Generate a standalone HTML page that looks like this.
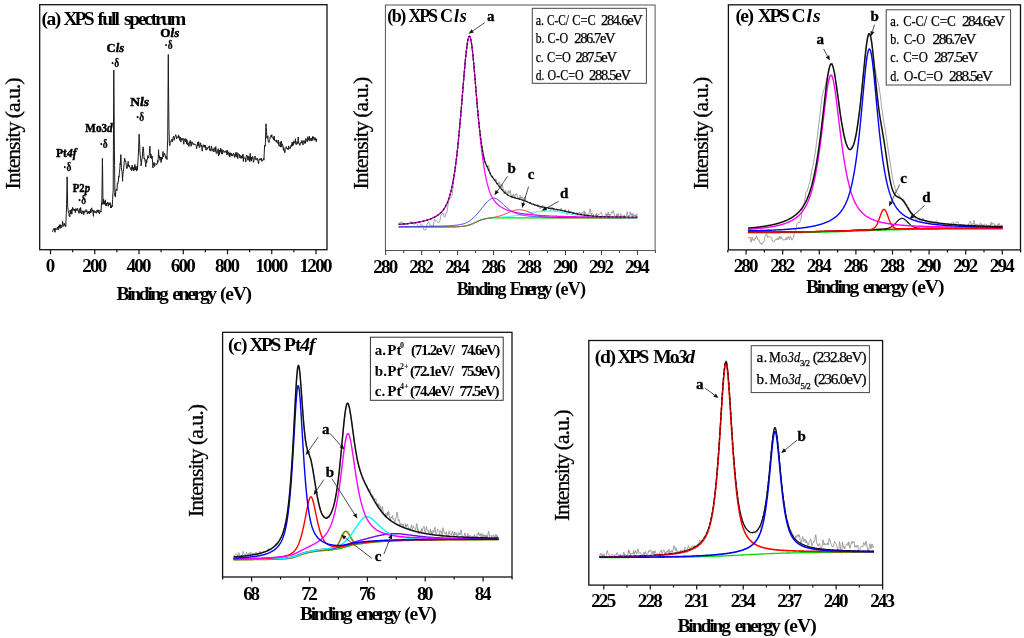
<!DOCTYPE html><html><head><meta charset="utf-8"><style>html,body{margin:0;padding:0;background:#fff;width:1024px;height:638px;overflow:hidden}</style></head><body><svg width="1024" height="638" viewBox="0 0 1024 638" style="display:block;filter:blur(0.3px)">
<rect width="1024" height="638" fill="#fff"/>
<g font-family="'Liberation Serif', serif">
<rect x="39.70" y="4.70" width="287.30" height="245.00" fill="none" stroke="#111" stroke-width="1.3"/>
<path d="M50.50,249.70V254.20M94.75,249.70V254.20M139.00,249.70V254.20M183.25,249.70V254.20M227.50,249.70V254.20M271.75,249.70V254.20M316.00,249.70V254.20M72.62,249.70V252.20M116.88,249.70V252.20M161.12,249.70V252.20M205.38,249.70V252.20M249.62,249.70V252.20M293.88,249.70V252.20" stroke="#111" stroke-width="1.2" fill="none"/>
<text x="50.50" y="271.80" font-size="19" font-weight="bold" text-anchor="middle" textLength="8.30" lengthAdjust="spacing" >0</text>
<text x="94.75" y="271.80" font-size="19" font-weight="bold" text-anchor="middle" textLength="24.90" lengthAdjust="spacing" >200</text>
<text x="139.00" y="271.80" font-size="19" font-weight="bold" text-anchor="middle" textLength="24.90" lengthAdjust="spacing" >400</text>
<text x="183.25" y="271.80" font-size="19" font-weight="bold" text-anchor="middle" textLength="24.90" lengthAdjust="spacing" >600</text>
<text x="227.50" y="271.80" font-size="19" font-weight="bold" text-anchor="middle" textLength="24.90" lengthAdjust="spacing" >800</text>
<text x="271.75" y="271.80" font-size="19" font-weight="bold" text-anchor="middle" textLength="33.20" lengthAdjust="spacing" >1000</text>
<text x="316.00" y="271.80" font-size="19" font-weight="bold" text-anchor="middle" textLength="33.20" lengthAdjust="spacing" >1200</text>
<text x="116.60" y="299.50" font-size="19.5" font-weight="bold" textLength="52.12" lengthAdjust="spacing">Binding</text>
<text x="172.23" y="299.50" font-size="19.5" font-weight="bold" textLength="44.85" lengthAdjust="spacing">energy</text>
<text x="219.91" y="299.50" font-size="19.5" font-weight="bold" textLength="32.19" lengthAdjust="spacing">(eV)</text>
<text x="19.80" y="133.45" font-size="21.8" text-anchor="middle" textLength="111.90" lengthAdjust="spacing" transform="rotate(-90 19.80 133.45)" stroke="#000" stroke-width="0.3">Intensity (a.u.)</text>
<text x="41.60" y="24.50" font-size="19.5" font-weight="bold" textLength="19.70" lengthAdjust="spacing">(a)</text>
<text x="63.40" y="24.50" font-size="19.5" font-weight="bold" textLength="31.10" lengthAdjust="spacing">XPS</text>
<text x="97.60" y="24.50" font-size="19.5" font-weight="bold" textLength="22.30" lengthAdjust="spacing">full</text>
<text x="124.00" y="24.50" font-size="19.5" font-weight="bold" textLength="62.30" lengthAdjust="spacing">spectrum</text>
<path d="M52.2,231.5L52.2,231.5L52.6,231.8L53.0,230.4L53.4,228.9L53.8,229.5L54.2,228.2L54.6,230.0L55.0,232.3L55.4,228.4L55.8,227.9L56.0,229.0L56.2,230.0L56.6,229.6L57.0,229.1L57.4,227.0L57.8,228.7L58.2,230.1L58.6,226.0L59.0,227.7L59.4,224.8L59.8,225.9L60.0,228.5L60.2,224.6L60.6,227.5L61.0,225.1L61.4,227.9L61.8,227.3L62.2,226.3L62.6,221.3L63.0,224.9L63.0,226.0L63.4,226.0L63.8,226.4L64.2,223.2L64.6,225.4L65.0,224.5L65.4,224.9L65.7,226.6L65.8,226.6L66.2,214.6L66.5,210.0L66.6,204.4L67.0,184.2L67.1,176.9L67.4,190.8L67.7,207.0L67.8,207.4L68.2,210.4L68.6,212.9L69.0,212.9L69.1,216.0L69.4,215.4L69.8,216.9L70.2,210.0L70.6,213.8L71.0,211.2L71.0,211.0L71.4,209.4L71.8,214.3L72.2,211.5L72.6,207.3L73.0,209.5L73.4,210.2L73.4,209.0L73.8,208.8L74.2,210.7L74.6,209.3L75.0,210.9L75.4,212.6L75.8,208.6L76.2,210.5L76.6,209.3L77.0,210.6L77.4,208.1L77.8,209.5L78.2,210.4L78.6,212.8L79.0,213.4L79.4,208.6L79.8,209.8L80.0,211.5L80.2,212.8L80.6,207.5L81.0,210.6L81.4,211.3L81.8,214.1L82.2,212.9L82.6,210.9L83.0,210.9L83.4,211.1L83.8,214.7L84.2,210.8L84.6,211.0L85.0,212.4L85.4,211.4L85.8,211.3L86.2,209.5L86.6,211.7L87.0,210.8L87.4,214.1L87.8,213.0L88.2,211.7L88.6,213.1L89.0,211.1L89.4,213.9L89.8,211.8L90.0,211.8L90.2,213.0L90.6,209.2L91.0,212.5L91.4,208.4L91.8,207.8L92.2,211.2L92.6,210.0L93.0,212.2L93.4,216.4L93.8,210.2L94.2,210.6L94.6,212.3L95.0,212.9L95.4,211.5L95.8,211.5L96.2,213.3L96.6,213.0L97.0,209.9L97.4,211.8L97.8,212.0L98.2,209.8L98.6,212.5L99.0,210.2L99.4,213.9L99.8,212.4L100.2,212.2L100.6,210.8L101.0,211.8L101.0,212.0L101.4,204.5L101.8,202.7L101.8,205.0L102.2,174.7L102.4,158.4L102.6,168.8L103.0,204.1L103.0,202.4L103.4,199.0L103.8,204.1L104.2,200.9L104.6,204.3L105.0,203.1L105.4,199.8L105.8,205.5L106.0,203.0L106.2,206.0L106.6,203.2L107.0,203.0L107.4,203.4L107.8,201.9L108.2,206.3L108.6,203.2L109.0,204.4L109.4,203.1L109.8,203.6L110.0,205.0L110.2,202.6L110.6,208.0L111.0,205.5L111.4,208.0L111.8,206.4L112.2,205.3L112.2,206.7L112.6,199.4L113.0,192.2L113.2,190.0L113.4,150.3L113.8,70.1L113.8,70.9L114.2,123.0L114.4,150.0L114.6,165.4L114.9,195.5L115.0,193.5L115.4,197.1L115.8,191.1L116.2,188.9L116.5,190.0L116.6,190.2L117.0,190.6L117.4,183.0L117.8,183.7L118.2,181.0L118.4,181.4L118.6,176.1L119.0,177.4L119.4,172.2L119.8,168.8L120.2,163.5L120.2,165.0L120.6,159.0L120.8,154.6L121.0,157.9L121.4,167.5L121.5,170.0L121.8,170.1L122.2,173.0L122.6,181.3L122.6,178.6L123.0,173.7L123.4,171.4L123.8,166.9L124.0,165.0L124.2,162.1L124.6,158.1L124.7,158.1L125.0,160.6L125.4,160.4L125.8,162.4L126.2,164.4L126.6,168.4L126.9,167.3L127.0,168.4L127.4,166.8L127.8,163.9L128.2,161.3L128.3,163.8L128.6,166.2L129.0,166.8L129.4,165.2L129.8,167.2L130.2,168.3L130.6,169.0L131.0,169.8L131.0,168.0L131.4,167.0L131.8,170.8L132.2,165.1L132.6,169.2L133.0,168.3L133.4,168.9L133.8,170.8L134.0,167.0L134.2,170.2L134.6,165.3L135.0,164.5L135.4,169.9L135.8,166.6L136.2,169.0L136.6,171.1L137.0,166.4L137.4,165.9L137.4,170.1L137.8,163.9L138.2,156.8L138.6,149.5L138.6,150.0L139.0,137.4L139.1,134.2L139.4,139.3L139.8,147.0L139.8,150.0L140.2,155.0L140.6,158.7L141.0,162.6L141.0,165.9L141.4,164.0L141.8,160.0L142.2,158.0L142.5,155.0L142.6,151.7L143.0,146.9L143.1,146.9L143.4,148.6L143.8,153.8L144.0,158.0L144.2,158.9L144.6,158.0L145.0,161.3L145.4,162.4L145.8,166.8L145.9,163.0L146.2,159.5L146.6,163.1L147.0,160.2L147.4,159.4L147.8,155.6L148.2,156.7L148.6,158.1L149.0,155.5L149.3,155.0L149.4,153.7L149.8,147.1L149.9,146.2L150.2,152.4L150.6,155.3L150.8,158.0L151.0,154.3L151.4,158.6L151.8,157.3L152.2,156.1L152.6,162.8L153.0,167.9L153.0,165.2L153.4,165.1L153.8,162.4L154.2,162.6L154.6,166.5L155.0,164.4L155.4,163.9L155.8,163.5L156.2,163.4L156.6,164.8L157.0,164.0L157.4,163.1L157.8,160.4L157.9,162.4L158.2,158.6L158.6,149.7L158.6,151.1L159.0,157.2L159.3,158.0L159.4,155.8L159.8,159.4L160.0,160.3L160.2,160.0L160.6,156.9L161.0,162.6L161.4,161.6L161.8,157.2L162.2,159.2L162.6,158.0L163.0,151.5L163.4,156.8L163.8,155.7L164.2,155.5L164.2,155.3L164.6,153.3L165.0,155.1L165.4,155.5L165.8,158.4L166.2,156.8L166.6,156.3L167.0,159.6L167.0,156.5L167.4,146.0L167.7,140.0L167.8,125.0L168.2,65.1L168.3,54.5L168.6,92.9L168.9,125.0L169.0,130.3L169.4,143.5L169.5,145.0L169.8,145.6L170.2,143.5L170.6,142.8L171.0,140.9L171.4,140.0L171.8,139.6L172.0,139.0L172.2,141.9L172.6,139.6L173.0,138.0L173.4,136.7L173.8,136.2L174.2,140.4L174.6,137.8L175.0,136.6L175.0,136.5L175.4,136.0L175.8,134.6L176.2,136.9L176.6,138.9L177.0,136.6L177.4,137.1L177.8,137.3L178.2,138.1L178.6,134.9L179.0,137.8L179.4,136.7L179.8,140.3L180.2,137.2L180.6,140.1L181.0,142.1L181.4,138.6L181.8,138.2L182.2,140.0L182.6,139.8L183.0,138.0L183.4,141.1L183.8,144.3L184.2,140.0L184.6,140.3L185.0,138.7L185.4,141.6L185.8,138.7L186.2,139.1L186.6,144.1L187.0,139.9L187.4,144.0L187.8,145.1L188.2,142.7L188.6,143.5L189.0,146.5L189.4,142.3L189.8,141.7L190.0,143.0L190.2,140.4L190.6,143.3L191.0,146.3L191.4,145.3L191.8,141.7L192.2,141.9L192.6,142.8L193.0,144.5L193.4,143.6L193.8,144.6L194.2,144.9L194.6,143.8L195.0,144.4L195.4,145.0L195.8,144.6L196.2,145.9L196.6,148.7L197.0,146.3L197.4,145.3L197.8,142.0L198.2,146.2L198.6,141.7L199.0,142.9L199.4,147.5L199.8,147.4L200.2,145.8L200.6,142.8L201.0,145.6L201.4,145.1L201.8,147.8L202.2,151.2L202.6,147.2L203.0,145.3L203.4,144.7L203.8,147.0L204.2,146.9L204.6,145.1L205.0,147.7L205.4,145.3L205.8,150.0L206.2,150.0L206.6,150.1L207.0,147.2L207.4,149.2L207.8,148.1L208.2,147.7L208.6,147.9L209.0,146.1L209.4,145.9L209.8,150.5L210.0,149.0L210.2,148.7L210.6,149.6L211.0,151.2L211.4,145.9L211.8,147.9L212.2,149.9L212.6,150.4L213.0,149.0L213.4,151.9L213.8,150.3L214.2,147.6L214.6,148.2L215.0,151.8L215.4,151.2L215.8,146.6L216.2,153.2L216.6,151.8L217.0,153.4L217.4,150.0L217.8,150.3L218.2,148.7L218.6,156.1L219.0,150.8L219.4,154.4L219.8,150.1L220.0,151.4L220.2,151.8L220.6,148.2L221.0,150.9L221.4,153.8L221.8,149.4L222.2,154.2L222.6,152.8L223.0,150.1L223.4,151.3L223.8,151.5L224.2,152.5L224.6,151.6L225.0,151.1L225.4,152.3L225.8,151.0L226.2,150.5L226.6,153.1L227.0,155.1L227.4,150.4L227.8,153.6L228.2,152.4L228.6,151.8L229.0,155.6L229.4,153.0L229.8,157.1L230.2,152.7L230.6,155.1L231.0,154.0L231.4,153.1L231.8,155.9L232.2,154.5L232.6,156.1L233.0,154.9L233.4,153.0L233.8,155.0L234.2,155.5L234.6,157.4L235.0,153.8L235.4,155.6L235.8,152.4L236.2,157.2L236.6,153.9L237.0,152.5L237.4,156.1L237.8,158.6L238.2,153.4L238.6,154.4L239.0,155.2L239.4,154.5L239.8,157.7L240.2,155.4L240.6,155.7L241.0,158.4L241.4,155.9L241.8,158.3L242.2,155.6L242.6,155.3L242.6,157.7L243.0,154.1L243.4,161.6L243.8,157.3L244.2,158.5L244.6,158.0L245.0,158.4L245.4,158.3L245.8,162.0L246.2,156.2L246.6,155.3L247.0,156.4L247.4,155.8L247.8,160.1L248.2,160.3L248.6,156.8L249.0,156.0L249.4,158.1L249.8,161.7L250.2,153.3L250.6,160.1L251.0,156.9L251.4,161.2L251.8,157.1L252.2,158.7L252.6,156.4L253.0,157.5L253.4,162.3L253.8,161.2L254.2,158.8L254.6,158.0L255.0,156.0L255.4,159.0L255.8,159.8L256.2,159.8L256.6,159.8L257.0,157.9L257.4,160.0L257.6,160.2L257.8,160.1L258.2,162.8L258.6,163.9L259.0,159.9L259.4,158.7L259.8,160.1L260.2,159.0L260.6,158.7L261.0,160.1L261.4,158.1L261.8,161.4L262.2,160.0L262.6,160.7L263.0,159.8L263.4,158.7L263.8,158.3L263.9,160.2L264.2,153.8L264.6,145.3L264.6,146.4L265.0,146.6L265.3,146.0L265.4,142.8L265.8,127.4L266.0,123.8L266.2,127.4L266.6,131.5L266.8,137.6L267.0,136.8L267.4,138.4L267.8,135.8L268.2,141.0L268.6,142.1L269.0,142.4L269.0,142.7L269.4,140.6L269.8,139.4L270.2,137.0L270.6,137.1L271.0,135.3L271.0,136.4L271.4,136.9L271.8,134.7L272.2,138.0L272.6,138.1L273.0,137.9L273.4,137.7L273.8,140.1L274.2,136.0L274.6,140.6L275.0,140.5L275.4,141.0L275.8,141.5L276.2,139.8L276.5,141.4L276.6,141.0L277.0,143.1L277.4,143.1L277.8,143.0L278.2,140.0L278.6,144.5L279.0,146.1L279.4,146.2L279.8,145.0L280.2,141.8L280.6,147.1L281.0,145.3L281.4,141.0L281.8,147.1L282.2,143.8L282.6,144.6L283.0,146.3L283.4,150.4L283.8,147.5L284.2,149.2L284.6,152.5L285.0,152.6L285.2,149.6L285.4,149.3L285.8,148.7L286.2,146.5L286.6,147.3L287.0,149.3L287.4,149.0L287.8,148.2L288.2,149.7L288.6,145.9L289.0,147.1L289.4,148.4L289.8,147.9L290.2,148.6L290.6,147.0L291.0,145.4L291.4,146.5L291.8,143.5L292.2,142.0L292.6,146.1L293.0,144.6L293.4,145.1L293.8,140.8L294.2,143.3L294.6,142.5L295.0,141.8L295.3,143.3L295.4,138.8L295.8,142.5L296.2,144.8L296.6,143.7L297.0,141.6L297.4,142.7L297.8,144.1L298.2,137.0L298.6,142.1L299.0,143.3L299.4,143.5L299.8,145.4L300.2,144.2L300.6,142.4L301.0,142.3L301.4,143.1L301.8,140.4L302.2,141.2L302.6,143.0L303.0,145.0L303.4,140.7L303.8,140.8L304.2,141.2L304.6,143.3L305.0,140.5L305.4,143.4L305.8,138.4L306.2,139.8L306.6,139.7L307.0,141.5L307.4,141.9L307.8,136.7L308.2,137.8L308.6,140.2L309.0,138.1L309.4,136.2L309.8,141.2L310.2,140.0L310.6,139.9L311.0,137.9L311.4,140.8L311.8,138.1L312.2,140.7L312.6,136.5L312.8,138.3L313.0,136.7L313.4,139.0L313.8,137.4L314.2,140.3L314.6,139.7L315.0,137.5L315.4,139.7L315.8,139.0L316.2,141.7L316.6,138.8L316.6,140.1" fill="none" stroke="#1a1a1a" stroke-width="1.0" stroke-linejoin="round" />
<text x="56.00" y="157.00" font-size="12" font-weight="bold" textLength="20.70" lengthAdjust="spacingAndGlyphs" stroke="#000" stroke-width="0.45">Pt<tspan font-style="italic">4f</tspan></text>
<text x="67.30" y="171.00" font-size="11.5" font-weight="bold" text-anchor="middle" textLength="8" lengthAdjust="spacingAndGlyphs" stroke="#000" stroke-width="0.3">·δ</text>
<text x="72.70" y="192.40" font-size="12" font-weight="bold" textLength="17.30" lengthAdjust="spacingAndGlyphs" stroke="#000" stroke-width="0.45">P2<tspan font-style="italic">p</tspan></text>
<text x="82.10" y="204.00" font-size="11.5" font-weight="bold" text-anchor="middle" textLength="8" lengthAdjust="spacingAndGlyphs" stroke="#000" stroke-width="0.3">·δ</text>
<text x="85.30" y="132.00" font-size="12" font-weight="bold" textLength="27.40" lengthAdjust="spacingAndGlyphs" stroke="#000" stroke-width="0.45">Mo3<tspan font-style="italic">d</tspan></text>
<text x="103.70" y="148.40" font-size="11.5" font-weight="bold" text-anchor="middle" textLength="8" lengthAdjust="spacingAndGlyphs" stroke="#000" stroke-width="0.3">·δ</text>
<text x="106.60" y="51.90" font-size="12" font-weight="bold" textLength="17.50" lengthAdjust="spacingAndGlyphs" stroke="#000" stroke-width="0.45">C<tspan font-style="italic">ls</tspan></text>
<text x="115.10" y="66.70" font-size="11.5" font-weight="bold" text-anchor="middle" textLength="8" lengthAdjust="spacingAndGlyphs" stroke="#000" stroke-width="0.3">·δ</text>
<text x="130.20" y="106.20" font-size="12" font-weight="bold" textLength="18.90" lengthAdjust="spacingAndGlyphs" stroke="#000" stroke-width="0.45">N<tspan font-style="italic">ls</tspan></text>
<text x="140.10" y="121.00" font-size="11.5" font-weight="bold" text-anchor="middle" textLength="8" lengthAdjust="spacingAndGlyphs" stroke="#000" stroke-width="0.3">·δ</text>
<text x="160.30" y="37.20" font-size="12" font-weight="bold" textLength="19.00" lengthAdjust="spacingAndGlyphs" stroke="#000" stroke-width="0.45">O<tspan font-style="italic">ls</tspan></text>
<text x="168.50" y="49.40" font-size="11.5" font-weight="bold" text-anchor="middle" textLength="8" lengthAdjust="spacingAndGlyphs" stroke="#000" stroke-width="0.3">·δ</text>
<rect x="385.40" y="5.00" width="269.70" height="245.50" fill="none" stroke="#555" stroke-width="1.0"/>
<path d="M385.70,250.50V255.00M421.66,250.50V255.00M457.62,250.50V255.00M493.58,250.50V255.00M529.54,250.50V255.00M565.50,250.50V255.00M601.46,250.50V255.00M637.42,250.50V255.00M403.68,250.50V253.00M439.64,250.50V253.00M475.60,250.50V253.00M511.56,250.50V253.00M547.52,250.50V253.00M583.48,250.50V253.00M619.44,250.50V253.00M655.40,250.50V253.00" stroke="#333" stroke-width="1.0" fill="none"/>
<text x="385.70" y="272.90" font-size="19" font-weight="bold" text-anchor="middle" textLength="24.90" lengthAdjust="spacing" >280</text>
<text x="421.66" y="272.90" font-size="19" font-weight="bold" text-anchor="middle" textLength="24.90" lengthAdjust="spacing" >282</text>
<text x="457.62" y="272.90" font-size="19" font-weight="bold" text-anchor="middle" textLength="24.90" lengthAdjust="spacing" >284</text>
<text x="493.58" y="272.90" font-size="19" font-weight="bold" text-anchor="middle" textLength="24.90" lengthAdjust="spacing" >286</text>
<text x="529.54" y="272.90" font-size="19" font-weight="bold" text-anchor="middle" textLength="24.90" lengthAdjust="spacing" >288</text>
<text x="565.50" y="272.90" font-size="19" font-weight="bold" text-anchor="middle" textLength="24.90" lengthAdjust="spacing" >290</text>
<text x="601.46" y="272.90" font-size="19" font-weight="bold" text-anchor="middle" textLength="24.90" lengthAdjust="spacing" >292</text>
<text x="637.42" y="272.90" font-size="19" font-weight="bold" text-anchor="middle" textLength="24.90" lengthAdjust="spacing" >294</text>
<text x="456.80" y="295.40" font-size="18" font-weight="bold" textLength="49.68" lengthAdjust="spacing">Binding</text>
<text x="509.79" y="295.40" font-size="18" font-weight="bold" textLength="42.75" lengthAdjust="spacing">Energy</text>
<text x="555.21" y="295.40" font-size="18" font-weight="bold" textLength="30.69" lengthAdjust="spacing">(eV)</text>
<text x="367.70" y="133.10" font-size="21.8" text-anchor="middle" textLength="112.80" lengthAdjust="spacing" transform="rotate(-90 367.70 133.10)" stroke="#000" stroke-width="0.3">Intensity (a.u.)</text>
<text x="387.30" y="22.40" font-size="18" font-weight="bold" textLength="19.00" lengthAdjust="spacing">(b)</text>
<text x="408.40" y="22.40" font-size="18" font-weight="bold" textLength="29.60" lengthAdjust="spacing">XPS</text>
<text x="440.10" y="22.40" font-size="18" font-weight="bold" textLength="26.60" lengthAdjust="spacing">C<tspan font-style="italic">ls</tspan></text>
<path d="M398.7,223.3L399.2,222.9L399.7,223.3L400.2,222.7L400.7,221.9L401.2,222.2L401.7,222.4L402.2,222.1L402.7,222.4L403.2,223.6L403.7,224.4L404.2,223.9L404.7,223.5L405.2,224.1L405.7,224.4L406.2,224.3L406.7,224.6L407.2,224.5L407.7,223.6L408.2,223.1L408.7,223.6L409.2,224.1L409.7,223.7L410.2,222.4L410.7,221.7L411.2,221.3L411.7,221.4L412.2,222.4L412.7,223.1L413.2,223.4L413.7,224.2L414.2,224.4L414.7,224.1L415.2,223.7L415.7,223.1L416.2,222.6L416.7,223.8L417.2,224.6L417.7,225.0L418.2,226.2L418.7,227.2L419.2,227.3L419.7,226.5L420.2,225.5L420.7,224.4L421.2,223.8L421.7,224.3L422.2,225.3L422.7,226.3L423.2,227.6L423.7,229.3L424.2,230.0L424.7,230.0L425.2,230.2L425.7,229.9L426.2,228.0L426.7,225.3L427.2,224.1L427.7,223.2L428.2,222.1L428.7,222.1L429.2,223.0L429.7,223.9L430.2,225.6L430.7,226.6L431.2,226.0L431.7,225.5L432.2,225.4L432.7,225.9L433.2,225.9L433.7,223.9L434.2,220.5L434.7,219.3L435.2,220.2L435.7,221.0L436.2,220.7L436.7,220.7L437.2,221.7L437.7,222.5L438.2,222.6L438.7,222.5L439.2,222.4L439.7,221.3L440.2,219.2L440.7,216.7L441.2,214.6L441.7,214.1L442.2,214.1L442.7,213.3L443.2,213.3L443.7,215.0L444.2,216.8L444.7,217.3L445.2,216.0L445.7,213.9L446.2,212.8L446.7,212.8L447.2,211.1L447.7,207.0L448.2,203.6L448.7,201.5L449.2,199.4L449.7,198.1L450.2,197.6L450.7,197.7L451.2,197.6L451.7,196.5L452.2,194.4L452.7,190.8L453.2,186.0L453.7,180.7L454.2,176.6L454.7,173.4L455.2,169.6L455.7,165.9L456.2,162.4L456.7,158.7L457.2,154.2L457.7,148.7L458.2,142.6L458.7,136.6L459.2,131.0L459.7,125.5L460.2,119.8L460.7,114.5L461.2,109.3L461.7,103.4L462.2,96.5L462.7,89.8L463.2,84.5L463.7,79.7L464.2,74.4L464.7,68.1L465.2,61.7L465.7,57.0L466.2,53.7L466.7,50.3L467.2,46.9L467.7,43.2L468.2,39.4L468.7,37.4L469.2,37.0L469.7,37.2L470.2,38.0L470.7,39.3L471.2,41.0L471.7,43.5L472.2,47.5L472.7,52.3L473.2,57.6L473.7,63.4L474.2,69.7L474.7,76.0L475.2,81.7L475.7,87.4L476.2,93.0L476.7,98.5L477.2,104.4L477.7,110.3L478.2,115.9L478.7,121.0L479.2,125.0L479.7,129.4L480.2,133.7L480.7,137.4L481.2,141.0L481.7,144.8L482.2,148.0L482.7,150.0L483.2,152.2L483.7,154.7L484.2,156.9L484.7,159.6L485.2,161.9L485.7,162.6L486.2,163.8L486.7,165.4L487.2,165.6L487.7,167.7L488.2,166.5L488.7,165.5L489.2,168.1L489.7,172.0L490.2,174.0L490.7,175.2L491.2,176.3L491.7,175.8L492.2,176.6L492.7,176.7L493.2,177.3L493.7,179.1L494.2,179.3L494.7,180.0L495.2,180.4L495.7,178.6L496.2,179.0L496.7,183.0L497.2,184.6L497.7,184.6L498.2,184.1L498.7,182.6L499.2,181.6L499.7,184.5L500.2,184.8L500.7,184.4L501.2,185.4L501.7,187.5L502.2,184.4L502.7,186.4L503.2,189.0L503.7,190.0L504.2,193.7L504.7,192.1L505.2,190.2L505.7,190.8L506.2,192.3L506.7,192.8L507.2,194.2L507.7,193.9L508.2,190.6L508.7,192.2L509.2,193.5L509.7,191.3L510.2,190.3L510.7,192.9L511.2,195.8L511.7,195.9L512.2,195.1L512.7,197.9L513.2,194.2L513.7,195.8L514.2,197.7L514.7,196.7L515.2,194.0L515.7,195.0L516.2,194.0L516.7,193.8L517.2,196.6L517.7,198.6L518.2,198.5L518.7,198.1L519.2,197.9L519.7,196.5L520.2,195.4L520.7,198.6L521.2,197.1L521.7,198.4L522.2,196.7L522.7,197.2L523.2,199.4L523.7,198.6L524.2,198.6L524.7,197.1L525.2,197.6L525.7,200.9L526.2,200.4L526.7,201.9L527.2,201.5L527.7,202.1L528.2,202.6L528.7,202.9L529.2,203.2L529.7,203.3L530.2,203.1L530.7,202.6L531.2,203.3L531.7,204.6L532.2,204.7L532.7,204.3L533.2,204.3L533.7,204.3L534.2,204.4L534.7,204.4L535.2,204.3L535.7,204.6L536.2,205.3L536.7,204.8L537.2,204.2L537.7,204.7L538.2,205.4L538.7,205.6L539.2,206.0L539.7,207.8L540.2,208.9L540.7,207.5L541.2,206.7L541.7,206.6L542.2,206.0L542.7,205.2L543.2,205.6L543.7,207.0L544.2,208.1L544.7,208.5L545.2,208.1L545.7,208.9L546.2,209.6L546.7,208.1L547.2,207.1L547.7,207.5L548.2,208.3L548.7,208.7L549.2,208.4L549.7,208.2L550.2,209.5L550.7,210.8L551.2,209.4L551.7,207.1L552.2,207.0L552.7,208.0L553.2,209.0L553.7,210.0L554.2,211.0L554.7,211.2L555.2,210.6L555.7,210.0L556.2,209.8L556.7,210.4L557.2,211.0L557.7,210.7L558.2,210.5L558.7,210.8L559.2,210.5L559.7,209.7L560.2,209.1L560.7,208.8L561.2,208.2L561.7,208.4L562.2,210.2L562.7,211.3L563.2,211.5L563.7,211.9L564.2,211.8L564.7,210.5L565.2,209.4L565.7,210.5L566.2,212.4L566.7,213.9L567.2,214.4L567.7,213.0L568.2,210.7L568.7,209.7L569.2,211.4L569.7,212.7L570.2,211.9L570.7,211.1L571.2,211.4L571.7,211.5L572.2,211.9L572.7,212.5L573.2,213.0L573.7,212.8L574.2,212.8L574.7,212.6L575.2,212.8L575.7,213.3L576.2,212.9L576.7,213.0L577.2,212.9L577.7,214.1L578.2,214.7L578.7,213.8L579.2,212.2L579.7,212.4L580.2,213.5L580.7,213.0L581.2,213.1L581.7,214.5L582.2,212.4L582.7,212.5L583.2,213.4L583.7,212.4L584.2,210.8L584.7,214.3L585.2,212.2L585.7,213.3L586.2,214.5L586.7,215.9L587.2,213.8L587.7,215.1L588.2,215.7L588.7,214.9L589.2,212.4L589.7,210.3L590.2,208.8L590.7,211.3L591.2,215.0L591.7,213.4L592.2,213.6L592.7,213.8L593.2,213.9L593.7,215.5L594.2,218.0L594.7,217.1L595.2,215.8L595.7,214.4L596.2,214.9L596.7,213.3L597.2,216.6L597.7,216.1L598.2,214.8L598.7,214.1L599.2,214.6L599.7,214.1L600.2,213.3L600.7,212.6L601.2,212.2L601.7,213.1L602.2,215.8L602.7,217.3L603.2,216.8L603.7,216.6L604.2,216.7L604.7,216.1L605.2,215.9L605.7,213.8L606.2,213.3L606.7,216.2L607.2,214.0L607.7,215.5L608.2,212.1L608.7,215.2L609.2,214.0L609.7,216.2L610.2,215.6L610.7,214.7L611.2,212.8L611.7,211.7L612.2,213.1L612.7,212.1L613.2,210.6L613.7,211.8L614.2,214.3L614.7,215.9L615.2,215.9L615.7,217.8L616.2,216.3L616.7,214.4L617.2,216.4L617.7,213.6L618.2,213.4L618.7,216.4L619.2,218.8L619.7,218.2L620.2,214.9L620.7,213.8L621.2,214.7L621.7,214.9L622.2,217.6L622.7,216.0L623.2,216.1L623.7,217.2L624.2,214.8L624.7,216.3L625.2,218.4L625.7,216.7L626.2,215.9L626.7,214.6L627.2,211.7L627.7,214.2L628.2,216.9L628.7,215.5L629.2,216.0L629.7,215.8L630.2,211.7L630.7,213.1L631.2,215.5L631.7,213.8L632.2,213.7L632.7,216.9L633.2,213.7L633.7,213.8L634.2,215.9L634.7,216.0L635.2,214.9L635.7,217.5L636.2,215.1L636.7,214.0L637.2,217.2" fill="none" stroke="#8a8a8a" stroke-width="0.8" stroke-linejoin="round" />
<path d="M398.7,226.9L399.2,226.9L399.7,226.9L400.2,226.9L400.7,226.9L401.2,226.9L401.7,226.9L402.2,226.9L402.7,226.9L403.2,226.9L403.7,226.9L404.2,226.9L404.7,226.9L405.2,226.9L405.7,226.9L406.2,226.9L406.7,226.9L407.2,226.9L407.7,226.9L408.2,226.9L408.7,226.9L409.2,226.9L409.7,226.9L410.2,226.9L410.7,226.9L411.2,226.9L411.7,226.9L412.2,226.9L412.7,226.9L413.2,226.9L413.7,226.9L414.2,226.9L414.7,226.9L415.2,226.9L415.7,226.9L416.2,226.9L416.7,226.9L417.2,226.9L417.7,226.9L418.2,226.9L418.7,226.9L419.2,226.9L419.7,226.9L420.2,226.9L420.7,226.9L421.2,226.9L421.7,226.9L422.2,226.9L422.7,226.9L423.2,226.9L423.7,226.9L424.2,226.9L424.7,226.9L425.2,226.9L425.7,226.9L426.2,226.9L426.7,226.9L427.2,226.9L427.7,226.9L428.2,226.9L428.7,226.9L429.2,226.9L429.7,226.9L430.2,226.9L430.7,226.9L431.2,226.9L431.7,226.9L432.2,226.9L432.7,226.9L433.2,226.9L433.7,226.9L434.2,226.9L434.7,226.9L435.2,226.9L435.7,226.9L436.2,226.9L436.7,226.9L437.2,226.9L437.7,226.9L438.2,226.9L438.7,226.9L439.2,226.9L439.7,226.9L440.2,226.9L440.7,226.9L441.2,226.9L441.7,226.9L442.2,226.9L442.7,226.9L443.2,226.9L443.7,226.9L444.2,226.9L444.7,226.9L445.2,226.9L445.7,226.9L446.2,226.9L446.7,226.9L447.2,226.9L447.7,226.9L448.2,226.9L448.7,226.8L449.2,226.8L449.7,226.8L450.2,226.8L450.7,226.8L451.2,226.8L451.7,226.8L452.2,226.8L452.7,226.8L453.2,226.8L453.7,226.8L454.2,226.8L454.7,226.8L455.2,226.8L455.7,226.7L456.2,226.7L456.7,226.7L457.2,226.7L457.7,226.7L458.2,226.7L458.7,226.6L459.2,226.6L459.7,226.6L460.2,226.5L460.7,226.5L461.2,226.5L461.7,226.4L462.2,226.4L462.7,226.3L463.2,226.3L463.7,226.2L464.2,226.1L464.7,226.1L465.2,226.0L465.7,225.9L466.2,225.8L466.7,225.7L467.2,225.6L467.7,225.4L468.2,225.3L468.7,225.2L469.2,225.0L469.7,224.8L470.2,224.7L470.7,224.5L471.2,224.3L471.7,224.1L472.2,223.9L472.7,223.7L473.2,223.5L473.7,223.2L474.2,223.0L474.7,222.8L475.2,222.5L475.7,222.3L476.2,222.0L476.7,221.8L477.2,221.6L477.7,221.3L478.2,221.1L478.7,220.9L479.2,220.7L479.7,220.5L480.2,220.3L480.7,220.1L481.2,219.9L481.7,219.7L482.2,219.6L482.7,219.4L483.2,219.3L483.7,219.2L484.2,219.1L484.7,218.9L485.2,218.8L485.7,218.7L486.2,218.7L486.7,218.6L487.2,218.5L487.7,218.4L488.2,218.4L488.7,218.3L489.2,218.3L489.7,218.2L490.2,218.2L490.7,218.1L491.2,218.1L491.7,218.1L492.2,218.0L492.7,218.0L493.2,218.0L493.7,218.0L494.2,218.0L494.7,217.9L495.2,217.9L495.7,217.9L496.2,217.9L496.7,217.9L497.2,217.9L497.7,217.9L498.2,217.9L498.7,217.8L499.2,217.8L499.7,217.8L500.2,217.8L500.7,217.8L501.2,217.8L501.7,217.8L502.2,217.8L502.7,217.8L503.2,217.8L503.7,217.8L504.2,217.8L504.7,217.8L505.2,217.8L505.7,217.8L506.2,217.8L506.7,217.8L507.2,217.8L507.7,217.8L508.2,217.8L508.7,217.8L509.2,217.8L509.7,217.8L510.2,217.8L510.7,217.8L511.2,217.8L511.7,217.8L512.2,217.8L512.7,217.8L513.2,217.8L513.7,217.8L514.2,217.8L514.7,217.8L515.2,217.8L515.7,217.8L516.2,217.8L516.7,217.8L517.2,217.8L517.7,217.8L518.2,217.8L518.7,217.8L519.2,217.8L519.7,217.8L520.2,217.8L520.7,217.8L521.2,217.8L521.7,217.8L522.2,217.8L522.7,217.8L523.2,217.8L523.7,217.8L524.2,217.8L524.7,217.8L525.2,217.8L525.7,217.8L526.2,217.8L526.7,217.8L527.2,217.8L527.7,217.8L528.2,217.8L528.7,217.8L529.2,217.8L529.7,217.8L530.2,217.8L530.7,217.8L531.2,217.8L531.7,217.8L532.2,217.8L532.7,217.8L533.2,217.8L533.7,217.8L534.2,217.8L534.7,217.8L535.2,217.8L535.7,217.8L536.2,217.8L536.7,217.8L537.2,217.8L537.7,217.8L538.2,217.8L538.7,217.8L539.2,217.8L539.7,217.8L540.2,217.8L540.7,217.8L541.2,217.8L541.7,217.8L542.2,217.8L542.7,217.8L543.2,217.8L543.7,217.8L544.2,217.8L544.7,217.8L545.2,217.8L545.7,217.8L546.2,217.8L546.7,217.8L547.2,217.8L547.7,217.8L548.2,217.8L548.7,217.8L549.2,217.8L549.7,217.8L550.2,217.8L550.7,217.8L551.2,217.8L551.7,217.8L552.2,217.8L552.7,217.8L553.2,217.8L553.7,217.8L554.2,217.8L554.7,217.8L555.2,217.8L555.7,217.8L556.2,217.8L556.7,217.8L557.2,217.8L557.7,217.8L558.2,217.8L558.7,217.8L559.2,217.8L559.7,217.8L560.2,217.8L560.7,217.8L561.2,217.8L561.7,217.8L562.2,217.8L562.7,217.8L563.2,217.8L563.7,217.8L564.2,217.8L564.7,217.8L565.2,217.8L565.7,217.8L566.2,217.8L566.7,217.8L567.2,217.8L567.7,217.8L568.2,217.8L568.7,217.8L569.2,217.8L569.7,217.8L570.2,217.8L570.7,217.8L571.2,217.8L571.7,217.8L572.2,217.8L572.7,217.8L573.2,217.8L573.7,217.8L574.2,217.8L574.7,217.8L575.2,217.8L575.7,217.8L576.2,217.8L576.7,217.8L577.2,217.8L577.7,217.8L578.2,217.8L578.7,217.8L579.2,217.8L579.7,217.8L580.2,217.8L580.7,217.8L581.2,217.8L581.7,217.8L582.2,217.8L582.7,217.8L583.2,217.8L583.7,217.8L584.2,217.8L584.7,217.8L585.2,217.8L585.7,217.8L586.2,217.8L586.7,217.8L587.2,217.8L587.7,217.8L588.2,217.8L588.7,217.8L589.2,217.8L589.7,217.8L590.2,217.8L590.7,217.8L591.2,217.8L591.7,217.8L592.2,217.8L592.7,217.8L593.2,217.8L593.7,217.8L594.2,217.8L594.7,217.8L595.2,217.8L595.7,217.8L596.2,217.8L596.7,217.8L597.2,217.8L597.7,217.8L598.2,217.8L598.7,217.8L599.2,217.8L599.7,217.8L600.2,217.8L600.7,217.8L601.2,217.8L601.7,217.8L602.2,217.8L602.7,217.8L603.2,217.8L603.7,217.8L604.2,217.8L604.7,217.8L605.2,217.8L605.7,217.8L606.2,217.8L606.7,217.8L607.2,217.8L607.7,217.8L608.2,217.8L608.7,217.8L609.2,217.8L609.7,217.8L610.2,217.8L610.7,217.8L611.2,217.8L611.7,217.8L612.2,217.8L612.7,217.8L613.2,217.8L613.7,217.8L614.2,217.8L614.7,217.8L615.2,217.8L615.7,217.8L616.2,217.8L616.7,217.8L617.2,217.8L617.7,217.8L618.2,217.8L618.7,217.8L619.2,217.8L619.7,217.8L620.2,217.8L620.7,217.8L621.2,217.8L621.7,217.8L622.2,217.8L622.7,217.8L623.2,217.8L623.7,217.8L624.2,217.8L624.7,217.8L625.2,217.8L625.7,217.8L626.2,217.8L626.7,217.8L627.2,217.8L627.7,217.8L628.2,217.8L628.7,217.8L629.2,217.8L629.7,217.8L630.2,217.8L630.7,217.8L631.2,217.8L631.7,217.8L632.2,217.8L632.7,217.8L633.2,217.8L633.7,217.8L634.2,217.8L634.7,217.8L635.2,217.8L635.7,217.8L636.2,217.8L636.7,217.8L637.2,217.8" fill="none" stroke="#00dd00" stroke-width="1.2" stroke-linejoin="round" />
<path d="M398.7,226.9L399.2,226.9L399.7,226.9L400.2,226.9L400.7,226.9L401.2,226.9L401.7,226.9L402.2,226.9L402.7,226.9L403.2,226.9L403.7,226.9L404.2,226.9L404.7,226.9L405.2,226.9L405.7,226.9L406.2,226.9L406.7,226.9L407.2,226.9L407.7,226.9L408.2,226.9L408.7,226.9L409.2,226.9L409.7,226.9L410.2,226.9L410.7,226.9L411.2,226.9L411.7,226.9L412.2,226.9L412.7,226.9L413.2,226.9L413.7,226.9L414.2,226.9L414.7,226.9L415.2,226.9L415.7,226.9L416.2,226.9L416.7,226.9L417.2,226.9L417.7,226.9L418.2,226.9L418.7,226.9L419.2,226.9L419.7,226.9L420.2,226.9L420.7,226.9L421.2,226.9L421.7,226.9L422.2,226.9L422.7,226.9L423.2,226.9L423.7,226.9L424.2,226.9L424.7,226.9L425.2,226.9L425.7,226.9L426.2,226.9L426.7,226.9L427.2,226.9L427.7,226.9L428.2,226.9L428.7,226.9L429.2,226.9L429.7,226.9L430.2,226.9L430.7,226.9L431.2,226.9L431.7,226.9L432.2,226.9L432.7,226.9L433.2,226.9L433.7,226.9L434.2,226.9L434.7,226.9L435.2,226.9L435.7,226.9L436.2,226.9L436.7,226.9L437.2,226.9L437.7,226.9L438.2,226.9L438.7,226.9L439.2,226.9L439.7,226.9L440.2,226.9L440.7,226.9L441.2,226.9L441.7,226.9L442.2,226.9L442.7,226.9L443.2,226.9L443.7,226.9L444.2,226.9L444.7,226.9L445.2,226.9L445.7,226.9L446.2,226.9L446.7,226.9L447.2,226.9L447.7,226.9L448.2,226.9L448.7,226.8L449.2,226.8L449.7,226.8L450.2,226.8L450.7,226.8L451.2,226.8L451.7,226.8L452.2,226.8L452.7,226.8L453.2,226.8L453.7,226.8L454.2,226.8L454.7,226.8L455.2,226.8L455.7,226.7L456.2,226.7L456.7,226.7L457.2,226.7L457.7,226.7L458.2,226.7L458.7,226.6L459.2,226.6L459.7,226.6L460.2,226.5L460.7,226.5L461.2,226.5L461.7,226.4L462.2,226.4L462.7,226.3L463.2,226.3L463.7,226.2L464.2,226.1L464.7,226.1L465.2,226.0L465.7,225.9L466.2,225.8L466.7,225.7L467.2,225.6L467.7,225.4L468.2,225.3L468.7,225.2L469.2,225.0L469.7,224.8L470.2,224.7L470.7,224.5L471.2,224.3L471.7,224.1L472.2,223.9L472.7,223.7L473.2,223.4L473.7,223.2L474.2,223.0L474.7,222.7L475.2,222.5L475.7,222.3L476.2,222.0L476.7,221.8L477.2,221.5L477.7,221.3L478.2,221.1L478.7,220.9L479.2,220.6L479.7,220.4L480.2,220.2L480.7,220.0L481.2,219.9L481.7,219.7L482.2,219.5L482.7,219.4L483.2,219.2L483.7,219.1L484.2,219.0L484.7,218.9L485.2,218.8L485.7,218.6L486.2,218.6L486.7,218.5L487.2,218.4L487.7,218.3L488.2,218.2L488.7,218.2L489.2,218.1L489.7,218.1L490.2,218.0L490.7,218.0L491.2,217.9L491.7,217.9L492.2,217.8L492.7,217.8L493.2,217.7L493.7,217.7L494.2,217.7L494.7,217.6L495.2,217.6L495.7,217.6L496.2,217.5L496.7,217.5L497.2,217.5L497.7,217.4L498.2,217.4L498.7,217.4L499.2,217.4L499.7,217.3L500.2,217.3L500.7,217.2L501.2,217.2L501.7,217.2L502.2,217.1L502.7,217.1L503.2,217.1L503.7,217.0L504.2,217.0L504.7,216.9L505.2,216.9L505.7,216.8L506.2,216.8L506.7,216.8L507.2,216.7L507.7,216.7L508.2,216.6L508.7,216.5L509.2,216.5L509.7,216.4L510.2,216.4L510.7,216.3L511.2,216.2L511.7,216.2L512.2,216.1L512.7,216.1L513.2,216.0L513.7,215.9L514.2,215.8L514.7,215.8L515.2,215.7L515.7,215.6L516.2,215.5L516.7,215.5L517.2,215.4L517.7,215.3L518.2,215.2L518.7,215.1L519.2,215.0L519.7,214.9L520.2,214.9L520.7,214.8L521.2,214.7L521.7,214.6L522.2,214.5L522.7,214.4L523.2,214.3L523.7,214.2L524.2,214.1L524.7,214.0L525.2,213.9L525.7,213.8L526.2,213.7L526.7,213.6L527.2,213.5L527.7,213.4L528.2,213.3L528.7,213.2L529.2,213.1L529.7,213.0L530.2,212.9L530.7,212.8L531.2,212.8L531.7,212.7L532.2,212.6L532.7,212.5L533.2,212.4L533.7,212.3L534.2,212.2L534.7,212.1L535.2,212.1L535.7,212.0L536.2,211.9L536.7,211.8L537.2,211.8L537.7,211.7L538.2,211.6L538.7,211.6L539.2,211.5L539.7,211.4L540.2,211.4L540.7,211.3L541.2,211.3L541.7,211.2L542.2,211.2L542.7,211.2L543.2,211.1L543.7,211.1L544.2,211.1L544.7,211.0L545.2,211.0L545.7,211.0L546.2,211.0L546.7,211.0L547.2,211.0L547.7,211.0L548.2,211.0L548.7,211.0L549.2,211.0L549.7,211.0L550.2,211.0L550.7,211.1L551.2,211.1L551.7,211.1L552.2,211.1L552.7,211.2L553.2,211.2L553.7,211.3L554.2,211.3L554.7,211.4L555.2,211.4L555.7,211.5L556.2,211.5L556.7,211.6L557.2,211.6L557.7,211.7L558.2,211.8L558.7,211.9L559.2,211.9L559.7,212.0L560.2,212.1L560.7,212.2L561.2,212.3L561.7,212.3L562.2,212.4L562.7,212.5L563.2,212.6L563.7,212.7L564.2,212.8L564.7,212.9L565.2,213.0L565.7,213.1L566.2,213.2L566.7,213.3L567.2,213.4L567.7,213.5L568.2,213.6L568.7,213.7L569.2,213.8L569.7,213.8L570.2,213.9L570.7,214.0L571.2,214.1L571.7,214.2L572.2,214.3L572.7,214.4L573.2,214.5L573.7,214.6L574.2,214.7L574.7,214.8L575.2,214.9L575.7,215.0L576.2,215.1L576.7,215.2L577.2,215.2L577.7,215.3L578.2,215.4L578.7,215.5L579.2,215.6L579.7,215.6L580.2,215.7L580.7,215.8L581.2,215.9L581.7,215.9L582.2,216.0L582.7,216.1L583.2,216.1L583.7,216.2L584.2,216.3L584.7,216.3L585.2,216.4L585.7,216.4L586.2,216.5L586.7,216.6L587.2,216.6L587.7,216.7L588.2,216.7L588.7,216.8L589.2,216.8L589.7,216.8L590.2,216.9L590.7,216.9L591.2,217.0L591.7,217.0L592.2,217.1L592.7,217.1L593.2,217.1L593.7,217.2L594.2,217.2L594.7,217.2L595.2,217.2L595.7,217.3L596.2,217.3L596.7,217.3L597.2,217.4L597.7,217.4L598.2,217.4L598.7,217.4L599.2,217.4L599.7,217.5L600.2,217.5L600.7,217.5L601.2,217.5L601.7,217.5L602.2,217.5L602.7,217.6L603.2,217.6L603.7,217.6L604.2,217.6L604.7,217.6L605.2,217.6L605.7,217.6L606.2,217.6L606.7,217.6L607.2,217.7L607.7,217.7L608.2,217.7L608.7,217.7L609.2,217.7L609.7,217.7L610.2,217.7L610.7,217.7L611.2,217.7L611.7,217.7L612.2,217.7L612.7,217.7L613.2,217.7L613.7,217.7L614.2,217.7L614.7,217.7L615.2,217.7L615.7,217.7L616.2,217.7L616.7,217.7L617.2,217.8L617.7,217.8L618.2,217.8L618.7,217.8L619.2,217.8L619.7,217.8L620.2,217.8L620.7,217.8L621.2,217.8L621.7,217.8L622.2,217.8L622.7,217.8L623.2,217.8L623.7,217.8L624.2,217.8L624.7,217.8L625.2,217.8L625.7,217.8L626.2,217.8L626.7,217.8L627.2,217.8L627.7,217.8L628.2,217.8L628.7,217.8L629.2,217.8L629.7,217.8L630.2,217.8L630.7,217.8L631.2,217.8L631.7,217.8L632.2,217.8L632.7,217.8L633.2,217.8L633.7,217.8L634.2,217.8L634.7,217.8L635.2,217.8L635.7,217.8L636.2,217.8L636.7,217.8L637.2,217.8" fill="none" stroke="#00ffff" stroke-width="1.0" stroke-linejoin="round" />
<path d="M398.7,226.9L399.2,226.9L399.7,226.9L400.2,226.9L400.7,226.9L401.2,226.9L401.7,226.9L402.2,226.9L402.7,226.9L403.2,226.9L403.7,226.9L404.2,226.9L404.7,226.9L405.2,226.9L405.7,226.9L406.2,226.9L406.7,226.9L407.2,226.9L407.7,226.9L408.2,226.9L408.7,226.9L409.2,226.9L409.7,226.9L410.2,226.9L410.7,226.9L411.2,226.9L411.7,226.9L412.2,226.9L412.7,226.9L413.2,226.9L413.7,226.9L414.2,226.9L414.7,226.9L415.2,226.9L415.7,226.9L416.2,226.9L416.7,226.9L417.2,226.9L417.7,226.9L418.2,226.9L418.7,226.9L419.2,226.9L419.7,226.9L420.2,226.9L420.7,226.9L421.2,226.9L421.7,226.9L422.2,226.9L422.7,226.9L423.2,226.9L423.7,226.9L424.2,226.9L424.7,226.9L425.2,226.9L425.7,226.9L426.2,226.9L426.7,226.9L427.2,226.9L427.7,226.9L428.2,226.9L428.7,226.9L429.2,226.9L429.7,226.9L430.2,226.9L430.7,226.9L431.2,226.9L431.7,226.9L432.2,226.9L432.7,226.9L433.2,226.9L433.7,226.9L434.2,226.9L434.7,226.9L435.2,226.9L435.7,226.9L436.2,226.9L436.7,226.9L437.2,226.9L437.7,226.9L438.2,226.9L438.7,226.9L439.2,226.9L439.7,226.9L440.2,226.9L440.7,226.9L441.2,226.9L441.7,226.9L442.2,226.9L442.7,226.9L443.2,226.9L443.7,226.9L444.2,226.9L444.7,226.9L445.2,226.9L445.7,226.9L446.2,226.9L446.7,226.9L447.2,226.9L447.7,226.9L448.2,226.9L448.7,226.8L449.2,226.8L449.7,226.8L450.2,226.8L450.7,226.8L451.2,226.8L451.7,226.8L452.2,226.8L452.7,226.8L453.2,226.8L453.7,226.8L454.2,226.8L454.7,226.8L455.2,226.8L455.7,226.7L456.2,226.7L456.7,226.7L457.2,226.7L457.7,226.7L458.2,226.7L458.7,226.6L459.2,226.6L459.7,226.6L460.2,226.5L460.7,226.5L461.2,226.5L461.7,226.4L462.2,226.4L462.7,226.3L463.2,226.3L463.7,226.2L464.2,226.1L464.7,226.1L465.2,226.0L465.7,225.9L466.2,225.8L466.7,225.7L467.2,225.6L467.7,225.4L468.2,225.3L468.7,225.2L469.2,225.0L469.7,224.8L470.2,224.7L470.7,224.5L471.2,224.3L471.7,224.1L472.2,223.9L472.7,223.7L473.2,223.5L473.7,223.2L474.2,223.0L474.7,222.8L475.2,222.5L475.7,222.3L476.2,222.0L476.7,221.8L477.2,221.6L477.7,221.3L478.2,221.1L478.7,220.9L479.2,220.7L479.7,220.5L480.2,220.3L480.7,220.1L481.2,219.9L481.7,219.7L482.2,219.5L482.7,219.4L483.2,219.2L483.7,219.1L484.2,219.0L484.7,218.9L485.2,218.7L485.7,218.6L486.2,218.5L486.7,218.4L487.2,218.3L487.7,218.3L488.2,218.2L488.7,218.1L489.2,218.0L489.7,217.9L490.2,217.9L490.7,217.8L491.2,217.7L491.7,217.6L492.2,217.6L492.7,217.5L493.2,217.4L493.7,217.3L494.2,217.2L494.7,217.1L495.2,217.0L495.7,216.9L496.2,216.8L496.7,216.7L497.2,216.6L497.7,216.5L498.2,216.4L498.7,216.3L499.2,216.1L499.7,216.0L500.2,215.8L500.7,215.7L501.2,215.5L501.7,215.3L502.2,215.2L502.7,215.0L503.2,214.8L503.7,214.6L504.2,214.4L504.7,214.2L505.2,214.0L505.7,213.8L506.2,213.6L506.7,213.4L507.2,213.2L507.7,213.0L508.2,212.8L508.7,212.5L509.2,212.3L509.7,212.1L510.2,211.9L510.7,211.7L511.2,211.5L511.7,211.3L512.2,211.1L512.7,211.0L513.2,210.8L513.7,210.6L514.2,210.5L514.7,210.4L515.2,210.2L515.7,210.1L516.2,210.0L516.7,209.9L517.2,209.9L517.7,209.8L518.2,209.8L518.7,209.7L519.2,209.7L519.7,209.7L520.2,209.8L520.7,209.8L521.2,209.8L521.7,209.9L522.2,210.0L522.7,210.1L523.2,210.2L523.7,210.3L524.2,210.4L524.7,210.6L525.2,210.7L525.7,210.9L526.2,211.1L526.7,211.2L527.2,211.4L527.7,211.6L528.2,211.8L528.7,212.0L529.2,212.2L529.7,212.5L530.2,212.7L530.7,212.9L531.2,213.1L531.7,213.3L532.2,213.5L532.7,213.7L533.2,213.9L533.7,214.1L534.2,214.3L534.7,214.5L535.2,214.7L535.7,214.9L536.2,215.1L536.7,215.2L537.2,215.4L537.7,215.6L538.2,215.7L538.7,215.9L539.2,216.0L539.7,216.1L540.2,216.3L540.7,216.4L541.2,216.5L541.7,216.6L542.2,216.7L542.7,216.8L543.2,216.9L543.7,216.9L544.2,217.0L544.7,217.1L545.2,217.2L545.7,217.2L546.2,217.3L546.7,217.3L547.2,217.4L547.7,217.4L548.2,217.4L548.7,217.5L549.2,217.5L549.7,217.5L550.2,217.6L550.7,217.6L551.2,217.6L551.7,217.6L552.2,217.7L552.7,217.7L553.2,217.7L553.7,217.7L554.2,217.7L554.7,217.7L555.2,217.7L555.7,217.7L556.2,217.7L556.7,217.7L557.2,217.7L557.7,217.8L558.2,217.8L558.7,217.8L559.2,217.8L559.7,217.8L560.2,217.8L560.7,217.8L561.2,217.8L561.7,217.8L562.2,217.8L562.7,217.8L563.2,217.8L563.7,217.8L564.2,217.8L564.7,217.8L565.2,217.8L565.7,217.8L566.2,217.8L566.7,217.8L567.2,217.8L567.7,217.8L568.2,217.8L568.7,217.8L569.2,217.8L569.7,217.8L570.2,217.8L570.7,217.8L571.2,217.8L571.7,217.8L572.2,217.8L572.7,217.8L573.2,217.8L573.7,217.8L574.2,217.8L574.7,217.8L575.2,217.8L575.7,217.8L576.2,217.8L576.7,217.8L577.2,217.8L577.7,217.8L578.2,217.8L578.7,217.8L579.2,217.8L579.7,217.8L580.2,217.8L580.7,217.8L581.2,217.8L581.7,217.8L582.2,217.8L582.7,217.8L583.2,217.8L583.7,217.8L584.2,217.8L584.7,217.8L585.2,217.8L585.7,217.8L586.2,217.8L586.7,217.8L587.2,217.8L587.7,217.8L588.2,217.8L588.7,217.8L589.2,217.8L589.7,217.8L590.2,217.8L590.7,217.8L591.2,217.8L591.7,217.8L592.2,217.8L592.7,217.8L593.2,217.8L593.7,217.8L594.2,217.8L594.7,217.8L595.2,217.8L595.7,217.8L596.2,217.8L596.7,217.8L597.2,217.8L597.7,217.8L598.2,217.8L598.7,217.8L599.2,217.8L599.7,217.8L600.2,217.8L600.7,217.8L601.2,217.8L601.7,217.8L602.2,217.8L602.7,217.8L603.2,217.8L603.7,217.8L604.2,217.8L604.7,217.8L605.2,217.8L605.7,217.8L606.2,217.8L606.7,217.8L607.2,217.8L607.7,217.8L608.2,217.8L608.7,217.8L609.2,217.8L609.7,217.8L610.2,217.8L610.7,217.8L611.2,217.8L611.7,217.8L612.2,217.8L612.7,217.8L613.2,217.8L613.7,217.8L614.2,217.8L614.7,217.8L615.2,217.8L615.7,217.8L616.2,217.8L616.7,217.8L617.2,217.8L617.7,217.8L618.2,217.8L618.7,217.8L619.2,217.8L619.7,217.8L620.2,217.8L620.7,217.8L621.2,217.8L621.7,217.8L622.2,217.8L622.7,217.8L623.2,217.8L623.7,217.8L624.2,217.8L624.7,217.8L625.2,217.8L625.7,217.8L626.2,217.8L626.7,217.8L627.2,217.8L627.7,217.8L628.2,217.8L628.7,217.8L629.2,217.8L629.7,217.8L630.2,217.8L630.7,217.8L631.2,217.8L631.7,217.8L632.2,217.8L632.7,217.8L633.2,217.8L633.7,217.8L634.2,217.8L634.7,217.8L635.2,217.8L635.7,217.8L636.2,217.8L636.7,217.8L637.2,217.8" fill="none" stroke="#ff2020" stroke-width="1.0" stroke-linejoin="round" />
<path d="M398.7,226.6L399.2,226.6L399.7,226.6L400.2,226.6L400.7,226.6L401.2,226.6L401.7,226.6L402.2,226.6L402.7,226.6L403.2,226.6L403.7,226.6L404.2,226.6L404.7,226.6L405.2,226.6L405.7,226.6L406.2,226.6L406.7,226.6L407.2,226.6L407.7,226.6L408.2,226.6L408.7,226.6L409.2,226.6L409.7,226.5L410.2,226.5L410.7,226.5L411.2,226.5L411.7,226.5L412.2,226.5L412.7,226.5L413.2,226.5L413.7,226.5L414.2,226.5L414.7,226.5L415.2,226.5L415.7,226.5L416.2,226.5L416.7,226.5L417.2,226.5L417.7,226.5L418.2,226.5L418.7,226.5L419.2,226.5L419.7,226.5L420.2,226.4L420.7,226.4L421.2,226.4L421.7,226.4L422.2,226.4L422.7,226.4L423.2,226.4L423.7,226.4L424.2,226.4L424.7,226.4L425.2,226.4L425.7,226.4L426.2,226.4L426.7,226.4L427.2,226.4L427.7,226.4L428.2,226.3L428.7,226.3L429.2,226.3L429.7,226.3L430.2,226.3L430.7,226.3L431.2,226.3L431.7,226.3L432.2,226.3L432.7,226.3L433.2,226.3L433.7,226.2L434.2,226.2L434.7,226.2L435.2,226.2L435.7,226.2L436.2,226.2L436.7,226.2L437.2,226.2L437.7,226.2L438.2,226.1L438.7,226.1L439.2,226.1L439.7,226.1L440.2,226.1L440.7,226.1L441.2,226.1L441.7,226.0L442.2,226.0L442.7,226.0L443.2,226.0L443.7,226.0L444.2,226.0L444.7,225.9L445.2,225.9L445.7,225.9L446.2,225.9L446.7,225.9L447.2,225.8L447.7,225.8L448.2,225.8L448.7,225.8L449.2,225.7L449.7,225.7L450.2,225.7L450.7,225.6L451.2,225.6L451.7,225.6L452.2,225.5L452.7,225.5L453.2,225.5L453.7,225.4L454.2,225.4L454.7,225.3L455.2,225.3L455.7,225.2L456.2,225.2L456.7,225.1L457.2,225.1L457.7,225.0L458.2,224.9L458.7,224.8L459.2,224.8L459.7,224.7L460.2,224.6L460.7,224.5L461.2,224.4L461.7,224.3L462.2,224.2L462.7,224.0L463.2,223.9L463.7,223.7L464.2,223.6L464.7,223.4L465.2,223.2L465.7,223.0L466.2,222.8L466.7,222.6L467.2,222.3L467.7,222.1L468.2,221.8L468.7,221.5L469.2,221.2L469.7,220.9L470.2,220.5L470.7,220.2L471.2,219.8L471.7,219.4L472.2,218.9L472.7,218.5L473.2,218.0L473.7,217.5L474.2,217.0L474.7,216.5L475.2,216.0L475.7,215.5L476.2,214.9L476.7,214.3L477.2,213.8L477.7,213.2L478.2,212.6L478.7,212.0L479.2,211.4L479.7,210.8L480.2,210.2L480.7,209.5L481.2,208.9L481.7,208.3L482.2,207.7L482.7,207.1L483.2,206.5L483.7,205.9L484.2,205.3L484.7,204.7L485.2,204.1L485.7,203.5L486.2,203.0L486.7,202.4L487.2,201.9L487.7,201.4L488.2,200.9L488.7,200.5L489.2,200.0L489.7,199.6L490.2,199.3L490.7,199.0L491.2,198.7L491.7,198.5L492.2,198.3L492.7,198.2L493.2,198.1L493.7,198.1L494.2,198.1L494.7,198.2L495.2,198.3L495.7,198.5L496.2,198.7L496.7,198.9L497.2,199.2L497.7,199.6L498.2,199.9L498.7,200.3L499.2,200.7L499.7,201.2L500.2,201.6L500.7,202.1L501.2,202.5L501.7,203.0L502.2,203.5L502.7,204.0L503.2,204.4L503.7,204.9L504.2,205.4L504.7,205.8L505.2,206.3L505.7,206.7L506.2,207.2L506.7,207.6L507.2,208.0L507.7,208.4L508.2,208.8L508.7,209.2L509.2,209.6L509.7,209.9L510.2,210.3L510.7,210.6L511.2,210.9L511.7,211.2L512.2,211.5L512.7,211.8L513.2,212.1L513.7,212.3L514.2,212.6L514.7,212.8L515.2,213.0L515.7,213.2L516.2,213.4L516.7,213.6L517.2,213.8L517.7,213.9L518.2,214.1L518.7,214.3L519.2,214.4L519.7,214.5L520.2,214.7L520.7,214.8L521.2,214.9L521.7,215.0L522.2,215.1L522.7,215.2L523.2,215.3L523.7,215.4L524.2,215.5L524.7,215.5L525.2,215.6L525.7,215.7L526.2,215.8L526.7,215.8L527.2,215.9L527.7,215.9L528.2,216.0L528.7,216.0L529.2,216.1L529.7,216.1L530.2,216.2L530.7,216.2L531.2,216.3L531.7,216.3L532.2,216.3L532.7,216.4L533.2,216.4L533.7,216.4L534.2,216.5L534.7,216.5L535.2,216.5L535.7,216.6L536.2,216.6L536.7,216.6L537.2,216.6L537.7,216.7L538.2,216.7L538.7,216.7L539.2,216.7L539.7,216.7L540.2,216.8L540.7,216.8L541.2,216.8L541.7,216.8L542.2,216.8L542.7,216.9L543.2,216.9L543.7,216.9L544.2,216.9L544.7,216.9L545.2,216.9L545.7,217.0L546.2,217.0L546.7,217.0L547.2,217.0L547.7,217.0L548.2,217.0L548.7,217.0L549.2,217.1L549.7,217.1L550.2,217.1L550.7,217.1L551.2,217.1L551.7,217.1L552.2,217.1L552.7,217.1L553.2,217.1L553.7,217.2L554.2,217.2L554.7,217.2L555.2,217.2L555.7,217.2L556.2,217.2L556.7,217.2L557.2,217.2L557.7,217.2L558.2,217.2L558.7,217.2L559.2,217.2L559.7,217.3L560.2,217.3L560.7,217.3L561.2,217.3L561.7,217.3L562.2,217.3L562.7,217.3L563.2,217.3L563.7,217.3L564.2,217.3L564.7,217.3L565.2,217.3L565.7,217.3L566.2,217.3L566.7,217.3L567.2,217.4L567.7,217.4L568.2,217.4L568.7,217.4L569.2,217.4L569.7,217.4L570.2,217.4L570.7,217.4L571.2,217.4L571.7,217.4L572.2,217.4L572.7,217.4L573.2,217.4L573.7,217.4L574.2,217.4L574.7,217.4L575.2,217.4L575.7,217.4L576.2,217.4L576.7,217.4L577.2,217.4L577.7,217.5L578.2,217.5L578.7,217.5L579.2,217.5L579.7,217.5L580.2,217.5L580.7,217.5L581.2,217.5L581.7,217.5L582.2,217.5L582.7,217.5L583.2,217.5L583.7,217.5L584.2,217.5L584.7,217.5L585.2,217.5L585.7,217.5L586.2,217.5L586.7,217.5L587.2,217.5L587.7,217.5L588.2,217.5L588.7,217.5L589.2,217.5L589.7,217.5L590.2,217.5L590.7,217.5L591.2,217.5L591.7,217.5L592.2,217.5L592.7,217.5L593.2,217.5L593.7,217.5L594.2,217.5L594.7,217.6L595.2,217.6L595.7,217.6L596.2,217.6L596.7,217.6L597.2,217.6L597.7,217.6L598.2,217.6L598.7,217.6L599.2,217.6L599.7,217.6L600.2,217.6L600.7,217.6L601.2,217.6L601.7,217.6L602.2,217.6L602.7,217.6L603.2,217.6L603.7,217.6L604.2,217.6L604.7,217.6L605.2,217.6L605.7,217.6L606.2,217.6L606.7,217.6L607.2,217.6L607.7,217.6L608.2,217.6L608.7,217.6L609.2,217.6L609.7,217.6L610.2,217.6L610.7,217.6L611.2,217.6L611.7,217.6L612.2,217.6L612.7,217.6L613.2,217.6L613.7,217.6L614.2,217.6L614.7,217.6L615.2,217.6L615.7,217.6L616.2,217.6L616.7,217.6L617.2,217.6L617.7,217.6L618.2,217.6L618.7,217.6L619.2,217.6L619.7,217.6L620.2,217.6L620.7,217.6L621.2,217.6L621.7,217.6L622.2,217.6L622.7,217.6L623.2,217.6L623.7,217.6L624.2,217.6L624.7,217.6L625.2,217.6L625.7,217.6L626.2,217.6L626.7,217.6L627.2,217.6L627.7,217.6L628.2,217.6L628.7,217.7L629.2,217.7L629.7,217.7L630.2,217.7L630.7,217.7L631.2,217.7L631.7,217.7L632.2,217.7L632.7,217.7L633.2,217.7L633.7,217.7L634.2,217.7L634.7,217.7L635.2,217.7L635.7,217.7L636.2,217.7L636.7,217.7L637.2,217.7" fill="none" stroke="#3030ff" stroke-width="1.0" stroke-linejoin="round" />
<path d="M398.7,224.4L399.2,224.3L399.7,224.3L400.2,224.3L400.7,224.2L401.2,224.2L401.7,224.2L402.2,224.1L402.7,224.1L403.2,224.0L403.7,224.0L404.2,223.9L404.7,223.9L405.2,223.9L405.7,223.8L406.2,223.8L406.7,223.7L407.2,223.7L407.7,223.6L408.2,223.6L408.7,223.5L409.2,223.4L409.7,223.4L410.2,223.3L410.7,223.3L411.2,223.2L411.7,223.2L412.2,223.1L412.7,223.0L413.2,223.0L413.7,222.9L414.2,222.8L414.7,222.7L415.2,222.7L415.7,222.6L416.2,222.5L416.7,222.4L417.2,222.4L417.7,222.3L418.2,222.2L418.7,222.1L419.2,222.0L419.7,221.9L420.2,221.8L420.7,221.7L421.2,221.6L421.7,221.5L422.2,221.4L422.7,221.3L423.2,221.2L423.7,221.0L424.2,220.9L424.7,220.8L425.2,220.7L425.7,220.5L426.2,220.4L426.7,220.2L427.2,220.1L427.7,219.9L428.2,219.8L428.7,219.6L429.2,219.4L429.7,219.2L430.2,219.1L430.7,218.9L431.2,218.7L431.7,218.5L432.2,218.3L432.7,218.0L433.2,217.8L433.7,217.6L434.2,217.3L434.7,217.1L435.2,216.8L435.7,216.5L436.2,216.2L436.7,215.9L437.2,215.6L437.7,215.2L438.2,214.9L438.7,214.5L439.2,214.1L439.7,213.7L440.2,213.2L440.7,212.8L441.2,212.3L441.7,211.8L442.2,211.2L442.7,210.6L443.2,210.0L443.7,209.3L444.2,208.6L444.7,207.8L445.2,207.0L445.7,206.1L446.2,205.1L446.7,204.1L447.2,203.0L447.7,201.8L448.2,200.5L448.7,199.1L449.2,197.6L449.7,195.9L450.2,194.2L450.7,192.3L451.2,190.3L451.7,188.1L452.2,185.8L452.7,183.2L453.2,180.6L453.7,177.7L454.2,174.6L454.7,171.4L455.2,167.9L455.7,164.2L456.2,160.3L456.7,156.2L457.2,151.8L457.7,147.3L458.2,142.5L458.7,137.5L459.2,132.3L459.7,126.9L460.2,121.3L460.7,115.6L461.2,109.7L461.7,103.7L462.2,97.6L462.7,91.4L463.2,85.3L463.7,79.2L464.2,73.2L464.7,67.5L465.2,61.9L465.7,56.7L466.2,51.9L466.7,47.7L467.2,44.0L467.7,40.9L468.2,38.6L468.7,37.0L469.2,36.2L469.7,36.3L470.2,37.2L470.7,38.9L471.2,41.5L471.7,44.7L472.2,48.6L472.7,53.1L473.2,58.1L473.7,63.4L474.2,69.0L474.7,74.9L475.2,80.8L475.7,86.9L476.2,92.9L476.7,99.0L477.2,104.9L477.7,110.6L478.2,115.8L478.7,120.8L479.2,125.6L479.7,130.2L480.2,134.5L480.7,138.5L481.2,142.2L481.7,145.7L482.2,148.9L482.7,151.8L483.2,154.5L483.7,156.9L484.2,159.0L484.7,160.9L485.2,162.5L485.7,163.9L486.2,165.1L486.7,166.1L487.2,166.8L487.7,168.0L488.2,169.3L488.7,170.5L489.2,171.6L489.7,172.6L490.2,173.6L490.7,174.5L491.2,175.3L491.7,176.1L492.2,176.9L492.7,177.6L493.2,178.3L493.7,179.0L494.2,179.7L494.7,180.3L495.2,181.0L495.7,181.7L496.2,182.4L496.7,183.0L497.2,183.7L497.7,184.4L498.2,185.0L498.7,185.7L499.2,186.3L499.7,187.0L500.2,187.6L500.7,188.2L501.2,188.8L501.7,189.4L502.2,190.0L502.7,190.5L503.2,191.1L503.7,191.6L504.2,192.1L504.7,192.5L505.2,193.0L505.7,193.4L506.2,193.8L506.7,194.2L507.2,194.5L507.7,194.9L508.2,195.2L508.7,195.5L509.2,195.7L509.7,196.0L510.2,196.2L510.7,196.5L511.2,196.7L511.7,196.9L512.2,197.0L512.7,197.2L513.2,197.4L513.7,197.5L514.2,197.7L514.7,197.8L515.2,197.9L515.7,198.1L516.2,198.2L516.7,198.3L517.2,198.5L517.7,198.6L518.2,198.7L518.7,198.8L519.2,199.0L519.7,199.1L520.2,199.3L520.7,199.4L521.2,199.6L521.7,199.7L522.2,199.9L522.7,200.1L523.2,200.2L523.7,200.4L524.2,200.6L524.7,200.8L525.2,201.0L525.7,201.2L526.2,201.4L526.7,201.6L527.2,201.8L527.7,202.0L528.2,202.2L528.7,202.4L529.2,202.7L529.7,202.9L530.2,203.1L530.7,203.3L531.2,203.5L531.7,203.7L532.2,203.9L532.7,204.1L533.2,204.3L533.7,204.5L534.2,204.7L534.7,204.9L535.2,205.0L535.7,205.2L536.2,205.4L536.7,205.5L537.2,205.7L537.7,205.9L538.2,206.0L538.7,206.1L539.2,206.3L539.7,206.4L540.2,206.5L540.7,206.6L541.2,206.8L541.7,206.9L542.2,207.0L542.7,207.1L543.2,207.2L543.7,207.3L544.2,207.4L544.7,207.4L545.2,207.5L545.7,207.6L546.2,207.7L546.7,207.8L547.2,207.9L547.7,207.9L548.2,208.0L548.7,208.1L549.2,208.2L549.7,208.2L550.2,208.3L550.7,208.4L551.2,208.5L551.7,208.6L552.2,208.6L552.7,208.7L553.2,208.8L553.7,208.9L554.2,209.0L554.7,209.1L555.2,209.2L555.7,209.2L556.2,209.3L556.7,209.4L557.2,209.5L557.7,209.6L558.2,209.7L558.7,209.8L559.2,209.9L559.7,210.0L560.2,210.1L560.7,210.2L561.2,210.3L561.7,210.5L562.2,210.6L562.7,210.7L563.2,210.8L563.7,210.9L564.2,211.0L564.7,211.1L565.2,211.2L565.7,211.4L566.2,211.5L566.7,211.6L567.2,211.7L567.7,211.8L568.2,211.9L568.7,212.0L569.2,212.2L569.7,212.3L570.2,212.4L570.7,212.5L571.2,212.6L571.7,212.7L572.2,212.8L572.7,213.0L573.2,213.1L573.7,213.2L574.2,213.3L574.7,213.4L575.2,213.5L575.7,213.6L576.2,213.7L576.7,213.8L577.2,213.9L577.7,214.0L578.2,214.1L578.7,214.2L579.2,214.3L579.7,214.4L580.2,214.4L580.7,214.5L581.2,214.6L581.7,214.7L582.2,214.8L582.7,214.9L583.2,214.9L583.7,215.0L584.2,215.1L584.7,215.2L585.2,215.2L585.7,215.3L586.2,215.4L586.7,215.4L587.2,215.5L587.7,215.6L588.2,215.6L588.7,215.7L589.2,215.7L589.7,215.8L590.2,215.8L590.7,215.9L591.2,215.9L591.7,216.0L592.2,216.0L592.7,216.1L593.2,216.1L593.7,216.2L594.2,216.2L594.7,216.2L595.2,216.3L595.7,216.3L596.2,216.3L596.7,216.4L597.2,216.4L597.7,216.4L598.2,216.5L598.7,216.5L599.2,216.5L599.7,216.6L600.2,216.6L600.7,216.6L601.2,216.6L601.7,216.6L602.2,216.7L602.7,216.7L603.2,216.7L603.7,216.7L604.2,216.7L604.7,216.8L605.2,216.8L605.7,216.8L606.2,216.8L606.7,216.8L607.2,216.8L607.7,216.9L608.2,216.9L608.7,216.9L609.2,216.9L609.7,216.9L610.2,216.9L610.7,216.9L611.2,216.9L611.7,217.0L612.2,217.0L612.7,217.0L613.2,217.0L613.7,217.0L614.2,217.0L614.7,217.0L615.2,217.0L615.7,217.0L616.2,217.0L616.7,217.0L617.2,217.1L617.7,217.1L618.2,217.1L618.7,217.1L619.2,217.1L619.7,217.1L620.2,217.1L620.7,217.1L621.2,217.1L621.7,217.1L622.2,217.1L622.7,217.1L623.2,217.1L623.7,217.1L624.2,217.1L624.7,217.1L625.2,217.1L625.7,217.2L626.2,217.2L626.7,217.2L627.2,217.2L627.7,217.2L628.2,217.2L628.7,217.2L629.2,217.2L629.7,217.2L630.2,217.2L630.7,217.2L631.2,217.2L631.7,217.2L632.2,217.2L632.7,217.2L633.2,217.2L633.7,217.2L634.2,217.2L634.7,217.2L635.2,217.2L635.7,217.2L636.2,217.2L636.7,217.2L637.2,217.2" fill="none" stroke="#222" stroke-width="1.1" stroke-linejoin="round" />
<path d="M398.7,224.4L399.2,224.3L399.7,224.3L400.2,224.3L400.7,224.2L401.2,224.2L401.7,224.2L402.2,224.1L402.7,224.1L403.2,224.0L403.7,224.0L404.2,223.9L404.7,223.9L405.2,223.9L405.7,223.8L406.2,223.8L406.7,223.7L407.2,223.7L407.7,223.6L408.2,223.6L408.7,223.5L409.2,223.4L409.7,223.4L410.2,223.3L410.7,223.3L411.2,223.2L411.7,223.2L412.2,223.1L412.7,223.0L413.2,223.0L413.7,222.9L414.2,222.8L414.7,222.7L415.2,222.7L415.7,222.6L416.2,222.5L416.7,222.4L417.2,222.4L417.7,222.3L418.2,222.2L418.7,222.1L419.2,222.0L419.7,221.9L420.2,221.8L420.7,221.7L421.2,221.6L421.7,221.5L422.2,221.4L422.7,221.3L423.2,221.2L423.7,221.0L424.2,220.9L424.7,220.8L425.2,220.7L425.7,220.5L426.2,220.4L426.7,220.2L427.2,220.1L427.7,219.9L428.2,219.8L428.7,219.6L429.2,219.4L429.7,219.2L430.2,219.1L430.7,218.9L431.2,218.7L431.7,218.5L432.2,218.3L432.7,218.0L433.2,217.8L433.7,217.6L434.2,217.3L434.7,217.1L435.2,216.8L435.7,216.5L436.2,216.2L436.7,215.9L437.2,215.6L437.7,215.2L438.2,214.9L438.7,214.5L439.2,214.1L439.7,213.7L440.2,213.2L440.7,212.8L441.2,212.3L441.7,211.8L442.2,211.2L442.7,210.6L443.2,210.0L443.7,209.3L444.2,208.6L444.7,207.8L445.2,207.0L445.7,206.1L446.2,205.1L446.7,204.1L447.2,203.0L447.7,201.8L448.2,200.5L448.7,199.1L449.2,197.6L449.7,195.9L450.2,194.2L450.7,192.3L451.2,190.3L451.7,188.1L452.2,185.8L452.7,183.2L453.2,180.6L453.7,177.7L454.2,174.6L454.7,171.4L455.2,167.9L455.7,164.2L456.2,160.3L456.7,156.2L457.2,151.8L457.7,147.3L458.2,142.5L458.7,137.5L459.2,132.3L459.7,126.9L460.2,121.3L460.7,115.6L461.2,109.7L461.7,103.7L462.2,97.6L462.7,91.4L463.2,85.3L463.7,79.2L464.2,73.2L464.7,67.5L465.2,61.9L465.7,56.7L466.2,51.9L466.7,47.7L467.2,44.0L467.7,40.9L468.2,38.6L468.7,37.0L469.2,36.2L469.7,36.3L470.2,37.2L470.7,38.9L471.2,41.5L471.7,44.7L472.2,48.6L472.7,53.1L473.2,58.1L473.7,63.4L474.2,69.0L474.7,74.9L475.2,80.8L475.7,86.9L476.2,92.9L476.7,99.0L477.2,104.9L477.7,110.7L478.2,116.4L478.7,121.9L479.2,127.2L479.7,132.3L480.2,137.2L480.7,141.9L481.2,146.3L481.7,150.6L482.2,154.6L482.7,158.4L483.2,161.9L483.7,165.3L484.2,168.4L484.7,171.4L485.2,174.1L485.7,176.7L486.2,179.1L486.7,181.3L487.2,183.4L487.7,185.3L488.2,187.1L488.7,188.7L489.2,190.3L489.7,191.7L490.2,193.0L490.7,194.2L491.2,195.3L491.7,196.3L492.2,197.3L492.7,198.2L493.2,199.0L493.7,199.8L494.2,200.5L494.7,201.2L495.2,201.8L495.7,202.4L496.2,203.0L496.7,203.5L497.2,204.0L497.7,204.4L498.2,204.9L498.7,205.3L499.2,205.7L499.7,206.0L500.2,206.4L500.7,206.7L501.2,207.0L501.7,207.3L502.2,207.6L502.7,207.9L503.2,208.2L503.7,208.4L504.2,208.7L504.7,208.9L505.2,209.2L505.7,209.4L506.2,209.6L506.7,209.8L507.2,210.0L507.7,210.2L508.2,210.4L508.7,210.5L509.2,210.7L509.7,210.9L510.2,211.0L510.7,211.2L511.2,211.3L511.7,211.5L512.2,211.6L512.7,211.7L513.2,211.9L513.7,212.0L514.2,212.1L514.7,212.2L515.2,212.4L515.7,212.5L516.2,212.6L516.7,212.7L517.2,212.8L517.7,212.9L518.2,213.0L518.7,213.1L519.2,213.2L519.7,213.2L520.2,213.3L520.7,213.4L521.2,213.5L521.7,213.6L522.2,213.7L522.7,213.7L523.2,213.8L523.7,213.9L524.2,213.9L524.7,214.0L525.2,214.1L525.7,214.1L526.2,214.2L526.7,214.3L527.2,214.3L527.7,214.4L528.2,214.4L528.7,214.5L529.2,214.5L529.7,214.6L530.2,214.6L530.7,214.7L531.2,214.7L531.7,214.8L532.2,214.8L532.7,214.9L533.2,214.9L533.7,215.0L534.2,215.0L534.7,215.0L535.2,215.1L535.7,215.1L536.2,215.2L536.7,215.2L537.2,215.2L537.7,215.3L538.2,215.3L538.7,215.3L539.2,215.4L539.7,215.4L540.2,215.4L540.7,215.5L541.2,215.5L541.7,215.5L542.2,215.6L542.7,215.6L543.2,215.6L543.7,215.7L544.2,215.7L544.7,215.7L545.2,215.7L545.7,215.8L546.2,215.8L546.7,215.8L547.2,215.8L547.7,215.9L548.2,215.9L548.7,215.9L549.2,215.9L549.7,216.0L550.2,216.0L550.7,216.0L551.2,216.0L551.7,216.0L552.2,216.1L552.7,216.1L553.2,216.1L553.7,216.1L554.2,216.1L554.7,216.2L555.2,216.2L555.7,216.2L556.2,216.2L556.7,216.2L557.2,216.3L557.7,216.3L558.2,216.3L558.7,216.3L559.2,216.3L559.7,216.3L560.2,216.4L560.7,216.4L561.2,216.4L561.7,216.4L562.2,216.4L562.7,216.4L563.2,216.4L563.7,216.5L564.2,216.5L564.7,216.5L565.2,216.5L565.7,216.5L566.2,216.5L566.7,216.5L567.2,216.5L567.7,216.6L568.2,216.6L568.7,216.6L569.2,216.6L569.7,216.6L570.2,216.6L570.7,216.6L571.2,216.6L571.7,216.7L572.2,216.7L572.7,216.7L573.2,216.7L573.7,216.7L574.2,216.7L574.7,216.7L575.2,216.7L575.7,216.7L576.2,216.7L576.7,216.8L577.2,216.8L577.7,216.8L578.2,216.8L578.7,216.8L579.2,216.8L579.7,216.8L580.2,216.8L580.7,216.8L581.2,216.8L581.7,216.8L582.2,216.9L582.7,216.9L583.2,216.9L583.7,216.9L584.2,216.9L584.7,216.9L585.2,216.9L585.7,216.9L586.2,216.9L586.7,216.9L587.2,216.9L587.7,216.9L588.2,216.9L588.7,216.9L589.2,217.0L589.7,217.0L590.2,217.0L590.7,217.0L591.2,217.0L591.7,217.0L592.2,217.0L592.7,217.0L593.2,217.0L593.7,217.0L594.2,217.0L594.7,217.0L595.2,217.0L595.7,217.0L596.2,217.0L596.7,217.0L597.2,217.1L597.7,217.1L598.2,217.1L598.7,217.1L599.2,217.1L599.7,217.1L600.2,217.1L600.7,217.1L601.2,217.1L601.7,217.1L602.2,217.1L602.7,217.1L603.2,217.1L603.7,217.1L604.2,217.1L604.7,217.1L605.2,217.1L605.7,217.1L606.2,217.1L606.7,217.2L607.2,217.2L607.7,217.2L608.2,217.2L608.7,217.2L609.2,217.2L609.7,217.2L610.2,217.2L610.7,217.2L611.2,217.2L611.7,217.2L612.2,217.2L612.7,217.2L613.2,217.2L613.7,217.2L614.2,217.2L614.7,217.2L615.2,217.2L615.7,217.2L616.2,217.2L616.7,217.2L617.2,217.2L617.7,217.2L618.2,217.2L618.7,217.2L619.2,217.3L619.7,217.3L620.2,217.3L620.7,217.3L621.2,217.3L621.7,217.3L622.2,217.3L622.7,217.3L623.2,217.3L623.7,217.3L624.2,217.3L624.7,217.3L625.2,217.3L625.7,217.3L626.2,217.3L626.7,217.3L627.2,217.3L627.7,217.3L628.2,217.3L628.7,217.3L629.2,217.3L629.7,217.3L630.2,217.3L630.7,217.3L631.2,217.3L631.7,217.3L632.2,217.3L632.7,217.3L633.2,217.3L633.7,217.3L634.2,217.3L634.7,217.3L635.2,217.3L635.7,217.4L636.2,217.4L636.7,217.4L637.2,217.4" fill="none" stroke="#ff00ff" stroke-width="1.2" stroke-linejoin="round" />
<path d="M398.7,224.4L399.2,224.3L399.7,224.3L400.2,224.3L400.7,224.2L401.2,224.2L401.7,224.2L402.2,224.1L402.7,224.1L403.2,224.0L403.7,224.0L404.2,223.9L404.7,223.9L405.2,223.9L405.7,223.8L406.2,223.8L406.7,223.7L407.2,223.7L407.7,223.6L408.2,223.6L408.7,223.5L409.2,223.4L409.7,223.4L410.2,223.3L410.7,223.3L411.2,223.2L411.7,223.2L412.2,223.1L412.7,223.0L413.2,223.0L413.7,222.9L414.2,222.8L414.7,222.7L415.2,222.7L415.7,222.6L416.2,222.5L416.7,222.4L417.2,222.4L417.7,222.3L418.2,222.2L418.7,222.1L419.2,222.0L419.7,221.9L420.2,221.8L420.7,221.7L421.2,221.6L421.7,221.5L422.2,221.4L422.7,221.3L423.2,221.2L423.7,221.0L424.2,220.9L424.7,220.8L425.2,220.7L425.7,220.5L426.2,220.4L426.7,220.2L427.2,220.1L427.7,219.9L428.2,219.8L428.7,219.6L429.2,219.4L429.7,219.2L430.2,219.1L430.7,218.9L431.2,218.7L431.7,218.5L432.2,218.3L432.7,218.0L433.2,217.8L433.7,217.6L434.2,217.3L434.7,217.1L435.2,216.8L435.7,216.5L436.2,216.2L436.7,215.9L437.2,215.6L437.7,215.2L438.2,214.9L438.7,214.5L439.2,214.1L439.7,213.7L440.2,213.2L440.7,212.8L441.2,212.3L441.7,211.8L442.2,211.2L442.7,210.6L443.2,210.0L443.7,209.3L444.2,208.6L444.7,207.8L445.2,207.0L445.7,206.1L446.2,205.1L446.7,204.1L447.2,203.0L447.7,201.8L448.2,200.5L448.7,199.1L449.2,197.6L449.7,195.9L450.2,194.2L450.7,192.3L451.2,190.3L451.7,188.1L452.2,185.8L452.7,183.2L453.2,180.6L453.7,177.7L454.2,174.6L454.7,171.4L455.2,167.9L455.7,164.2L456.2,160.3L456.7,156.2L457.2,151.8L457.7,147.3L458.2,142.5L458.7,137.5L459.2,132.3L459.7,126.9L460.2,121.3L460.7,115.6L461.2,109.7L461.7,103.7L462.2,97.6L462.7,91.4L463.2,85.3L463.7,79.2L464.2,73.2L464.7,67.5L465.2,61.9L465.7,56.7L466.2,51.9L466.7,47.7L467.2,44.0L467.7,40.9L468.2,38.6L468.7,37.0L469.2,36.2L469.7,36.3L470.2,37.2L470.7,38.9L471.2,41.5L471.7,44.7L472.2,48.6L472.7,53.1L473.2,58.1L473.7,63.4L474.2,69.0L474.7,74.9L475.2,80.8L475.7,86.9L476.2,92.9L476.7,99.0L477.2,104.9L477.7,110.6L478.2,115.8L478.7,120.8L479.2,125.6L479.7,130.2L480.2,134.5L480.7,138.5L481.2,142.2L481.7,145.7L482.2,148.9L482.7,151.8L483.2,154.5L483.7,156.9L484.2,159.0L484.7,160.9L485.2,162.5L485.7,163.9L486.2,165.1L486.7,166.1L487.2,166.8L487.7,168.0L488.2,169.3L488.7,170.5L489.2,171.6L489.7,172.6L490.2,173.6L490.7,174.5L491.2,175.3L491.7,176.1L492.2,176.9L492.7,177.6L493.2,178.3L493.7,179.0L494.2,179.7L494.7,180.3L495.2,181.0L495.7,181.7L496.2,182.4L496.7,183.0L497.2,183.7L497.7,184.4L498.2,185.0L498.7,185.7L499.2,186.3L499.7,187.0L500.2,187.6L500.7,188.2L501.2,188.8L501.7,189.4L502.2,190.0L502.7,190.5L503.2,191.1L503.7,191.6L504.2,192.1L504.7,192.5L505.2,193.0L505.7,193.4L506.2,193.8L506.7,194.2L507.2,194.5L507.7,194.9L508.2,195.2L508.7,195.5L509.2,195.7L509.7,196.0L510.2,196.2L510.7,196.5L511.2,196.7L511.7,196.9L512.2,197.0L512.7,197.2L513.2,197.4L513.7,197.5L514.2,197.7L514.7,197.8L515.2,197.9L515.7,198.1L516.2,198.2L516.7,198.3L517.2,198.5L517.7,198.6L518.2,198.7L518.7,198.8L519.2,199.0L519.7,199.1L520.2,199.3L520.7,199.4L521.2,199.6L521.7,199.7L522.2,199.9L522.7,200.1L523.2,200.2L523.7,200.4L524.2,200.6L524.7,200.8L525.2,201.0L525.7,201.2L526.2,201.4L526.7,201.6L527.2,201.8L527.7,202.0L528.2,202.2L528.7,202.4L529.2,202.7L529.7,202.9L530.2,203.1L530.7,203.3L531.2,203.5L531.7,203.7L532.2,203.9L532.7,204.1L533.2,204.3L533.7,204.5L534.2,204.7L534.7,204.9L535.2,205.0L535.7,205.2L536.2,205.4L536.7,205.5L537.2,205.7L537.7,205.9L538.2,206.0L538.7,206.1L539.2,206.3L539.7,206.4L540.2,206.5L540.7,206.6L541.2,206.8L541.7,206.9L542.2,207.0L542.7,207.1L543.2,207.2L543.7,207.3L544.2,207.4L544.7,207.4L545.2,207.5L545.7,207.6L546.2,207.7L546.7,207.8L547.2,207.9L547.7,207.9L548.2,208.0L548.7,208.1L549.2,208.2L549.7,208.2L550.2,208.3L550.7,208.4L551.2,208.5L551.7,208.6L552.2,208.6L552.7,208.7L553.2,208.8L553.7,208.9L554.2,209.0L554.7,209.1L555.2,209.2L555.7,209.2L556.2,209.3L556.7,209.4L557.2,209.5L557.7,209.6L558.2,209.7L558.7,209.8L559.2,209.9L559.7,210.0L560.2,210.1L560.7,210.2L561.2,210.3L561.7,210.5L562.2,210.6L562.7,210.7L563.2,210.8L563.7,210.9L564.2,211.0L564.7,211.1L565.2,211.2L565.7,211.4L566.2,211.5L566.7,211.6L567.2,211.7L567.7,211.8L568.2,211.9L568.7,212.0L569.2,212.2L569.7,212.3L570.2,212.4L570.7,212.5L571.2,212.6L571.7,212.7L572.2,212.8L572.7,213.0L573.2,213.1L573.7,213.2L574.2,213.3L574.7,213.4L575.2,213.5L575.7,213.6L576.2,213.7L576.7,213.8L577.2,213.9L577.7,214.0L578.2,214.1L578.7,214.2L579.2,214.3L579.7,214.4L580.2,214.4L580.7,214.5L581.2,214.6L581.7,214.7L582.2,214.8L582.7,214.9L583.2,214.9L583.7,215.0L584.2,215.1L584.7,215.2L585.2,215.2L585.7,215.3L586.2,215.4L586.7,215.4L587.2,215.5L587.7,215.6L588.2,215.6L588.7,215.7L589.2,215.7L589.7,215.8L590.2,215.8L590.7,215.9L591.2,215.9L591.7,216.0L592.2,216.0L592.7,216.1L593.2,216.1L593.7,216.2L594.2,216.2L594.7,216.2L595.2,216.3L595.7,216.3L596.2,216.3L596.7,216.4L597.2,216.4L597.7,216.4L598.2,216.5L598.7,216.5L599.2,216.5L599.7,216.6L600.2,216.6L600.7,216.6L601.2,216.6L601.7,216.6L602.2,216.7L602.7,216.7L603.2,216.7L603.7,216.7L604.2,216.7L604.7,216.8L605.2,216.8L605.7,216.8L606.2,216.8L606.7,216.8L607.2,216.8L607.7,216.9L608.2,216.9L608.7,216.9L609.2,216.9L609.7,216.9L610.2,216.9L610.7,216.9L611.2,216.9L611.7,217.0L612.2,217.0L612.7,217.0L613.2,217.0L613.7,217.0L614.2,217.0L614.7,217.0L615.2,217.0L615.7,217.0L616.2,217.0L616.7,217.0L617.2,217.1L617.7,217.1L618.2,217.1L618.7,217.1L619.2,217.1L619.7,217.1L620.2,217.1L620.7,217.1L621.2,217.1L621.7,217.1L622.2,217.1L622.7,217.1L623.2,217.1L623.7,217.1L624.2,217.1L624.7,217.1L625.2,217.1L625.7,217.2L626.2,217.2L626.7,217.2L627.2,217.2L627.7,217.2L628.2,217.2L628.7,217.2L629.2,217.2L629.7,217.2L630.2,217.2L630.7,217.2L631.2,217.2L631.7,217.2L632.2,217.2L632.7,217.2L633.2,217.2L633.7,217.2L634.2,217.2L634.7,217.2L635.2,217.2L635.7,217.2L636.2,217.2L636.7,217.2L637.2,217.2" fill="none" stroke="#111" stroke-width="1.1" stroke-linejoin="round" stroke-dasharray="2,2"/>
<rect x="532.30" y="8.30" width="114.10" height="75.00" fill="#fff" stroke="#444" stroke-width="1.0"/>
<text x="535.70" y="24.70" font-size="14.5" textLength="8.40" lengthAdjust="spacingAndGlyphs" stroke="#000" stroke-width="0.25">a.</text>
<text x="547.00" y="24.70" font-size="14.5" textLength="22.00" lengthAdjust="spacingAndGlyphs" stroke="#000" stroke-width="0.25">C-C/</text>
<text x="572.30" y="24.70" font-size="14.5" textLength="23.30" lengthAdjust="spacingAndGlyphs" stroke="#000" stroke-width="0.25">C=C</text>
<text x="600.90" y="24.70" font-size="14.5" textLength="41.90" lengthAdjust="spacing" stroke="#000" stroke-width="0.25">284.6eV</text>
<text x="535.70" y="43.30" font-size="14.5" textLength="8.70" lengthAdjust="spacingAndGlyphs" stroke="#000" stroke-width="0.25">b.</text>
<text x="547.60" y="43.30" font-size="14.5" textLength="20.70" lengthAdjust="spacingAndGlyphs" stroke="#000" stroke-width="0.25">C-O</text>
<text x="574.30" y="43.30" font-size="14.5" textLength="41.20" lengthAdjust="spacing" stroke="#000" stroke-width="0.25">286.7eV</text>
<text x="535.70" y="61.60" font-size="14.5" textLength="8.10" lengthAdjust="spacingAndGlyphs" stroke="#000" stroke-width="0.25">c.</text>
<text x="547.00" y="61.60" font-size="14.5" textLength="23.90" lengthAdjust="spacingAndGlyphs" stroke="#000" stroke-width="0.25">C=O</text>
<text x="575.60" y="61.60" font-size="14.5" textLength="41.30" lengthAdjust="spacing" stroke="#000" stroke-width="0.25">287.5eV</text>
<text x="535.70" y="79.60" font-size="14.5" textLength="8.70" lengthAdjust="spacingAndGlyphs" stroke="#000" stroke-width="0.25">d.</text>
<text x="547.60" y="79.60" font-size="14.5" textLength="36.00" lengthAdjust="spacingAndGlyphs" stroke="#000" stroke-width="0.25">O-C=O</text>
<text x="588.90" y="79.60" font-size="14.5" textLength="42.00" lengthAdjust="spacing" stroke="#000" stroke-width="0.25">288.5eV</text>
<text x="487.00" y="20.80" font-size="15" font-weight="bold" stroke="#000" stroke-width="0.35">a</text>
<path d="M484.80,22.60L472.71,30.96" stroke="#222" stroke-width="0.8"/>
<path d="M468.60,33.80L471.58,29.31L473.85,32.60Z" fill="#111"/>
<text x="507.60" y="172.70" font-size="15" font-weight="bold" stroke="#000" stroke-width="0.35">b</text>
<path d="M507.60,176.40L497.26,191.20" stroke="#222" stroke-width="0.8"/>
<path d="M494.40,195.30L495.62,190.06L498.90,192.35Z" fill="#111"/>
<text x="527.80" y="179.30" font-size="15" font-weight="bold" stroke="#000" stroke-width="0.35">c</text>
<path d="M528.60,186.60L523.48,203.12" stroke="#222" stroke-width="0.8"/>
<path d="M522.00,207.90L521.57,202.53L525.39,203.72Z" fill="#111"/>
<text x="560.00" y="198.30" font-size="15" font-weight="bold" stroke="#000" stroke-width="0.35">d</text>
<path d="M558.60,201.30L546.06,208.35" stroke="#222" stroke-width="0.8"/>
<path d="M541.70,210.80L545.08,206.61L547.04,210.09Z" fill="#111"/>
<rect x="728.40" y="4.80" width="292.10" height="245.10" fill="none" stroke="#111" stroke-width="1.3"/>
<path d="M746.10,249.90V254.40M782.70,249.90V254.40M819.30,249.90V254.40M855.90,249.90V254.40M892.50,249.90V254.40M929.10,249.90V254.40M965.70,249.90V254.40M1002.30,249.90V254.40M727.80,249.90V252.40M764.40,249.90V252.40M801.00,249.90V252.40M837.60,249.90V252.40M874.20,249.90V252.40M910.80,249.90V252.40M947.40,249.90V252.40M984.00,249.90V252.40M1020.60,249.90V252.40" stroke="#111" stroke-width="1.2" fill="none"/>
<text x="746.10" y="272.00" font-size="19" font-weight="bold" text-anchor="middle" textLength="24.90" lengthAdjust="spacing" >280</text>
<text x="782.70" y="272.00" font-size="19" font-weight="bold" text-anchor="middle" textLength="24.90" lengthAdjust="spacing" >282</text>
<text x="819.30" y="272.00" font-size="19" font-weight="bold" text-anchor="middle" textLength="24.90" lengthAdjust="spacing" >284</text>
<text x="855.90" y="272.00" font-size="19" font-weight="bold" text-anchor="middle" textLength="24.90" lengthAdjust="spacing" >286</text>
<text x="892.50" y="272.00" font-size="19" font-weight="bold" text-anchor="middle" textLength="24.90" lengthAdjust="spacing" >288</text>
<text x="929.10" y="272.00" font-size="19" font-weight="bold" text-anchor="middle" textLength="24.90" lengthAdjust="spacing" >290</text>
<text x="965.70" y="272.00" font-size="19" font-weight="bold" text-anchor="middle" textLength="24.90" lengthAdjust="spacing" >292</text>
<text x="1002.30" y="272.00" font-size="19" font-weight="bold" text-anchor="middle" textLength="24.90" lengthAdjust="spacing" >294</text>
<text x="806.00" y="293.40" font-size="19.5" font-weight="bold" textLength="53.26" lengthAdjust="spacing">Binding</text>
<text x="862.87" y="293.40" font-size="19.5" font-weight="bold" textLength="45.83" lengthAdjust="spacing">energy</text>
<text x="911.62" y="293.40" font-size="19.5" font-weight="bold" textLength="32.88" lengthAdjust="spacing">(eV)</text>
<text x="708.30" y="133.10" font-size="21.8" text-anchor="middle" textLength="112.80" lengthAdjust="spacing" transform="rotate(-90 708.30 133.10)" stroke="#000" stroke-width="0.3">Intensity (a.u.)</text>
<text x="735.50" y="22.20" font-size="19.5" font-weight="bold" textLength="18.40" lengthAdjust="spacing">(e)</text>
<text x="757.80" y="22.20" font-size="19.5" font-weight="bold" textLength="32.10" lengthAdjust="spacing">XPS</text>
<text x="791.50" y="22.20" font-size="19.5" font-weight="bold" textLength="29.00" lengthAdjust="spacing">C<tspan font-style="italic">ls</tspan></text>
<path d="M748.0,238.2L748.5,237.3L749.0,238.1L749.5,237.9L750.0,237.3L750.5,239.3L751.0,242.4L751.5,240.7L752.0,237.2L752.5,238.0L753.0,240.4L753.5,239.6L754.0,240.6L754.5,240.4L755.0,237.9L755.5,238.9L756.0,238.0L756.5,235.9L757.0,236.8L757.5,239.0L758.0,240.2L758.5,239.9L759.0,239.7L759.5,241.9L760.0,243.4L760.5,243.3L761.0,243.0L761.5,244.4L762.0,244.6L762.5,242.8L763.0,242.1L763.5,242.5L764.0,241.9L764.5,239.2L765.0,235.8L765.5,235.4L766.0,235.3L766.5,233.4L767.0,234.8L767.5,237.5L768.0,236.5L768.5,236.4L769.0,237.2L769.5,236.7L770.0,236.6L770.5,237.2L771.0,237.1L771.5,237.4L772.0,239.5L772.5,241.3L773.0,241.3L773.5,241.9L774.0,242.1L774.5,241.5L775.0,240.3L775.5,239.5L776.0,240.2L776.5,239.6L777.0,238.0L777.5,239.1L778.0,240.0L778.5,238.9L779.0,236.8L779.5,236.3L780.0,239.2L780.5,238.1L781.0,236.4L781.5,238.3L782.0,238.8L782.5,238.6L783.0,238.9L783.5,240.3L784.0,239.9L784.5,239.3L785.0,240.2L785.5,239.6L786.0,237.6L786.5,239.3L787.0,239.9L787.5,237.9L788.0,236.4L788.5,236.7L789.0,238.9L789.5,239.6L790.0,237.3L790.5,236.3L791.0,237.7L791.5,239.5L792.0,240.2L792.5,238.9L793.0,238.2L793.5,237.6L794.0,234.9L794.5,232.4L795.0,231.5L795.5,231.0L796.0,229.2L796.5,226.3L797.0,223.9L797.5,223.4L798.0,222.8L798.5,221.8L799.0,222.0L799.5,222.7L800.0,222.0L800.5,220.2L801.0,218.8L801.5,215.9L802.0,211.9L802.5,209.2L803.0,207.4L803.5,205.5L804.0,203.7L804.5,201.6L805.0,198.6L805.5,195.3L806.0,192.0L806.5,191.6L807.0,191.5L807.5,190.0L808.0,188.5L808.5,186.8L809.0,184.7L809.5,183.0L810.0,181.1L810.5,178.5L811.0,175.1L811.5,171.9L812.0,169.5L812.5,167.8L813.0,165.8L813.5,162.8L814.0,159.7L814.5,157.0L815.0,154.2L815.5,150.9L816.0,147.1L816.5,142.7L817.0,138.9L817.5,135.9L818.0,131.8L818.5,126.9L819.0,122.5L819.5,118.6L820.0,115.0L820.5,110.6L821.0,105.7L821.5,101.2L822.0,96.8L822.5,94.8L823.0,92.7L823.5,90.9L824.0,89.6L824.5,88.2L825.0,86.7L825.5,84.7L826.0,81.8L826.5,79.0L827.0,77.4L827.5,76.3L828.0,74.7L828.5,72.3L829.0,69.9L829.5,67.3L830.0,65.1L830.5,64.1L831.0,64.0L831.5,63.5L832.0,63.0L832.5,64.0L833.0,66.6L833.5,69.7L834.0,71.3L834.5,72.6L835.0,75.7L835.5,79.7L836.0,83.5L836.5,86.6L837.0,89.8L837.5,93.2L838.0,95.9L838.5,98.7L839.0,102.9L839.5,107.8L840.0,112.6L840.5,116.0L841.0,118.5L841.5,121.5L842.0,124.0L842.5,125.8L843.0,128.2L843.5,131.8L844.0,134.7L844.5,136.0L845.0,137.3L845.5,139.8L846.0,142.0L846.5,143.4L847.0,144.7L847.5,146.2L848.0,147.7L848.5,148.5L849.0,148.9L849.5,149.3L850.0,148.9L850.5,148.2L851.0,148.0L851.5,147.3L852.0,146.2L852.5,146.0L853.0,145.8L853.5,145.2L854.0,144.7L854.5,143.2L855.0,140.6L855.5,138.5L856.0,136.3L856.5,132.3L857.0,128.2L857.5,124.5L858.0,120.8L858.5,117.5L859.0,114.5L859.5,111.1L860.0,107.2L860.5,102.7L861.0,97.5L861.5,92.5L862.0,87.5L862.5,82.2L863.0,77.2L863.5,72.7L864.0,68.0L864.5,63.5L865.0,59.0L865.5,53.8L866.0,48.0L866.5,43.6L867.0,40.7L867.5,38.6L868.0,36.3L868.5,34.1L869.0,33.3L869.5,34.3L870.0,36.0L870.5,37.2L871.0,38.2L871.5,40.6L872.0,44.5L872.5,49.4L873.0,53.9L873.5,58.0L874.0,63.0L874.5,66.5L875.0,69.3L875.5,71.1L876.0,73.3L876.5,76.0L877.0,78.5L877.5,80.6L878.0,82.2L878.5,83.9L879.0,86.5L879.5,90.3L880.0,93.3L880.5,96.9L881.0,101.5L881.5,106.4L882.0,109.7L882.5,112.8L883.0,116.6L883.5,120.1L884.0,123.4L884.5,125.9L885.0,128.4L885.5,131.6L886.0,135.1L886.5,138.5L887.0,141.6L887.5,144.9L888.0,148.7L888.5,152.0L889.0,154.9L889.5,158.0L890.0,161.2L890.5,164.9L891.0,168.6L891.5,172.0L892.0,175.0L892.5,177.9L893.0,180.3L893.5,182.8L894.0,184.7L894.5,186.1L895.0,188.2L895.5,190.4L896.0,191.5L896.5,192.4L897.0,192.9L897.5,193.4L898.0,193.7L898.5,194.2L899.0,195.0L899.5,196.1L900.0,197.4L900.5,198.3L901.0,198.6L901.5,199.0L902.0,199.7L902.5,199.8L903.0,199.1L903.5,199.0L904.0,200.1L904.5,201.1L905.0,201.9L905.5,202.8L906.0,203.6L906.5,204.1L907.0,205.1L907.5,206.2L908.0,206.8L908.5,207.3L909.0,208.3L909.5,210.3L910.0,212.6L910.5,213.6L911.0,212.7L911.5,212.1L912.0,212.7L912.5,213.4L913.0,214.3L913.5,215.1L914.0,215.7L914.5,216.9L915.0,218.3L915.5,219.5L916.0,220.2L916.5,220.3L917.0,220.1L917.5,219.1L918.0,218.7L918.5,219.1L919.0,219.7L919.5,220.1L920.0,220.4L920.5,221.3L921.0,221.5L921.5,220.8L922.0,219.8L922.5,218.4L923.0,217.9L923.5,219.2L924.0,220.4L924.5,220.3L925.0,220.0L925.5,220.9L926.0,222.3L926.5,222.6L927.0,222.1L927.5,221.9L928.0,222.5L928.5,223.1L929.0,222.7L929.5,221.9L930.0,221.5L930.5,221.2L931.0,221.6L931.5,222.0L932.0,222.0L932.5,222.5L933.0,223.2L933.5,223.2L934.0,222.9L934.5,222.2L935.0,221.7L935.5,221.8L936.0,221.4L936.5,220.6L937.0,221.0L937.5,222.5L938.0,223.6L938.5,223.4L939.0,223.4L939.5,223.8L940.0,223.8L940.5,224.2L941.0,225.0L941.5,224.2L942.0,223.0L942.5,223.7L943.0,224.7L943.5,224.9L944.0,224.9L944.5,225.7L945.0,226.7L945.5,227.1L946.0,226.9L946.5,226.3L947.0,225.8L947.5,225.1L948.0,224.9L948.5,225.7L949.0,225.5L949.5,225.0L950.0,224.6L950.5,223.9L951.0,223.0L951.5,223.0L952.0,222.7L952.5,222.2L953.0,221.7L953.5,222.4L954.0,223.8L954.5,224.3L955.0,224.1L955.5,223.3L956.0,222.4L956.5,222.4L957.0,222.2L957.5,222.0L958.0,221.8L958.5,223.6L959.0,225.7L959.5,225.3L960.0,225.6L960.5,225.3L961.0,224.3L961.5,225.0L962.0,225.5L962.5,224.8L963.0,224.8L963.5,225.4L964.0,225.2L964.5,225.1L965.0,225.7L965.5,225.8L966.0,225.6L966.5,226.0L967.0,225.8L967.5,225.4L968.0,225.5L968.5,224.0L969.0,223.8L969.5,222.5L970.0,221.0L970.5,221.5L971.0,223.6L971.5,224.8L972.0,224.1L972.5,223.7L973.0,224.8L973.5,222.4L974.0,220.3L974.5,223.2L975.0,226.2L975.5,224.6L976.0,223.9L976.5,225.2L977.0,225.1L977.5,223.9L978.0,225.5L978.5,225.3L979.0,226.3L979.5,224.4L980.0,223.4L980.5,223.1L981.0,225.3L981.5,224.4L982.0,223.8L982.5,226.8L983.0,226.5L983.5,225.3L984.0,224.3L984.5,223.9L985.0,225.2L985.5,225.7L986.0,225.7L986.5,224.4L987.0,225.5L987.5,226.5L988.0,226.9L988.5,226.6L989.0,225.6L989.5,225.1L990.0,225.6L990.5,226.6L991.0,222.2L991.5,224.9L992.0,224.8L992.5,223.4L993.0,223.1L993.5,222.9L994.0,224.3L994.5,225.7L995.0,224.6L995.5,225.4L996.0,226.4L996.5,226.5L997.0,226.0L997.5,224.5L998.0,223.7L998.5,225.2L999.0,223.7L999.5,223.5L1000.0,226.0L1000.5,227.7L1001.0,226.9L1001.5,226.1L1002.0,224.9L1002.5,226.6" fill="none" stroke="#8a8a8a" stroke-width="0.8" stroke-linejoin="round" />
<path d="M748.0,232.9L748.5,232.9L749.0,232.9L749.5,232.9L750.0,232.9L750.5,232.9L751.0,232.9L751.5,232.9L752.0,232.9L752.5,232.8L753.0,232.8L753.5,232.8L754.0,232.8L754.5,232.8L755.0,232.8L755.5,232.8L756.0,232.8L756.5,232.8L757.0,232.8L757.5,232.8L758.0,232.8L758.5,232.8L759.0,232.8L759.5,232.8L760.0,232.8L760.5,232.8L761.0,232.8L761.5,232.8L762.0,232.8L762.5,232.8L763.0,232.8L763.5,232.8L764.0,232.8L764.5,232.8L765.0,232.8L765.5,232.8L766.0,232.8L766.5,232.8L767.0,232.8L767.5,232.8L768.0,232.8L768.5,232.8L769.0,232.8L769.5,232.8L770.0,232.8L770.5,232.8L771.0,232.8L771.5,232.8L772.0,232.8L772.5,232.8L773.0,232.8L773.5,232.8L774.0,232.8L774.5,232.8L775.0,232.8L775.5,232.8L776.0,232.8L776.5,232.8L777.0,232.8L777.5,232.8L778.0,232.8L778.5,232.8L779.0,232.8L779.5,232.8L780.0,232.8L780.5,232.7L781.0,232.7L781.5,232.7L782.0,232.7L782.5,232.7L783.0,232.7L783.5,232.7L784.0,232.7L784.5,232.7L785.0,232.7L785.5,232.7L786.0,232.7L786.5,232.7L787.0,232.7L787.5,232.7L788.0,232.7L788.5,232.7L789.0,232.7L789.5,232.7L790.0,232.7L790.5,232.7L791.0,232.7L791.5,232.7L792.0,232.7L792.5,232.7L793.0,232.7L793.5,232.7L794.0,232.6L794.5,232.6L795.0,232.6L795.5,232.6L796.0,232.6L796.5,232.6L797.0,232.6L797.5,232.6L798.0,232.6L798.5,232.6L799.0,232.6L799.5,232.6L800.0,232.6L800.5,232.6L801.0,232.6L801.5,232.6L802.0,232.6L802.5,232.6L803.0,232.5L803.5,232.5L804.0,232.5L804.5,232.5L805.0,232.5L805.5,232.5L806.0,232.5L806.5,232.5L807.0,232.5L807.5,232.5L808.0,232.5L808.5,232.5L809.0,232.5L809.5,232.5L810.0,232.4L810.5,232.4L811.0,232.4L811.5,232.4L812.0,232.4L812.5,232.4L813.0,232.4L813.5,232.4L814.0,232.4L814.5,232.4L815.0,232.4L815.5,232.4L816.0,232.3L816.5,232.3L817.0,232.3L817.5,232.3L818.0,232.3L818.5,232.3L819.0,232.3L819.5,232.3L820.0,232.3L820.5,232.3L821.0,232.2L821.5,232.2L822.0,232.2L822.5,232.2L823.0,232.2L823.5,232.2L824.0,232.2L824.5,232.2L825.0,232.1L825.5,232.1L826.0,232.1L826.5,232.1L827.0,232.1L827.5,232.1L828.0,232.1L828.5,232.1L829.0,232.0L829.5,232.0L830.0,232.0L830.5,232.0L831.0,232.0L831.5,232.0L832.0,232.0L832.5,232.0L833.0,231.9L833.5,231.9L834.0,231.9L834.5,231.9L835.0,231.9L835.5,231.9L836.0,231.8L836.5,231.8L837.0,231.8L837.5,231.8L838.0,231.8L838.5,231.8L839.0,231.8L839.5,231.7L840.0,231.7L840.5,231.7L841.0,231.7L841.5,231.7L842.0,231.7L842.5,231.6L843.0,231.6L843.5,231.6L844.0,231.6L844.5,231.6L845.0,231.6L845.5,231.5L846.0,231.5L846.5,231.5L847.0,231.5L847.5,231.5L848.0,231.4L848.5,231.4L849.0,231.4L849.5,231.4L850.0,231.4L850.5,231.4L851.0,231.3L851.5,231.3L852.0,231.3L852.5,231.3L853.0,231.3L853.5,231.2L854.0,231.2L854.5,231.2L855.0,231.2L855.5,231.2L856.0,231.2L856.5,231.1L857.0,231.1L857.5,231.1L858.0,231.1L858.5,231.1L859.0,231.0L859.5,231.0L860.0,231.0L860.5,231.0L861.0,231.0L861.5,230.9L862.0,230.9L862.5,230.9L863.0,230.9L863.5,230.9L864.0,230.8L864.5,230.8L865.0,230.8L865.5,230.8L866.0,230.8L866.5,230.8L867.0,230.7L867.5,230.7L868.0,230.7L868.5,230.7L869.0,230.7L869.5,230.6L870.0,230.6L870.5,230.6L871.0,230.6L871.5,230.6L872.0,230.6L872.5,230.5L873.0,230.5L873.5,230.5L874.0,230.5L874.5,230.5L875.0,230.4L875.5,230.4L876.0,230.4L876.5,230.4L877.0,230.4L877.5,230.4L878.0,230.3L878.5,230.3L879.0,230.3L879.5,230.3L880.0,230.3L880.5,230.3L881.0,230.2L881.5,230.2L882.0,230.2L882.5,230.2L883.0,230.2L883.5,230.2L884.0,230.2L884.5,230.1L885.0,230.1L885.5,230.1L886.0,230.1L886.5,230.1L887.0,230.1L887.5,230.0L888.0,230.0L888.5,230.0L889.0,230.0L889.5,230.0L890.0,230.0L890.5,230.0L891.0,230.0L891.5,229.9L892.0,229.9L892.5,229.9L893.0,229.9L893.5,229.9L894.0,229.9L894.5,229.9L895.0,229.9L895.5,229.8L896.0,229.8L896.5,229.8L897.0,229.8L897.5,229.8L898.0,229.8L898.5,229.8L899.0,229.8L899.5,229.7L900.0,229.7L900.5,229.7L901.0,229.7L901.5,229.7L902.0,229.7L902.5,229.7L903.0,229.7L903.5,229.7L904.0,229.7L904.5,229.6L905.0,229.6L905.5,229.6L906.0,229.6L906.5,229.6L907.0,229.6L907.5,229.6L908.0,229.6L908.5,229.6L909.0,229.6L909.5,229.6L910.0,229.6L910.5,229.5L911.0,229.5L911.5,229.5L912.0,229.5L912.5,229.5L913.0,229.5L913.5,229.5L914.0,229.5L914.5,229.5L915.0,229.5L915.5,229.5L916.0,229.5L916.5,229.5L917.0,229.5L917.5,229.4L918.0,229.4L918.5,229.4L919.0,229.4L919.5,229.4L920.0,229.4L920.5,229.4L921.0,229.4L921.5,229.4L922.0,229.4L922.5,229.4L923.0,229.4L923.5,229.4L924.0,229.4L924.5,229.4L925.0,229.4L925.5,229.4L926.0,229.4L926.5,229.3L927.0,229.3L927.5,229.3L928.0,229.3L928.5,229.3L929.0,229.3L929.5,229.3L930.0,229.3L930.5,229.3L931.0,229.3L931.5,229.3L932.0,229.3L932.5,229.3L933.0,229.3L933.5,229.3L934.0,229.3L934.5,229.3L935.0,229.3L935.5,229.3L936.0,229.3L936.5,229.3L937.0,229.3L937.5,229.3L938.0,229.3L938.5,229.3L939.0,229.3L939.5,229.3L940.0,229.2L940.5,229.2L941.0,229.2L941.5,229.2L942.0,229.2L942.5,229.2L943.0,229.2L943.5,229.2L944.0,229.2L944.5,229.2L945.0,229.2L945.5,229.2L946.0,229.2L946.5,229.2L947.0,229.2L947.5,229.2L948.0,229.2L948.5,229.2L949.0,229.2L949.5,229.2L950.0,229.2L950.5,229.2L951.0,229.2L951.5,229.2L952.0,229.2L952.5,229.2L953.0,229.2L953.5,229.2L954.0,229.2L954.5,229.2L955.0,229.2L955.5,229.2L956.0,229.2L956.5,229.2L957.0,229.2L957.5,229.2L958.0,229.2L958.5,229.2L959.0,229.2L959.5,229.2L960.0,229.2L960.5,229.2L961.0,229.2L961.5,229.2L962.0,229.2L962.5,229.2L963.0,229.2L963.5,229.2L964.0,229.2L964.5,229.2L965.0,229.2L965.5,229.2L966.0,229.2L966.5,229.2L967.0,229.2L967.5,229.2L968.0,229.1L968.5,229.1L969.0,229.1L969.5,229.1L970.0,229.1L970.5,229.1L971.0,229.1L971.5,229.1L972.0,229.1L972.5,229.1L973.0,229.1L973.5,229.1L974.0,229.1L974.5,229.1L975.0,229.1L975.5,229.1L976.0,229.1L976.5,229.1L977.0,229.1L977.5,229.1L978.0,229.1L978.5,229.1L979.0,229.1L979.5,229.1L980.0,229.1L980.5,229.1L981.0,229.1L981.5,229.1L982.0,229.1L982.5,229.1L983.0,229.1L983.5,229.1L984.0,229.1L984.5,229.1L985.0,229.1L985.5,229.1L986.0,229.1L986.5,229.1L987.0,229.1L987.5,229.1L988.0,229.1L988.5,229.1L989.0,229.1L989.5,229.1L990.0,229.1L990.5,229.1L991.0,229.1L991.5,229.1L992.0,229.1L992.5,229.1L993.0,229.1L993.5,229.1L994.0,229.1L994.5,229.1L995.0,229.1L995.5,229.1L996.0,229.1L996.5,229.1L997.0,229.1L997.5,229.1L998.0,229.1L998.5,229.1L999.0,229.1L999.5,229.1L1000.0,229.1L1000.5,229.1L1001.0,229.1L1001.5,229.1L1002.0,229.1L1002.5,229.1" fill="none" stroke="#00dd00" stroke-width="1.2" stroke-linejoin="round" />
<path d="M748.0,232.1L748.5,232.1L749.0,232.1L749.5,232.1L750.0,232.1L750.5,232.1L751.0,232.1L751.5,232.1L752.0,232.1L752.5,232.0L753.0,232.0L753.5,232.0L754.0,232.0L754.5,232.0L755.0,232.0L755.5,232.0L756.0,232.0L756.5,232.0L757.0,232.0L757.5,232.0L758.0,232.0L758.5,232.0L759.0,232.0L759.5,232.0L760.0,232.0L760.5,232.0L761.0,232.0L761.5,232.0L762.0,232.0L762.5,232.0L763.0,232.0L763.5,232.0L764.0,232.0L764.5,232.0L765.0,232.0L765.5,232.0L766.0,232.0L766.5,232.0L767.0,232.0L767.5,232.0L768.0,232.0L768.5,232.0L769.0,232.0L769.5,232.0L770.0,232.0L770.5,232.0L771.0,232.0L771.5,232.0L772.0,232.0L772.5,232.0L773.0,232.0L773.5,232.0L774.0,232.0L774.5,232.0L775.0,232.0L775.5,232.0L776.0,232.0L776.5,232.0L777.0,232.0L777.5,232.0L778.0,232.0L778.5,232.0L779.0,232.0L779.5,232.0L780.0,232.0L780.5,231.9L781.0,231.9L781.5,231.9L782.0,231.9L782.5,231.9L783.0,231.9L783.5,231.9L784.0,231.9L784.5,231.9L785.0,231.9L785.5,231.9L786.0,231.9L786.5,231.9L787.0,231.9L787.5,231.9L788.0,231.9L788.5,231.9L789.0,231.9L789.5,231.9L790.0,231.9L790.5,231.9L791.0,231.9L791.5,231.9L792.0,231.9L792.5,231.9L793.0,231.9L793.5,231.9L794.0,231.8L794.5,231.8L795.0,231.8L795.5,231.8L796.0,231.8L796.5,231.8L797.0,231.8L797.5,231.8L798.0,231.8L798.5,231.8L799.0,231.8L799.5,231.8L800.0,231.8L800.5,231.8L801.0,231.8L801.5,231.8L802.0,231.8L802.5,231.8L803.0,231.7L803.5,231.7L804.0,231.7L804.5,231.7L805.0,231.7L805.5,231.7L806.0,231.7L806.5,231.7L807.0,231.7L807.5,231.7L808.0,231.7L808.5,231.7L809.0,231.7L809.5,231.7L810.0,231.6L810.5,231.6L811.0,231.6L811.5,231.6L812.0,231.6L812.5,231.6L813.0,231.6L813.5,231.6L814.0,231.6L814.5,231.6L815.0,231.6L815.5,231.6L816.0,231.5L816.5,231.5L817.0,231.5L817.5,231.5L818.0,231.5L818.5,231.5L819.0,231.5L819.5,231.5L820.0,231.5L820.5,231.5L821.0,231.4L821.5,231.4L822.0,231.4L822.5,231.4L823.0,231.4L823.5,231.4L824.0,231.4L824.5,231.4L825.0,231.3L825.5,231.3L826.0,231.3L826.5,231.3L827.0,231.3L827.5,231.3L828.0,231.3L828.5,231.3L829.0,231.2L829.5,231.2L830.0,231.2L830.5,231.2L831.0,231.2L831.5,231.2L832.0,231.2L832.5,231.2L833.0,231.1L833.5,231.1L834.0,231.1L834.5,231.1L835.0,231.1L835.5,231.1L836.0,231.0L836.5,231.0L837.0,231.0L837.5,231.0L838.0,231.0L838.5,231.0L839.0,231.0L839.5,230.9L840.0,230.9L840.5,230.9L841.0,230.9L841.5,230.9L842.0,230.9L842.5,230.8L843.0,230.8L843.5,230.8L844.0,230.8L844.5,230.8L845.0,230.8L845.5,230.7L846.0,230.7L846.5,230.7L847.0,230.7L847.5,230.7L848.0,230.6L848.5,230.6L849.0,230.6L849.5,230.6L850.0,230.6L850.5,230.6L851.0,230.5L851.5,230.5L852.0,230.5L852.5,230.5L853.0,230.5L853.5,230.4L854.0,230.4L854.5,230.4L855.0,230.4L855.5,230.4L856.0,230.4L856.5,230.3L857.0,230.3L857.5,230.3L858.0,230.3L858.5,230.3L859.0,230.2L859.5,230.2L860.0,230.2L860.5,230.2L861.0,230.2L861.5,230.1L862.0,230.1L862.5,230.1L863.0,230.1L863.5,230.1L864.0,230.0L864.5,230.0L865.0,230.0L865.5,230.0L866.0,230.0L866.5,230.0L867.0,229.9L867.5,229.9L868.0,229.9L868.5,229.9L869.0,229.9L869.5,229.8L870.0,229.8L870.5,229.8L871.0,229.8L871.5,229.8L872.0,229.8L872.5,229.7L873.0,229.7L873.5,229.7L874.0,229.7L874.5,229.7L875.0,229.6L875.5,229.6L876.0,229.6L876.5,229.6L877.0,229.6L877.5,229.6L878.0,229.5L878.5,229.5L879.0,229.5L879.5,229.5L880.0,229.5L880.5,229.5L881.0,229.4L881.5,229.4L882.0,229.4L882.5,229.4L883.0,229.4L883.5,229.4L884.0,229.4L884.5,229.3L885.0,229.3L885.5,229.3L886.0,229.3L886.5,229.3L887.0,229.3L887.5,229.2L888.0,229.2L888.5,229.2L889.0,229.2L889.5,229.2L890.0,229.2L890.5,229.2L891.0,229.2L891.5,229.1L892.0,229.1L892.5,229.1L893.0,229.1L893.5,229.1L894.0,229.1L894.5,229.1L895.0,229.1L895.5,229.0L896.0,229.0L896.5,229.0L897.0,229.0L897.5,229.0L898.0,229.0L898.5,229.0L899.0,229.0L899.5,228.9L900.0,228.9L900.5,228.9L901.0,228.9L901.5,228.9L902.0,228.9L902.5,228.9L903.0,228.9L903.5,228.9L904.0,228.9L904.5,228.8L905.0,228.8L905.5,228.8L906.0,228.8L906.5,228.8L907.0,228.8L907.5,228.8L908.0,228.8L908.5,228.8L909.0,228.8L909.5,228.8L910.0,228.8L910.5,228.7L911.0,228.7L911.5,228.7L912.0,228.7L912.5,228.7L913.0,228.7L913.5,228.7L914.0,228.7L914.5,228.7L915.0,228.7L915.5,228.7L916.0,228.7L916.5,228.7L917.0,228.7L917.5,228.6L918.0,228.6L918.5,228.6L919.0,228.6L919.5,228.6L920.0,228.6L920.5,228.6L921.0,228.6L921.5,228.6L922.0,228.6L922.5,228.6L923.0,228.6L923.5,228.6L924.0,228.6L924.5,228.6L925.0,228.6L925.5,228.6L926.0,228.6L926.5,228.5L927.0,228.5L927.5,228.5L928.0,228.5L928.5,228.5L929.0,228.5L929.5,228.5L930.0,228.5L930.5,228.5L931.0,228.5L931.5,228.5L932.0,228.5L932.5,228.5L933.0,228.5L933.5,228.5L934.0,228.5L934.5,228.5L935.0,228.5L935.5,228.5L936.0,228.5L936.5,228.5L937.0,228.5L937.5,228.5L938.0,228.5L938.5,228.5L939.0,228.5L939.5,228.5L940.0,228.4L940.5,228.4L941.0,228.4L941.5,228.4L942.0,228.4L942.5,228.4L943.0,228.4L943.5,228.4L944.0,228.4L944.5,228.4L945.0,228.4L945.5,228.4L946.0,228.4L946.5,228.4L947.0,228.4L947.5,228.4L948.0,228.4L948.5,228.4L949.0,228.4L949.5,228.4L950.0,228.4L950.5,228.4L951.0,228.4L951.5,228.4L952.0,228.4L952.5,228.4L953.0,228.4L953.5,228.4L954.0,228.4L954.5,228.4L955.0,228.4L955.5,228.4L956.0,228.4L956.5,228.4L957.0,228.4L957.5,228.4L958.0,228.4L958.5,228.4L959.0,228.4L959.5,228.4L960.0,228.4L960.5,228.4L961.0,228.4L961.5,228.4L962.0,228.4L962.5,228.4L963.0,228.4L963.5,228.4L964.0,228.4L964.5,228.4L965.0,228.4L965.5,228.4L966.0,228.4L966.5,228.4L967.0,228.4L967.5,228.4L968.0,228.3L968.5,228.3L969.0,228.3L969.5,228.3L970.0,228.3L970.5,228.3L971.0,228.3L971.5,228.3L972.0,228.3L972.5,228.3L973.0,228.3L973.5,228.3L974.0,228.3L974.5,228.3L975.0,228.3L975.5,228.3L976.0,228.3L976.5,228.3L977.0,228.3L977.5,228.3L978.0,228.3L978.5,228.3L979.0,228.3L979.5,228.3L980.0,228.3L980.5,228.3L981.0,228.3L981.5,228.3L982.0,228.3L982.5,228.3L983.0,228.3L983.5,228.3L984.0,228.3L984.5,228.3L985.0,228.3L985.5,228.3L986.0,228.3L986.5,228.3L987.0,228.3L987.5,228.3L988.0,228.3L988.5,228.3L989.0,228.3L989.5,228.3L990.0,228.3L990.5,228.3L991.0,228.3L991.5,228.3L992.0,228.3L992.5,228.3L993.0,228.3L993.5,228.3L994.0,228.3L994.5,228.3L995.0,228.3L995.5,228.3L996.0,228.3L996.5,228.3L997.0,228.3L997.5,228.3L998.0,228.3L998.5,228.3L999.0,228.3L999.5,228.3L1000.0,228.3L1000.5,228.3L1001.0,228.3L1001.5,228.3L1002.0,228.3L1002.5,228.3" fill="none" stroke="#ff0000" stroke-width="1.4" stroke-linejoin="round" />
<path d="M748.0,232.1L748.5,232.1L749.0,232.1L749.5,232.1L750.0,232.0L750.5,232.0L751.0,232.0L751.5,232.0L752.0,232.0L752.5,232.0L753.0,232.0L753.5,232.0L754.0,232.0L754.5,232.0L755.0,232.0L755.5,232.0L756.0,232.0L756.5,232.0L757.0,232.0L757.5,232.0L758.0,232.0L758.5,232.0L759.0,232.0L759.5,232.0L760.0,232.0L760.5,232.0L761.0,232.0L761.5,232.0L762.0,232.0L762.5,232.0L763.0,232.0L763.5,232.0L764.0,232.0L764.5,232.0L765.0,232.0L765.5,232.0L766.0,232.0L766.5,232.0L767.0,232.0L767.5,232.0L768.0,232.0L768.5,232.0L769.0,232.0L769.5,232.0L770.0,232.0L770.5,232.0L771.0,232.0L771.5,232.0L772.0,232.0L772.5,232.0L773.0,232.0L773.5,232.0L774.0,232.0L774.5,232.0L775.0,232.0L775.5,232.0L776.0,232.0L776.5,232.0L777.0,232.0L777.5,232.0L778.0,232.0L778.5,232.0L779.0,232.0L779.5,231.9L780.0,231.9L780.5,231.9L781.0,231.9L781.5,231.9L782.0,231.9L782.5,231.9L783.0,231.9L783.5,231.9L784.0,231.9L784.5,231.9L785.0,231.9L785.5,231.9L786.0,231.9L786.5,231.9L787.0,231.9L787.5,231.9L788.0,231.9L788.5,231.9L789.0,231.9L789.5,231.9L790.0,231.9L790.5,231.9L791.0,231.9L791.5,231.9L792.0,231.9L792.5,231.9L793.0,231.8L793.5,231.8L794.0,231.8L794.5,231.8L795.0,231.8L795.5,231.8L796.0,231.8L796.5,231.8L797.0,231.8L797.5,231.8L798.0,231.8L798.5,231.8L799.0,231.8L799.5,231.8L800.0,231.8L800.5,231.8L801.0,231.8L801.5,231.8L802.0,231.7L802.5,231.7L803.0,231.7L803.5,231.7L804.0,231.7L804.5,231.7L805.0,231.7L805.5,231.7L806.0,231.7L806.5,231.7L807.0,231.7L807.5,231.7L808.0,231.7L808.5,231.7L809.0,231.7L809.5,231.6L810.0,231.6L810.5,231.6L811.0,231.6L811.5,231.6L812.0,231.6L812.5,231.6L813.0,231.6L813.5,231.6L814.0,231.6L814.5,231.6L815.0,231.5L815.5,231.5L816.0,231.5L816.5,231.5L817.0,231.5L817.5,231.5L818.0,231.5L818.5,231.5L819.0,231.5L819.5,231.5L820.0,231.4L820.5,231.4L821.0,231.4L821.5,231.4L822.0,231.4L822.5,231.4L823.0,231.4L823.5,231.4L824.0,231.4L824.5,231.3L825.0,231.3L825.5,231.3L826.0,231.3L826.5,231.3L827.0,231.3L827.5,231.3L828.0,231.3L828.5,231.2L829.0,231.2L829.5,231.2L830.0,231.2L830.5,231.2L831.0,231.2L831.5,231.2L832.0,231.1L832.5,231.1L833.0,231.1L833.5,231.1L834.0,231.1L834.5,231.1L835.0,231.1L835.5,231.0L836.0,231.0L836.5,231.0L837.0,231.0L837.5,231.0L838.0,231.0L838.5,230.9L839.0,230.9L839.5,230.9L840.0,230.9L840.5,230.9L841.0,230.9L841.5,230.8L842.0,230.8L842.5,230.8L843.0,230.8L843.5,230.8L844.0,230.8L844.5,230.7L845.0,230.7L845.5,230.7L846.0,230.7L846.5,230.7L847.0,230.6L847.5,230.6L848.0,230.6L848.5,230.6L849.0,230.6L849.5,230.6L850.0,230.5L850.5,230.5L851.0,230.5L851.5,230.5L852.0,230.5L852.5,230.4L853.0,230.4L853.5,230.4L854.0,230.4L854.5,230.4L855.0,230.3L855.5,230.3L856.0,230.3L856.5,230.3L857.0,230.3L857.5,230.2L858.0,230.2L858.5,230.2L859.0,230.2L859.5,230.2L860.0,230.1L860.5,230.1L861.0,230.1L861.5,230.1L862.0,230.1L862.5,230.0L863.0,230.0L863.5,230.0L864.0,230.0L864.5,230.0L865.0,229.9L865.5,229.9L866.0,229.9L866.5,229.9L867.0,229.9L867.5,229.8L868.0,229.8L868.5,229.8L869.0,229.8L869.5,229.8L870.0,229.7L870.5,229.7L871.0,229.7L871.5,229.7L872.0,229.6L872.5,229.6L873.0,229.6L873.5,229.6L874.0,229.6L874.5,229.5L875.0,229.5L875.5,229.5L876.0,229.5L876.5,229.4L877.0,229.4L877.5,229.4L878.0,229.4L878.5,229.4L879.0,229.3L879.5,229.3L880.0,229.3L880.5,229.2L881.0,229.2L881.5,229.2L882.0,229.2L882.5,229.1L883.0,229.1L883.5,229.0L884.0,229.0L884.5,228.9L885.0,228.9L885.5,228.8L886.0,228.7L886.5,228.6L887.0,228.5L887.5,228.4L888.0,228.3L888.5,228.1L889.0,228.0L889.5,227.8L890.0,227.6L890.5,227.3L891.0,227.0L891.5,226.7L892.0,226.4L892.5,226.0L893.0,225.6L893.5,225.2L894.0,224.8L894.5,224.3L895.0,223.8L895.5,223.3L896.0,222.8L896.5,222.2L897.0,221.7L897.5,221.2L898.0,220.7L898.5,220.2L899.0,219.8L899.5,219.4L900.0,219.1L900.5,218.8L901.0,218.6L901.5,218.4L902.0,218.4L902.5,218.4L903.0,218.5L903.5,218.7L904.0,219.0L904.5,219.3L905.0,219.7L905.5,220.1L906.0,220.5L906.5,221.0L907.0,221.5L907.5,222.0L908.0,222.5L908.5,223.0L909.0,223.5L909.5,224.0L910.0,224.4L910.5,224.9L911.0,225.3L911.5,225.6L912.0,226.0L912.5,226.3L913.0,226.6L913.5,226.8L914.0,227.1L914.5,227.3L915.0,227.4L915.5,227.6L916.0,227.7L916.5,227.8L917.0,227.9L917.5,228.0L918.0,228.1L918.5,228.1L919.0,228.2L919.5,228.2L920.0,228.3L920.5,228.3L921.0,228.3L921.5,228.3L922.0,228.3L922.5,228.3L923.0,228.4L923.5,228.4L924.0,228.4L924.5,228.4L925.0,228.4L925.5,228.4L926.0,228.4L926.5,228.4L927.0,228.4L927.5,228.4L928.0,228.4L928.5,228.4L929.0,228.4L929.5,228.4L930.0,228.4L930.5,228.4L931.0,228.4L931.5,228.4L932.0,228.4L932.5,228.4L933.0,228.4L933.5,228.4L934.0,228.4L934.5,228.4L935.0,228.4L935.5,228.4L936.0,228.4L936.5,228.4L937.0,228.4L937.5,228.4L938.0,228.4L938.5,228.4L939.0,228.4L939.5,228.4L940.0,228.4L940.5,228.4L941.0,228.4L941.5,228.4L942.0,228.4L942.5,228.4L943.0,228.4L943.5,228.4L944.0,228.4L944.5,228.4L945.0,228.4L945.5,228.4L946.0,228.4L946.5,228.4L947.0,228.4L947.5,228.4L948.0,228.4L948.5,228.4L949.0,228.4L949.5,228.4L950.0,228.4L950.5,228.4L951.0,228.4L951.5,228.4L952.0,228.4L952.5,228.4L953.0,228.4L953.5,228.4L954.0,228.3L954.5,228.3L955.0,228.3L955.5,228.3L956.0,228.3L956.5,228.3L957.0,228.3L957.5,228.3L958.0,228.3L958.5,228.3L959.0,228.3L959.5,228.3L960.0,228.3L960.5,228.3L961.0,228.3L961.5,228.3L962.0,228.3L962.5,228.3L963.0,228.3L963.5,228.3L964.0,228.3L964.5,228.3L965.0,228.3L965.5,228.3L966.0,228.3L966.5,228.3L967.0,228.3L967.5,228.3L968.0,228.3L968.5,228.3L969.0,228.3L969.5,228.3L970.0,228.3L970.5,228.3L971.0,228.3L971.5,228.3L972.0,228.3L972.5,228.3L973.0,228.3L973.5,228.3L974.0,228.3L974.5,228.3L975.0,228.3L975.5,228.3L976.0,228.3L976.5,228.3L977.0,228.3L977.5,228.3L978.0,228.3L978.5,228.3L979.0,228.3L979.5,228.3L980.0,228.3L980.5,228.3L981.0,228.3L981.5,228.3L982.0,228.3L982.5,228.3L983.0,228.3L983.5,228.3L984.0,228.3L984.5,228.3L985.0,228.3L985.5,228.3L986.0,228.3L986.5,228.3L987.0,228.3L987.5,228.3L988.0,228.3L988.5,228.3L989.0,228.3L989.5,228.3L990.0,228.3L990.5,228.3L991.0,228.3L991.5,228.3L992.0,228.3L992.5,228.3L993.0,228.3L993.5,228.3L994.0,228.3L994.5,228.3L995.0,228.3L995.5,228.3L996.0,228.3L996.5,228.3L997.0,228.3L997.5,228.3L998.0,228.3L998.5,228.3L999.0,228.3L999.5,228.3L1000.0,228.3L1000.5,228.3L1001.0,228.3L1001.5,228.3L1002.0,228.3L1002.5,228.3" fill="none" stroke="#111" stroke-width="1.2" stroke-linejoin="round" />
<path d="M748.0,232.1L748.5,232.1L749.0,232.1L749.5,232.1L750.0,232.1L750.5,232.1L751.0,232.0L751.5,232.0L752.0,232.0L752.5,232.0L753.0,232.0L753.5,232.0L754.0,232.0L754.5,232.0L755.0,232.0L755.5,232.0L756.0,232.0L756.5,232.0L757.0,232.0L757.5,232.0L758.0,232.0L758.5,232.0L759.0,232.0L759.5,232.0L760.0,232.0L760.5,232.0L761.0,232.0L761.5,232.0L762.0,232.0L762.5,232.0L763.0,232.0L763.5,232.0L764.0,232.0L764.5,232.0L765.0,232.0L765.5,232.0L766.0,232.0L766.5,232.0L767.0,232.0L767.5,232.0L768.0,232.0L768.5,232.0L769.0,232.0L769.5,232.0L770.0,232.0L770.5,232.0L771.0,232.0L771.5,232.0L772.0,232.0L772.5,232.0L773.0,232.0L773.5,232.0L774.0,232.0L774.5,232.0L775.0,232.0L775.5,232.0L776.0,232.0L776.5,232.0L777.0,232.0L777.5,232.0L778.0,232.0L778.5,232.0L779.0,232.0L779.5,231.9L780.0,231.9L780.5,231.9L781.0,231.9L781.5,231.9L782.0,231.9L782.5,231.9L783.0,231.9L783.5,231.9L784.0,231.9L784.5,231.9L785.0,231.9L785.5,231.9L786.0,231.9L786.5,231.9L787.0,231.9L787.5,231.9L788.0,231.9L788.5,231.9L789.0,231.9L789.5,231.9L790.0,231.9L790.5,231.9L791.0,231.9L791.5,231.9L792.0,231.9L792.5,231.9L793.0,231.9L793.5,231.8L794.0,231.8L794.5,231.8L795.0,231.8L795.5,231.8L796.0,231.8L796.5,231.8L797.0,231.8L797.5,231.8L798.0,231.8L798.5,231.8L799.0,231.8L799.5,231.8L800.0,231.8L800.5,231.8L801.0,231.8L801.5,231.8L802.0,231.8L802.5,231.7L803.0,231.7L803.5,231.7L804.0,231.7L804.5,231.7L805.0,231.7L805.5,231.7L806.0,231.7L806.5,231.7L807.0,231.7L807.5,231.7L808.0,231.7L808.5,231.7L809.0,231.7L809.5,231.6L810.0,231.6L810.5,231.6L811.0,231.6L811.5,231.6L812.0,231.6L812.5,231.6L813.0,231.6L813.5,231.6L814.0,231.6L814.5,231.6L815.0,231.6L815.5,231.5L816.0,231.5L816.5,231.5L817.0,231.5L817.5,231.5L818.0,231.5L818.5,231.5L819.0,231.5L819.5,231.5L820.0,231.4L820.5,231.4L821.0,231.4L821.5,231.4L822.0,231.4L822.5,231.4L823.0,231.4L823.5,231.4L824.0,231.4L824.5,231.3L825.0,231.3L825.5,231.3L826.0,231.3L826.5,231.3L827.0,231.3L827.5,231.3L828.0,231.3L828.5,231.2L829.0,231.2L829.5,231.2L830.0,231.2L830.5,231.2L831.0,231.2L831.5,231.2L832.0,231.1L832.5,231.1L833.0,231.1L833.5,231.1L834.0,231.1L834.5,231.1L835.0,231.1L835.5,231.0L836.0,231.0L836.5,231.0L837.0,231.0L837.5,231.0L838.0,231.0L838.5,230.9L839.0,230.9L839.5,230.9L840.0,230.9L840.5,230.9L841.0,230.9L841.5,230.8L842.0,230.8L842.5,230.8L843.0,230.8L843.5,230.8L844.0,230.8L844.5,230.7L845.0,230.7L845.5,230.7L846.0,230.7L846.5,230.7L847.0,230.6L847.5,230.6L848.0,230.6L848.5,230.6L849.0,230.6L849.5,230.6L850.0,230.5L850.5,230.5L851.0,230.5L851.5,230.5L852.0,230.5L852.5,230.4L853.0,230.4L853.5,230.4L854.0,230.4L854.5,230.4L855.0,230.3L855.5,230.3L856.0,230.3L856.5,230.3L857.0,230.2L857.5,230.2L858.0,230.2L858.5,230.2L859.0,230.2L859.5,230.1L860.0,230.1L860.5,230.1L861.0,230.1L861.5,230.0L862.0,230.0L862.5,230.0L863.0,230.0L863.5,230.0L864.0,229.9L864.5,229.9L865.0,229.9L865.5,229.9L866.0,229.8L866.5,229.8L867.0,229.8L867.5,229.7L868.0,229.7L868.5,229.7L869.0,229.6L869.5,229.6L870.0,229.5L870.5,229.5L871.0,229.4L871.5,229.3L872.0,229.1L872.5,229.0L873.0,228.7L873.5,228.5L874.0,228.2L874.5,227.8L875.0,227.3L875.5,226.7L876.0,226.0L876.5,225.2L877.0,224.3L877.5,223.2L878.0,222.1L878.5,220.8L879.0,219.5L879.5,218.1L880.0,216.7L880.5,215.3L881.0,214.0L881.5,212.7L882.0,211.6L882.5,210.7L883.0,210.0L883.5,209.5L884.0,209.4L884.5,209.5L885.0,209.9L885.5,210.6L886.0,211.5L886.5,212.5L887.0,213.8L887.5,215.1L888.0,216.5L888.5,217.8L889.0,219.2L889.5,220.5L890.0,221.7L890.5,222.8L891.0,223.9L891.5,224.7L892.0,225.5L892.5,226.2L893.0,226.7L893.5,227.2L894.0,227.6L894.5,227.8L895.0,228.1L895.5,228.3L896.0,228.4L896.5,228.5L897.0,228.6L897.5,228.6L898.0,228.7L898.5,228.7L899.0,228.7L899.5,228.7L900.0,228.7L900.5,228.8L901.0,228.8L901.5,228.8L902.0,228.8L902.5,228.7L903.0,228.7L903.5,228.7L904.0,228.7L904.5,228.7L905.0,228.7L905.5,228.7L906.0,228.7L906.5,228.7L907.0,228.7L907.5,228.7L908.0,228.7L908.5,228.7L909.0,228.7L909.5,228.7L910.0,228.7L910.5,228.7L911.0,228.7L911.5,228.7L912.0,228.7L912.5,228.7L913.0,228.6L913.5,228.6L914.0,228.6L914.5,228.6L915.0,228.6L915.5,228.6L916.0,228.6L916.5,228.6L917.0,228.6L917.5,228.6L918.0,228.6L918.5,228.6L919.0,228.6L919.5,228.6L920.0,228.6L920.5,228.6L921.0,228.6L921.5,228.6L922.0,228.6L922.5,228.6L923.0,228.6L923.5,228.5L924.0,228.5L924.5,228.5L925.0,228.5L925.5,228.5L926.0,228.5L926.5,228.5L927.0,228.5L927.5,228.5L928.0,228.5L928.5,228.5L929.0,228.5L929.5,228.5L930.0,228.5L930.5,228.5L931.0,228.5L931.5,228.5L932.0,228.5L932.5,228.5L933.0,228.5L933.5,228.5L934.0,228.5L934.5,228.5L935.0,228.5L935.5,228.5L936.0,228.5L936.5,228.5L937.0,228.4L937.5,228.4L938.0,228.4L938.5,228.4L939.0,228.4L939.5,228.4L940.0,228.4L940.5,228.4L941.0,228.4L941.5,228.4L942.0,228.4L942.5,228.4L943.0,228.4L943.5,228.4L944.0,228.4L944.5,228.4L945.0,228.4L945.5,228.4L946.0,228.4L946.5,228.4L947.0,228.4L947.5,228.4L948.0,228.4L948.5,228.4L949.0,228.4L949.5,228.4L950.0,228.4L950.5,228.4L951.0,228.4L951.5,228.4L952.0,228.4L952.5,228.4L953.0,228.4L953.5,228.4L954.0,228.4L954.5,228.4L955.0,228.4L955.5,228.4L956.0,228.4L956.5,228.4L957.0,228.4L957.5,228.4L958.0,228.4L958.5,228.4L959.0,228.4L959.5,228.4L960.0,228.4L960.5,228.4L961.0,228.4L961.5,228.4L962.0,228.4L962.5,228.4L963.0,228.4L963.5,228.4L964.0,228.4L964.5,228.3L965.0,228.3L965.5,228.3L966.0,228.3L966.5,228.3L967.0,228.3L967.5,228.3L968.0,228.3L968.5,228.3L969.0,228.3L969.5,228.3L970.0,228.3L970.5,228.3L971.0,228.3L971.5,228.3L972.0,228.3L972.5,228.3L973.0,228.3L973.5,228.3L974.0,228.3L974.5,228.3L975.0,228.3L975.5,228.3L976.0,228.3L976.5,228.3L977.0,228.3L977.5,228.3L978.0,228.3L978.5,228.3L979.0,228.3L979.5,228.3L980.0,228.3L980.5,228.3L981.0,228.3L981.5,228.3L982.0,228.3L982.5,228.3L983.0,228.3L983.5,228.3L984.0,228.3L984.5,228.3L985.0,228.3L985.5,228.3L986.0,228.3L986.5,228.3L987.0,228.3L987.5,228.3L988.0,228.3L988.5,228.3L989.0,228.3L989.5,228.3L990.0,228.3L990.5,228.3L991.0,228.3L991.5,228.3L992.0,228.3L992.5,228.3L993.0,228.3L993.5,228.3L994.0,228.3L994.5,228.3L995.0,228.3L995.5,228.3L996.0,228.3L996.5,228.3L997.0,228.3L997.5,228.3L998.0,228.3L998.5,228.3L999.0,228.3L999.5,228.3L1000.0,228.3L1000.5,228.3L1001.0,228.3L1001.5,228.3L1002.0,228.3L1002.5,228.3" fill="none" stroke="#ff0000" stroke-width="1.4" stroke-linejoin="round" />
<path d="M748.0,229.3L748.5,229.3L749.0,229.3L749.5,229.2L750.0,229.2L750.5,229.2L751.0,229.1L751.5,229.1L752.0,229.1L752.5,229.0L753.0,229.0L753.5,228.9L754.0,228.9L754.5,228.9L755.0,228.8L755.5,228.8L756.0,228.7L756.5,228.7L757.0,228.6L757.5,228.6L758.0,228.5L758.5,228.5L759.0,228.5L759.5,228.4L760.0,228.3L760.5,228.3L761.0,228.2L761.5,228.2L762.0,228.1L762.5,228.1L763.0,228.0L763.5,228.0L764.0,227.9L764.5,227.8L765.0,227.8L765.5,227.7L766.0,227.6L766.5,227.6L767.0,227.5L767.5,227.4L768.0,227.4L768.5,227.3L769.0,227.2L769.5,227.1L770.0,227.1L770.5,227.0L771.0,226.9L771.5,226.8L772.0,226.7L772.5,226.6L773.0,226.5L773.5,226.4L774.0,226.4L774.5,226.3L775.0,226.2L775.5,226.1L776.0,225.9L776.5,225.8L777.0,225.7L777.5,225.6L778.0,225.5L778.5,225.4L779.0,225.3L779.5,225.1L780.0,225.0L780.5,224.9L781.0,224.7L781.5,224.6L782.0,224.4L782.5,224.3L783.0,224.1L783.5,224.0L784.0,223.8L784.5,223.6L785.0,223.5L785.5,223.3L786.0,223.1L786.5,222.9L787.0,222.7L787.5,222.5L788.0,222.3L788.5,222.1L789.0,221.9L789.5,221.6L790.0,221.4L790.5,221.2L791.0,220.9L791.5,220.7L792.0,220.4L792.5,220.1L793.0,219.8L793.5,219.5L794.0,219.2L794.5,218.9L795.0,218.5L795.5,218.2L796.0,217.8L796.5,217.4L797.0,217.0L797.5,216.6L798.0,216.2L798.5,215.7L799.0,215.3L799.5,214.8L800.0,214.3L800.5,213.7L801.0,213.2L801.5,212.6L802.0,212.0L802.5,211.3L803.0,210.6L803.5,209.9L804.0,209.2L804.5,208.4L805.0,207.5L805.5,206.7L806.0,205.7L806.5,204.7L807.0,203.7L807.5,202.6L808.0,201.5L808.5,200.3L809.0,199.0L809.5,197.6L810.0,196.2L810.5,194.7L811.0,193.1L811.5,191.4L812.0,189.7L812.5,187.8L813.0,185.9L813.5,183.8L814.0,181.7L814.5,179.4L815.0,177.0L815.5,174.5L816.0,171.9L816.5,169.1L817.0,166.3L817.5,163.3L818.0,160.1L818.5,156.9L819.0,153.5L819.5,150.0L820.0,146.3L820.5,142.6L821.0,138.7L821.5,134.8L822.0,130.7L822.5,126.6L823.0,122.4L823.5,118.2L824.0,114.0L824.5,109.7L825.0,105.6L825.5,101.5L826.0,97.6L826.5,93.8L827.0,90.3L827.5,87.0L828.0,84.1L828.5,81.5L829.0,79.3L829.5,77.5L830.0,76.2L830.5,75.5L831.0,75.2L831.5,75.4L832.0,76.2L832.5,77.4L833.0,79.2L833.5,81.3L834.0,83.9L834.5,86.8L835.0,90.1L835.5,93.6L836.0,97.3L836.5,101.2L837.0,105.3L837.5,109.4L838.0,113.6L838.5,117.8L839.0,122.0L839.5,126.1L840.0,130.2L840.5,134.2L841.0,138.2L841.5,142.0L842.0,145.7L842.5,149.3L843.0,152.8L843.5,156.2L844.0,159.4L844.5,162.5L845.0,165.5L845.5,168.3L846.0,171.0L846.5,173.6L847.0,176.1L847.5,178.5L848.0,180.7L848.5,182.9L849.0,184.9L849.5,186.8L850.0,188.6L850.5,190.4L851.0,192.0L851.5,193.6L852.0,195.1L852.5,196.5L853.0,197.8L853.5,199.0L854.0,200.2L854.5,201.3L855.0,202.4L855.5,203.4L856.0,204.4L856.5,205.3L857.0,206.1L857.5,206.9L858.0,207.7L858.5,208.4L859.0,209.1L859.5,209.8L860.0,210.4L860.5,211.0L861.0,211.6L861.5,212.1L862.0,212.6L862.5,213.1L863.0,213.6L863.5,214.0L864.0,214.4L864.5,214.8L865.0,215.2L865.5,215.6L866.0,216.0L866.5,216.3L867.0,216.6L867.5,216.9L868.0,217.2L868.5,217.5L869.0,217.8L869.5,218.1L870.0,218.3L870.5,218.6L871.0,218.8L871.5,219.1L872.0,219.3L872.5,219.5L873.0,219.7L873.5,219.9L874.0,220.1L874.5,220.3L875.0,220.5L875.5,220.6L876.0,220.8L876.5,221.0L877.0,221.1L877.5,221.3L878.0,221.4L878.5,221.6L879.0,221.7L879.5,221.8L880.0,222.0L880.5,222.1L881.0,222.2L881.5,222.3L882.0,222.5L882.5,222.6L883.0,222.7L883.5,222.8L884.0,222.9L884.5,223.0L885.0,223.1L885.5,223.2L886.0,223.3L886.5,223.4L887.0,223.4L887.5,223.5L888.0,223.6L888.5,223.7L889.0,223.8L889.5,223.8L890.0,223.9L890.5,224.0L891.0,224.1L891.5,224.1L892.0,224.2L892.5,224.3L893.0,224.3L893.5,224.4L894.0,224.4L894.5,224.5L895.0,224.5L895.5,224.6L896.0,224.7L896.5,224.7L897.0,224.8L897.5,224.8L898.0,224.9L898.5,224.9L899.0,225.0L899.5,225.0L900.0,225.0L900.5,225.1L901.0,225.1L901.5,225.2L902.0,225.2L902.5,225.3L903.0,225.3L903.5,225.3L904.0,225.4L904.5,225.4L905.0,225.4L905.5,225.5L906.0,225.5L906.5,225.5L907.0,225.6L907.5,225.6L908.0,225.6L908.5,225.7L909.0,225.7L909.5,225.7L910.0,225.8L910.5,225.8L911.0,225.8L911.5,225.8L912.0,225.9L912.5,225.9L913.0,225.9L913.5,226.0L914.0,226.0L914.5,226.0L915.0,226.0L915.5,226.1L916.0,226.1L916.5,226.1L917.0,226.1L917.5,226.1L918.0,226.2L918.5,226.2L919.0,226.2L919.5,226.2L920.0,226.2L920.5,226.3L921.0,226.3L921.5,226.3L922.0,226.3L922.5,226.3L923.0,226.4L923.5,226.4L924.0,226.4L924.5,226.4L925.0,226.4L925.5,226.5L926.0,226.5L926.5,226.5L927.0,226.5L927.5,226.5L928.0,226.5L928.5,226.6L929.0,226.6L929.5,226.6L930.0,226.6L930.5,226.6L931.0,226.6L931.5,226.6L932.0,226.7L932.5,226.7L933.0,226.7L933.5,226.7L934.0,226.7L934.5,226.7L935.0,226.7L935.5,226.8L936.0,226.8L936.5,226.8L937.0,226.8L937.5,226.8L938.0,226.8L938.5,226.8L939.0,226.8L939.5,226.8L940.0,226.9L940.5,226.9L941.0,226.9L941.5,226.9L942.0,226.9L942.5,226.9L943.0,226.9L943.5,226.9L944.0,226.9L944.5,227.0L945.0,227.0L945.5,227.0L946.0,227.0L946.5,227.0L947.0,227.0L947.5,227.0L948.0,227.0L948.5,227.0L949.0,227.0L949.5,227.1L950.0,227.1L950.5,227.1L951.0,227.1L951.5,227.1L952.0,227.1L952.5,227.1L953.0,227.1L953.5,227.1L954.0,227.1L954.5,227.1L955.0,227.2L955.5,227.2L956.0,227.2L956.5,227.2L957.0,227.2L957.5,227.2L958.0,227.2L958.5,227.2L959.0,227.2L959.5,227.2L960.0,227.2L960.5,227.2L961.0,227.2L961.5,227.3L962.0,227.3L962.5,227.3L963.0,227.3L963.5,227.3L964.0,227.3L964.5,227.3L965.0,227.3L965.5,227.3L966.0,227.3L966.5,227.3L967.0,227.3L967.5,227.3L968.0,227.3L968.5,227.3L969.0,227.4L969.5,227.4L970.0,227.4L970.5,227.4L971.0,227.4L971.5,227.4L972.0,227.4L972.5,227.4L973.0,227.4L973.5,227.4L974.0,227.4L974.5,227.4L975.0,227.4L975.5,227.4L976.0,227.4L976.5,227.4L977.0,227.4L977.5,227.5L978.0,227.5L978.5,227.5L979.0,227.5L979.5,227.5L980.0,227.5L980.5,227.5L981.0,227.5L981.5,227.5L982.0,227.5L982.5,227.5L983.0,227.5L983.5,227.5L984.0,227.5L984.5,227.5L985.0,227.5L985.5,227.5L986.0,227.5L986.5,227.5L987.0,227.5L987.5,227.5L988.0,227.6L988.5,227.6L989.0,227.6L989.5,227.6L990.0,227.6L990.5,227.6L991.0,227.6L991.5,227.6L992.0,227.6L992.5,227.6L993.0,227.6L993.5,227.6L994.0,227.6L994.5,227.6L995.0,227.6L995.5,227.6L996.0,227.6L996.5,227.6L997.0,227.6L997.5,227.6L998.0,227.6L998.5,227.6L999.0,227.6L999.5,227.6L1000.0,227.6L1000.5,227.7L1001.0,227.7L1001.5,227.7L1002.0,227.7L1002.5,227.7" fill="none" stroke="#ff00ff" stroke-width="1.4" stroke-linejoin="round" />
<path d="M748.0,230.9L748.5,230.8L749.0,230.8L749.5,230.8L750.0,230.8L750.5,230.8L751.0,230.8L751.5,230.8L752.0,230.8L752.5,230.8L753.0,230.7L753.5,230.7L754.0,230.7L754.5,230.7L755.0,230.7L755.5,230.7L756.0,230.7L756.5,230.7L757.0,230.6L757.5,230.6L758.0,230.6L758.5,230.6L759.0,230.6L759.5,230.6L760.0,230.6L760.5,230.5L761.0,230.5L761.5,230.5L762.0,230.5L762.5,230.5L763.0,230.5L763.5,230.5L764.0,230.4L764.5,230.4L765.0,230.4L765.5,230.4L766.0,230.4L766.5,230.4L767.0,230.3L767.5,230.3L768.0,230.3L768.5,230.3L769.0,230.3L769.5,230.2L770.0,230.2L770.5,230.2L771.0,230.2L771.5,230.2L772.0,230.1L772.5,230.1L773.0,230.1L773.5,230.1L774.0,230.1L774.5,230.0L775.0,230.0L775.5,230.0L776.0,230.0L776.5,229.9L777.0,229.9L777.5,229.9L778.0,229.9L778.5,229.8L779.0,229.8L779.5,229.8L780.0,229.8L780.5,229.7L781.0,229.7L781.5,229.7L782.0,229.6L782.5,229.6L783.0,229.6L783.5,229.6L784.0,229.5L784.5,229.5L785.0,229.5L785.5,229.4L786.0,229.4L786.5,229.4L787.0,229.3L787.5,229.3L788.0,229.3L788.5,229.2L789.0,229.2L789.5,229.2L790.0,229.1L790.5,229.1L791.0,229.0L791.5,229.0L792.0,229.0L792.5,228.9L793.0,228.9L793.5,228.8L794.0,228.8L794.5,228.7L795.0,228.7L795.5,228.6L796.0,228.6L796.5,228.5L797.0,228.5L797.5,228.4L798.0,228.4L798.5,228.3L799.0,228.3L799.5,228.2L800.0,228.2L800.5,228.1L801.0,228.1L801.5,228.0L802.0,227.9L802.5,227.9L803.0,227.8L803.5,227.8L804.0,227.7L804.5,227.6L805.0,227.6L805.5,227.5L806.0,227.4L806.5,227.3L807.0,227.3L807.5,227.2L808.0,227.1L808.5,227.0L809.0,226.9L809.5,226.9L810.0,226.8L810.5,226.7L811.0,226.6L811.5,226.5L812.0,226.4L812.5,226.3L813.0,226.2L813.5,226.1L814.0,226.0L814.5,225.9L815.0,225.8L815.5,225.7L816.0,225.6L816.5,225.4L817.0,225.3L817.5,225.2L818.0,225.1L818.5,224.9L819.0,224.8L819.5,224.6L820.0,224.5L820.5,224.4L821.0,224.2L821.5,224.1L822.0,223.9L822.5,223.7L823.0,223.6L823.5,223.4L824.0,223.2L824.5,223.0L825.0,222.8L825.5,222.6L826.0,222.4L826.5,222.2L827.0,222.0L827.5,221.8L828.0,221.6L828.5,221.3L829.0,221.1L829.5,220.8L830.0,220.6L830.5,220.3L831.0,220.0L831.5,219.7L832.0,219.4L832.5,219.1L833.0,218.8L833.5,218.5L834.0,218.1L834.5,217.7L835.0,217.4L835.5,217.0L836.0,216.6L836.5,216.2L837.0,215.7L837.5,215.3L838.0,214.8L838.5,214.3L839.0,213.7L839.5,213.2L840.0,212.6L840.5,212.0L841.0,211.4L841.5,210.7L842.0,210.0L842.5,209.3L843.0,208.5L843.5,207.7L844.0,206.8L844.5,205.9L845.0,205.0L845.5,204.0L846.0,202.9L846.5,201.8L847.0,200.5L847.5,199.3L848.0,197.9L848.5,196.5L849.0,194.9L849.5,193.3L850.0,191.6L850.5,189.8L851.0,187.8L851.5,185.8L852.0,183.6L852.5,181.3L853.0,178.8L853.5,176.2L854.0,173.5L854.5,170.6L855.0,167.5L855.5,164.3L856.0,160.9L856.5,157.3L857.0,153.5L857.5,149.5L858.0,145.4L858.5,141.1L859.0,136.6L859.5,131.9L860.0,127.0L860.5,122.0L861.0,116.9L861.5,111.6L862.0,106.2L862.5,100.7L863.0,95.3L863.5,89.8L864.0,84.4L864.5,79.1L865.0,74.1L865.5,69.3L866.0,64.8L866.5,60.7L867.0,57.2L867.5,54.2L868.0,51.8L868.5,50.1L869.0,49.1L869.5,48.9L870.0,49.4L870.5,50.6L871.0,52.5L871.5,55.1L872.0,58.3L872.5,62.1L873.0,66.3L873.5,70.8L874.0,75.7L874.5,80.9L875.0,86.1L875.5,91.5L876.0,97.0L876.5,102.4L877.0,107.8L877.5,113.1L878.0,118.3L878.5,123.4L879.0,128.3L879.5,133.1L880.0,137.6L880.5,142.0L881.0,146.3L881.5,150.3L882.0,154.1L882.5,157.8L883.0,161.3L883.5,164.6L884.0,167.7L884.5,170.7L885.0,173.5L885.5,176.1L886.0,178.6L886.5,181.0L887.0,183.2L887.5,185.3L888.0,187.3L888.5,189.2L889.0,190.9L889.5,192.6L890.0,194.1L890.5,195.6L891.0,197.0L891.5,198.3L892.0,199.5L892.5,200.6L893.0,201.7L893.5,202.7L894.0,203.7L894.5,204.6L895.0,205.5L895.5,206.3L896.0,207.0L896.5,207.8L897.0,208.5L897.5,209.1L898.0,209.7L898.5,210.3L899.0,210.9L899.5,211.4L900.0,211.9L900.5,212.4L901.0,212.9L901.5,213.3L902.0,213.8L902.5,214.2L903.0,214.6L903.5,214.9L904.0,215.3L904.5,215.6L905.0,216.0L905.5,216.3L906.0,216.6L906.5,216.9L907.0,217.2L907.5,217.4L908.0,217.7L908.5,218.0L909.0,218.2L909.5,218.4L910.0,218.7L910.5,218.9L911.0,219.1L911.5,219.3L912.0,219.5L912.5,219.7L913.0,219.9L913.5,220.1L914.0,220.2L914.5,220.4L915.0,220.6L915.5,220.7L916.0,220.9L916.5,221.0L917.0,221.2L917.5,221.3L918.0,221.5L918.5,221.6L919.0,221.7L919.5,221.9L920.0,222.0L920.5,222.1L921.0,222.2L921.5,222.3L922.0,222.4L922.5,222.5L923.0,222.6L923.5,222.7L924.0,222.8L924.5,222.9L925.0,223.0L925.5,223.1L926.0,223.2L926.5,223.3L927.0,223.4L927.5,223.4L928.0,223.5L928.5,223.6L929.0,223.7L929.5,223.8L930.0,223.8L930.5,223.9L931.0,224.0L931.5,224.0L932.0,224.1L932.5,224.2L933.0,224.2L933.5,224.3L934.0,224.3L934.5,224.4L935.0,224.5L935.5,224.5L936.0,224.6L936.5,224.6L937.0,224.7L937.5,224.7L938.0,224.8L938.5,224.8L939.0,224.9L939.5,224.9L940.0,225.0L940.5,225.0L941.0,225.1L941.5,225.1L942.0,225.1L942.5,225.2L943.0,225.2L943.5,225.3L944.0,225.3L944.5,225.3L945.0,225.4L945.5,225.4L946.0,225.4L946.5,225.5L947.0,225.5L947.5,225.6L948.0,225.6L948.5,225.6L949.0,225.6L949.5,225.7L950.0,225.7L950.5,225.7L951.0,225.8L951.5,225.8L952.0,225.8L952.5,225.9L953.0,225.9L953.5,225.9L954.0,225.9L954.5,226.0L955.0,226.0L955.5,226.0L956.0,226.0L956.5,226.1L957.0,226.1L957.5,226.1L958.0,226.1L958.5,226.2L959.0,226.2L959.5,226.2L960.0,226.2L960.5,226.3L961.0,226.3L961.5,226.3L962.0,226.3L962.5,226.3L963.0,226.4L963.5,226.4L964.0,226.4L964.5,226.4L965.0,226.4L965.5,226.5L966.0,226.5L966.5,226.5L967.0,226.5L967.5,226.5L968.0,226.5L968.5,226.6L969.0,226.6L969.5,226.6L970.0,226.6L970.5,226.6L971.0,226.6L971.5,226.7L972.0,226.7L972.5,226.7L973.0,226.7L973.5,226.7L974.0,226.7L974.5,226.7L975.0,226.8L975.5,226.8L976.0,226.8L976.5,226.8L977.0,226.8L977.5,226.8L978.0,226.8L978.5,226.9L979.0,226.9L979.5,226.9L980.0,226.9L980.5,226.9L981.0,226.9L981.5,226.9L982.0,226.9L982.5,227.0L983.0,227.0L983.5,227.0L984.0,227.0L984.5,227.0L985.0,227.0L985.5,227.0L986.0,227.0L986.5,227.0L987.0,227.0L987.5,227.1L988.0,227.1L988.5,227.1L989.0,227.1L989.5,227.1L990.0,227.1L990.5,227.1L991.0,227.1L991.5,227.1L992.0,227.1L992.5,227.2L993.0,227.2L993.5,227.2L994.0,227.2L994.5,227.2L995.0,227.2L995.5,227.2L996.0,227.2L996.5,227.2L997.0,227.2L997.5,227.2L998.0,227.2L998.5,227.3L999.0,227.3L999.5,227.3L1000.0,227.3L1000.5,227.3L1001.0,227.3L1001.5,227.3L1002.0,227.3L1002.5,227.3" fill="none" stroke="#0000ff" stroke-width="1.4" stroke-linejoin="round" />
<path d="M748.0,228.1L748.5,228.1L749.0,228.1L749.5,228.0L750.0,228.0L750.5,227.9L751.0,227.9L751.5,227.8L752.0,227.8L752.5,227.7L753.0,227.7L753.5,227.6L754.0,227.6L754.5,227.5L755.0,227.5L755.5,227.4L756.0,227.4L756.5,227.3L757.0,227.2L757.5,227.2L758.0,227.1L758.5,227.1L759.0,227.0L759.5,226.9L760.0,226.9L760.5,226.8L761.0,226.7L761.5,226.7L762.0,226.6L762.5,226.5L763.0,226.5L763.5,226.4L764.0,226.3L764.5,226.2L765.0,226.2L765.5,226.1L766.0,226.0L766.5,225.9L767.0,225.8L767.5,225.7L768.0,225.6L768.5,225.6L769.0,225.5L769.5,225.4L770.0,225.3L770.5,225.2L771.0,225.1L771.5,225.0L772.0,224.9L772.5,224.8L773.0,224.6L773.5,224.5L774.0,224.4L774.5,224.3L775.0,224.2L775.5,224.1L776.0,223.9L776.5,223.8L777.0,223.7L777.5,223.5L778.0,223.4L778.5,223.2L779.0,223.1L779.5,222.9L780.0,222.8L780.5,222.6L781.0,222.5L781.5,222.3L782.0,222.1L782.5,222.0L783.0,221.8L783.5,221.6L784.0,221.4L784.5,221.2L785.0,221.0L785.5,220.8L786.0,220.6L786.5,220.4L787.0,220.1L787.5,219.9L788.0,219.7L788.5,219.4L789.0,219.2L789.5,218.9L790.0,218.6L790.5,218.3L791.0,218.1L791.5,217.8L792.0,217.5L792.5,217.1L793.0,216.8L793.5,216.5L794.0,216.1L794.5,215.7L795.0,215.4L795.5,215.0L796.0,214.6L796.5,214.1L797.0,213.7L797.5,213.2L798.0,212.8L798.5,212.3L799.0,211.8L799.5,211.2L800.0,210.7L800.5,210.1L801.0,209.4L801.5,208.8L802.0,208.1L802.5,207.4L803.0,206.7L803.5,205.9L804.0,205.1L804.5,204.2L805.0,203.3L805.5,202.4L806.0,201.4L806.5,200.4L807.0,199.3L807.5,198.1L808.0,196.9L808.5,195.6L809.0,194.2L809.5,192.8L810.0,191.3L810.5,189.7L811.0,188.1L811.5,186.3L812.0,184.5L812.5,182.5L813.0,180.5L813.5,178.3L814.0,176.1L814.5,173.7L815.0,171.2L815.5,168.6L816.0,165.9L816.5,163.0L817.0,160.0L817.5,156.9L818.0,153.7L818.5,150.3L819.0,146.8L819.5,143.1L820.0,139.4L820.5,135.5L821.0,131.5L821.5,127.4L822.0,123.2L822.5,118.9L823.0,114.5L823.5,110.2L824.0,105.8L824.5,101.4L825.0,97.0L825.5,92.8L826.0,88.7L826.5,84.7L827.0,81.0L827.5,77.5L828.0,74.3L828.5,71.5L829.0,69.1L829.5,67.1L830.0,65.5L830.5,64.5L831.0,64.0L831.5,63.9L832.0,64.4L832.5,65.4L833.0,66.8L833.5,68.6L834.0,70.9L834.5,73.4L835.0,76.3L835.5,79.5L836.0,82.8L836.5,86.3L837.0,89.9L837.5,93.6L838.0,97.3L838.5,101.0L839.0,104.7L839.5,108.3L840.0,111.9L840.5,115.3L841.0,118.6L841.5,121.8L842.0,124.9L842.5,127.7L843.0,130.5L843.5,133.0L844.0,135.4L844.5,137.6L845.0,139.6L845.5,141.5L846.0,143.2L846.5,144.6L847.0,145.9L847.5,147.0L848.0,147.9L848.5,148.6L849.0,149.1L849.5,149.5L850.0,149.6L850.5,149.5L851.0,149.2L851.5,148.7L852.0,148.1L852.5,147.2L853.0,146.0L853.5,144.7L854.0,143.2L854.5,141.4L855.0,139.4L855.5,137.2L856.0,134.8L856.5,132.1L857.0,129.2L857.5,126.1L858.0,122.7L858.5,119.1L859.0,115.3L859.5,111.3L860.0,107.0L860.5,102.6L861.0,98.0L861.5,93.2L862.0,88.2L862.5,83.2L863.0,78.1L863.5,72.9L864.0,67.8L864.5,62.7L865.0,57.8L865.5,53.1L866.0,48.7L866.5,44.8L867.0,41.3L867.5,38.4L868.0,36.1L868.5,34.5L869.0,33.7L869.5,33.7L870.0,34.5L870.5,36.1L871.0,38.4L871.5,41.3L872.0,44.9L872.5,49.0L873.0,53.5L873.5,58.3L874.0,63.3L874.5,68.5L875.0,73.7L875.5,78.9L876.0,84.0L876.5,88.9L877.0,93.6L877.5,98.2L878.0,102.5L878.5,106.5L879.0,110.3L879.5,113.8L880.0,117.1L880.5,120.3L881.0,123.3L881.5,126.2L882.0,129.1L882.5,131.9L883.0,134.8L883.5,137.8L884.0,140.9L884.5,144.1L885.0,147.4L885.5,150.8L886.0,154.2L886.5,157.7L887.0,161.2L887.5,164.6L888.0,168.0L888.5,171.2L889.0,174.2L889.5,177.1L890.0,179.8L890.5,182.2L891.0,184.4L891.5,186.4L892.0,188.2L892.5,189.7L893.0,191.1L893.5,192.2L894.0,193.2L894.5,194.0L895.0,194.7L895.5,195.3L896.0,195.8L896.5,196.2L897.0,196.5L897.5,196.8L898.0,197.0L898.5,197.3L899.0,197.5L899.5,197.7L900.0,198.0L900.5,198.3L901.0,198.6L901.5,199.0L902.0,199.4L902.5,199.9L903.0,200.5L903.5,201.1L904.0,201.8L904.5,202.5L905.0,203.3L905.5,204.1L906.0,204.9L906.5,205.7L907.0,206.6L907.5,207.4L908.0,208.2L908.5,209.0L909.0,209.8L909.5,210.6L910.0,211.3L910.5,212.0L911.0,212.7L911.5,213.3L912.0,213.9L912.5,214.4L913.0,214.9L913.5,215.4L914.0,215.8L914.5,216.3L915.0,216.6L915.5,217.0L916.0,217.3L916.5,217.6L917.0,217.9L917.5,218.1L918.0,218.4L918.5,218.6L919.0,218.8L919.5,219.0L920.0,219.2L920.5,219.4L921.0,219.6L921.5,219.7L922.0,219.9L922.5,220.0L923.0,220.2L923.5,220.3L924.0,220.4L924.5,220.6L925.0,220.7L925.5,220.8L926.0,220.9L926.5,221.0L927.0,221.1L927.5,221.3L928.0,221.4L928.5,221.5L929.0,221.6L929.5,221.7L930.0,221.8L930.5,221.9L931.0,221.9L931.5,222.0L932.0,222.1L932.5,222.2L933.0,222.3L933.5,222.4L934.0,222.5L934.5,222.5L935.0,222.6L935.5,222.7L936.0,222.8L936.5,222.8L937.0,222.9L937.5,223.0L938.0,223.0L938.5,223.1L939.0,223.2L939.5,223.2L940.0,223.3L940.5,223.4L941.0,223.4L941.5,223.5L942.0,223.5L942.5,223.6L943.0,223.6L943.5,223.7L944.0,223.7L944.5,223.8L945.0,223.9L945.5,223.9L946.0,224.0L946.5,224.0L947.0,224.1L947.5,224.1L948.0,224.1L948.5,224.2L949.0,224.2L949.5,224.3L950.0,224.3L950.5,224.4L951.0,224.4L951.5,224.4L952.0,224.5L952.5,224.5L953.0,224.6L953.5,224.6L954.0,224.6L954.5,224.7L955.0,224.7L955.5,224.8L956.0,224.8L956.5,224.8L957.0,224.9L957.5,224.9L958.0,224.9L958.5,225.0L959.0,225.0L959.5,225.0L960.0,225.1L960.5,225.1L961.0,225.1L961.5,225.1L962.0,225.2L962.5,225.2L963.0,225.2L963.5,225.3L964.0,225.3L964.5,225.3L965.0,225.3L965.5,225.4L966.0,225.4L966.5,225.4L967.0,225.5L967.5,225.5L968.0,225.5L968.5,225.5L969.0,225.6L969.5,225.6L970.0,225.6L970.5,225.6L971.0,225.6L971.5,225.7L972.0,225.7L972.5,225.7L973.0,225.7L973.5,225.8L974.0,225.8L974.5,225.8L975.0,225.8L975.5,225.8L976.0,225.9L976.5,225.9L977.0,225.9L977.5,225.9L978.0,225.9L978.5,226.0L979.0,226.0L979.5,226.0L980.0,226.0L980.5,226.0L981.0,226.1L981.5,226.1L982.0,226.1L982.5,226.1L983.0,226.1L983.5,226.1L984.0,226.2L984.5,226.2L985.0,226.2L985.5,226.2L986.0,226.2L986.5,226.2L987.0,226.2L987.5,226.3L988.0,226.3L988.5,226.3L989.0,226.3L989.5,226.3L990.0,226.3L990.5,226.4L991.0,226.4L991.5,226.4L992.0,226.4L992.5,226.4L993.0,226.4L993.5,226.4L994.0,226.5L994.5,226.5L995.0,226.5L995.5,226.5L996.0,226.5L996.5,226.5L997.0,226.5L997.5,226.5L998.0,226.6L998.5,226.6L999.0,226.6L999.5,226.6L1000.0,226.6L1000.5,226.6L1001.0,226.6L1001.5,226.6L1002.0,226.6L1002.5,226.7" fill="none" stroke="#111" stroke-width="1.5" stroke-linejoin="round" />
<rect x="886.20" y="9.80" width="124.40" height="75.20" fill="#fff" stroke="#444" stroke-width="1.0"/>
<text x="890.30" y="25.50" font-size="15.3" textLength="8.80" lengthAdjust="spacingAndGlyphs" stroke="#000" stroke-width="0.25">a.</text>
<text x="903.20" y="25.50" font-size="15.3" textLength="24.00" lengthAdjust="spacingAndGlyphs" stroke="#000" stroke-width="0.25">C-C/</text>
<text x="930.90" y="25.50" font-size="15.3" textLength="25.00" lengthAdjust="spacingAndGlyphs" stroke="#000" stroke-width="0.25">C=C</text>
<text x="962.00" y="25.50" font-size="15.3" textLength="43.10" lengthAdjust="spacing" stroke="#000" stroke-width="0.25">284.6eV</text>
<text x="890.30" y="44.00" font-size="15.3" textLength="9.10" lengthAdjust="spacingAndGlyphs" stroke="#000" stroke-width="0.25">b.</text>
<text x="903.90" y="44.00" font-size="15.3" textLength="21.20" lengthAdjust="spacingAndGlyphs" stroke="#000" stroke-width="0.25">C-O</text>
<text x="932.60" y="44.00" font-size="15.3" textLength="43.80" lengthAdjust="spacing" stroke="#000" stroke-width="0.25">286.7eV</text>
<text x="890.30" y="62.40" font-size="15.3" textLength="8.50" lengthAdjust="spacingAndGlyphs" stroke="#000" stroke-width="0.25">c.</text>
<text x="903.20" y="62.40" font-size="15.3" textLength="24.70" lengthAdjust="spacingAndGlyphs" stroke="#000" stroke-width="0.25">C=O</text>
<text x="934.00" y="62.40" font-size="15.3" textLength="44.40" lengthAdjust="spacing" stroke="#000" stroke-width="0.25">287.5eV</text>
<text x="890.30" y="80.90" font-size="15.3" textLength="9.10" lengthAdjust="spacingAndGlyphs" stroke="#000" stroke-width="0.25">d.</text>
<text x="903.90" y="80.90" font-size="15.3" textLength="39.00" lengthAdjust="spacingAndGlyphs" stroke="#000" stroke-width="0.25">O-C=O</text>
<text x="949.00" y="80.90" font-size="15.3" textLength="43.80" lengthAdjust="spacing" stroke="#000" stroke-width="0.25">288.5eV</text>
<text x="816.60" y="44.20" font-size="15" font-weight="bold" stroke="#000" stroke-width="0.35">a</text>
<path d="M823.60,48.90L827.53,56.20" stroke="#222" stroke-width="0.8"/>
<path d="M829.90,60.60L825.77,57.15L829.29,55.25Z" fill="#111"/>
<text x="870.60" y="20.70" font-size="15" font-weight="bold" stroke="#000" stroke-width="0.35">b</text>
<path d="M874.50,24.60L872.43,31.51" stroke="#222" stroke-width="0.8"/>
<path d="M871.00,36.30L870.52,30.94L874.35,32.08Z" fill="#111"/>
<text x="900.30" y="183.20" font-size="15" font-weight="bold" stroke="#000" stroke-width="0.35">c</text>
<path d="M899.60,184.60L891.19,201.90" stroke="#222" stroke-width="0.8"/>
<path d="M889.00,206.40L889.39,201.03L892.99,202.78Z" fill="#111"/>
<text x="922.20" y="201.50" font-size="15" font-weight="bold" stroke="#000" stroke-width="0.35">d</text>
<path d="M924.30,205.70L913.19,215.83" stroke="#222" stroke-width="0.8"/>
<path d="M909.50,219.20L911.85,214.35L914.54,217.31Z" fill="#111"/>
<rect x="222.60" y="332.30" width="289.40" height="244.70" fill="none" stroke="#111" stroke-width="1.3"/>
<path d="M251.60,577.00V581.50M309.48,577.00V581.50M367.36,577.00V581.50M425.24,577.00V581.50M483.12,577.00V581.50M222.66,577.00V579.50M280.54,577.00V579.50M338.42,577.00V579.50M396.30,577.00V579.50M454.18,577.00V579.50M512.06,577.00V579.50" stroke="#111" stroke-width="1.2" fill="none"/>
<text x="251.60" y="599.90" font-size="19" font-weight="bold" text-anchor="middle" textLength="16.60" lengthAdjust="spacing" >68</text>
<text x="309.48" y="599.90" font-size="19" font-weight="bold" text-anchor="middle" textLength="16.60" lengthAdjust="spacing" >72</text>
<text x="367.36" y="599.90" font-size="19" font-weight="bold" text-anchor="middle" textLength="16.60" lengthAdjust="spacing" >76</text>
<text x="425.24" y="599.90" font-size="19" font-weight="bold" text-anchor="middle" textLength="16.60" lengthAdjust="spacing" >80</text>
<text x="483.12" y="599.90" font-size="19" font-weight="bold" text-anchor="middle" textLength="16.60" lengthAdjust="spacing" >84</text>
<text x="299.90" y="620.30" font-size="19.5" font-weight="bold" textLength="52.62" lengthAdjust="spacing">Binding</text>
<text x="356.07" y="620.30" font-size="19.5" font-weight="bold" textLength="45.27" lengthAdjust="spacing">energy</text>
<text x="404.21" y="620.30" font-size="19.5" font-weight="bold" textLength="32.49" lengthAdjust="spacing">(eV)</text>
<text x="203.10" y="460.45" font-size="21.8" text-anchor="middle" textLength="112.90" lengthAdjust="spacing" transform="rotate(-90 203.10 460.45)" stroke="#000" stroke-width="0.3">Intensity (a.u.)</text>
<text x="227.90" y="351.30" font-size="19.5" font-weight="bold" textLength="19.50" lengthAdjust="spacing">(c)</text>
<text x="249.50" y="351.30" font-size="19.5" font-weight="bold" textLength="31.90" lengthAdjust="spacing">XPS</text>
<text x="284.10" y="351.30" font-size="19.5" font-weight="bold" textLength="31.30" lengthAdjust="spacing">Pt<tspan font-style="italic">4f</tspan></text>
<path d="M233.5,555.7L234.0,556.3L234.5,555.9L235.0,554.5L235.5,554.1L236.0,554.6L236.5,553.9L237.0,554.2L237.5,556.0L238.0,555.8L238.5,552.7L239.0,552.6L239.5,554.3L240.0,556.3L240.5,556.8L241.0,556.7L241.5,555.1L242.0,555.8L242.5,555.1L243.0,551.3L243.5,552.6L244.0,553.6L244.5,554.5L245.0,555.9L245.5,554.8L246.0,554.2L246.5,552.1L247.0,554.1L247.5,555.4L248.0,555.7L248.5,553.6L249.0,553.3L249.5,554.0L250.0,552.6L250.5,554.1L251.0,552.6L251.5,553.7L252.0,553.4L252.5,553.8L253.0,552.9L253.5,553.7L254.0,554.1L254.5,554.1L255.0,553.3L255.5,552.6L256.0,552.0L256.5,552.4L257.0,553.4L257.5,555.2L258.0,555.5L258.5,555.6L259.0,553.9L259.5,552.1L260.0,551.3L260.5,552.9L261.0,554.2L261.5,553.8L262.0,552.7L262.5,552.1L263.0,551.9L263.5,551.6L264.0,551.2L264.5,551.4L265.0,552.0L265.5,552.0L266.0,551.7L266.5,551.4L267.0,551.3L267.5,550.4L268.0,549.0L268.5,548.6L269.0,549.2L269.5,549.9L270.0,550.0L270.5,549.7L271.0,549.5L271.5,549.5L272.0,548.8L272.5,547.3L273.0,546.5L273.5,546.8L274.0,546.7L274.5,546.1L275.0,545.1L275.5,543.9L276.0,543.8L276.5,544.8L277.0,545.2L277.5,544.5L278.0,543.2L278.5,542.0L279.0,540.9L279.5,540.0L280.0,538.9L280.5,538.2L281.0,538.0L281.5,537.0L282.0,535.0L282.5,534.0L283.0,532.8L283.5,530.8L284.0,529.3L284.5,527.5L285.0,525.1L285.5,522.5L286.0,520.7L286.5,520.0L287.0,518.2L287.5,514.1L288.0,509.1L288.5,504.4L289.0,499.6L289.5,494.1L290.0,488.8L290.5,483.0L291.0,475.6L291.5,467.5L292.0,460.2L292.5,452.8L293.0,444.5L293.5,435.8L294.0,426.7L294.5,416.4L295.0,406.1L295.5,397.3L296.0,389.1L296.5,381.2L297.0,375.3L297.5,370.5L298.0,366.7L298.5,365.8L299.0,367.5L299.5,370.3L300.0,374.9L300.5,381.3L301.0,387.7L301.5,394.3L302.0,401.1L302.5,407.9L303.0,414.6L303.5,421.1L304.0,427.4L304.5,433.2L305.0,438.1L305.5,442.1L306.0,445.1L306.5,447.0L307.0,448.4L307.5,449.7L308.0,450.4L308.5,451.8L309.0,453.5L309.5,455.1L310.0,456.9L310.5,457.8L311.0,458.9L311.5,461.2L312.0,464.1L312.5,467.4L313.0,470.9L313.5,474.2L314.0,477.0L314.5,479.7L315.0,482.5L315.5,485.6L316.0,488.0L316.5,490.9L317.0,494.4L317.5,496.7L318.0,498.7L318.5,501.2L319.0,503.9L319.5,505.2L320.0,506.6L320.5,509.5L321.0,513.1L321.5,513.6L322.0,513.1L322.5,514.7L323.0,516.0L323.5,514.9L324.0,516.5L324.5,515.8L325.0,516.7L325.5,517.1L326.0,517.6L326.5,516.7L327.0,516.3L327.5,516.5L328.0,516.0L328.5,515.8L329.0,517.6L329.5,516.2L330.0,513.7L330.5,514.3L331.0,512.7L331.5,512.4L332.0,510.4L332.5,508.8L333.0,507.6L333.5,506.4L334.0,505.1L334.5,503.7L335.0,501.6L335.5,498.2L336.0,494.6L336.5,492.0L337.0,489.3L337.5,486.1L338.0,482.6L338.5,478.9L339.0,474.3L339.5,469.1L340.0,463.6L340.5,458.1L341.0,453.4L341.5,448.2L342.0,442.6L342.5,437.6L343.0,432.7L343.5,427.6L344.0,422.7L344.5,418.6L345.0,414.5L345.5,410.5L346.0,407.0L346.5,404.5L347.0,403.3L347.5,403.0L348.0,402.8L348.5,403.5L349.0,406.1L349.5,409.0L350.0,411.6L350.5,414.6L351.0,417.5L351.5,420.4L352.0,424.3L352.5,428.2L353.0,431.3L353.5,434.4L354.0,439.0L354.5,443.2L355.0,446.3L355.5,449.7L356.0,452.5L356.5,455.3L357.0,458.5L357.5,461.0L358.0,463.1L358.5,464.9L359.0,465.9L359.5,467.6L360.0,470.6L360.5,472.7L361.0,474.3L361.5,474.8L362.0,475.2L362.5,476.9L363.0,478.6L363.5,480.4L364.0,480.6L364.5,483.2L365.0,484.7L365.5,484.7L366.0,485.3L366.5,485.4L367.0,485.9L367.5,487.3L368.0,488.9L368.5,490.2L369.0,490.1L369.5,489.7L370.0,489.2L370.5,492.5L371.0,494.8L371.5,494.7L372.0,494.4L372.5,496.9L373.0,495.7L373.5,497.4L374.0,499.7L374.5,498.4L375.0,500.1L375.5,499.0L376.0,498.6L376.5,502.4L377.0,503.8L377.5,505.9L378.0,503.3L378.5,506.0L379.0,504.3L379.5,504.9L380.0,507.0L380.5,506.4L381.0,510.7L381.5,511.5L382.0,507.0L382.5,506.7L383.0,510.7L383.5,513.5L384.0,514.8L384.5,513.9L385.0,516.8L385.5,515.2L386.0,513.4L386.5,516.7L387.0,515.3L387.5,512.2L388.0,515.2L388.5,511.4L389.0,513.2L389.5,518.4L390.0,518.7L390.5,520.2L391.0,516.9L391.5,517.8L392.0,517.2L392.5,515.4L393.0,519.3L393.5,518.5L394.0,519.4L394.5,521.0L395.0,522.1L395.5,520.2L396.0,517.4L396.5,514.8L397.0,512.1L397.5,513.5L398.0,518.6L398.5,521.1L399.0,519.5L399.5,521.3L400.0,525.4L400.5,523.6L401.0,523.8L401.5,523.9L402.0,525.9L402.5,526.8L403.0,523.7L403.5,526.2L404.0,528.0L404.5,527.8L405.0,526.8L405.5,523.7L406.0,527.7L406.5,525.0L407.0,525.6L407.5,524.3L408.0,526.3L408.5,528.6L409.0,528.3L409.5,530.0L410.0,528.5L410.5,530.3L411.0,527.0L411.5,524.8L412.0,527.1L412.5,529.4L413.0,526.5L413.5,526.3L414.0,527.7L414.5,527.9L415.0,528.4L415.5,530.0L416.0,528.5L416.5,523.7L417.0,523.7L417.5,530.3L418.0,528.6L418.5,532.7L419.0,534.1L419.5,533.2L420.0,531.8L420.5,531.9L421.0,530.7L421.5,528.7L422.0,532.0L422.5,530.1L423.0,527.6L423.5,526.7L424.0,526.2L424.5,529.8L425.0,532.3L425.5,532.8L426.0,528.4L426.5,526.6L427.0,530.0L427.5,530.0L428.0,531.2L428.5,530.3L429.0,533.2L429.5,532.3L430.0,531.7L430.5,529.1L431.0,534.0L431.5,531.4L432.0,533.4L432.5,534.9L433.0,530.4L433.5,532.1L434.0,532.5L434.5,528.7L435.0,527.1L435.5,532.0L436.0,533.7L436.5,532.7L437.0,531.7L437.5,529.1L438.0,529.3L438.5,530.0L439.0,530.6L439.5,535.9L440.0,532.8L440.5,530.7L441.0,531.6L441.5,532.8L442.0,536.8L442.5,531.1L443.0,527.7L443.5,529.9L444.0,532.6L444.5,533.1L445.0,533.1L445.5,534.3L446.0,532.1L446.5,531.8L447.0,534.8L447.5,535.9L448.0,536.7L448.5,534.7L449.0,531.3L449.5,532.8L450.0,534.2L450.5,534.2L451.0,534.3L451.5,535.1L452.0,533.0L452.5,530.9L453.0,534.2L453.5,534.1L454.0,535.8L454.5,531.9L455.0,534.9L455.5,534.1L456.0,532.5L456.5,533.5L457.0,535.9L457.5,534.3L458.0,535.6L458.5,532.6L459.0,533.7L459.5,533.2L460.0,534.9L460.5,531.9L461.0,530.0L461.5,531.6L462.0,535.5L462.5,537.5L463.0,537.2L463.5,537.6L464.0,537.4L464.5,534.0L465.0,532.8L465.5,535.0L466.0,536.0L466.5,537.4L467.0,539.6L467.5,535.2L468.0,533.5L468.5,537.9L469.0,536.6L469.5,538.8L470.0,535.1L470.5,535.6L471.0,536.2L471.5,537.7L472.0,536.8L472.5,537.0L473.0,536.2L473.5,536.3L474.0,536.2L474.5,534.6L475.0,536.5L475.5,539.1L476.0,536.6L476.5,536.5L477.0,535.2L477.5,533.8L478.0,535.0L478.5,532.2L479.0,533.0L479.5,536.0L480.0,535.3L480.5,533.7L481.0,537.1L481.5,535.4L482.0,533.4L482.5,536.7L483.0,535.9L483.5,534.6L484.0,537.2L484.5,537.0L485.0,534.9L485.5,536.5L486.0,535.1L486.5,537.4L487.0,535.5L487.5,537.4L488.0,533.8L488.5,531.2L489.0,532.7L489.5,536.5L490.0,536.4L490.5,535.5L491.0,536.5L491.5,536.8L492.0,535.4L492.5,535.9L493.0,536.6L493.5,534.8L494.0,536.0L494.5,537.0L495.0,538.9L495.5,535.0L496.0,534.2L496.5,537.6L497.0,535.3L497.5,537.9L498.0,538.5L498.5,537.6" fill="none" stroke="#8a8a8a" stroke-width="0.8" stroke-linejoin="round" />
<path d="M233.5,559.5L234.0,559.5L234.5,559.5L235.0,559.5L235.5,559.5L236.0,559.5L236.5,559.5L237.0,559.5L237.5,559.5L238.0,559.5L238.5,559.5L239.0,559.5L239.5,559.5L240.0,559.5L240.5,559.5L241.0,559.4L241.5,559.4L242.0,559.4L242.5,559.4L243.0,559.4L243.5,559.4L244.0,559.4L244.5,559.4L245.0,559.4L245.5,559.4L246.0,559.4L246.5,559.4L247.0,559.4L247.5,559.4L248.0,559.4L248.5,559.4L249.0,559.4L249.5,559.4L250.0,559.4L250.5,559.4L251.0,559.4L251.5,559.4L252.0,559.4L252.5,559.4L253.0,559.3L253.5,559.3L254.0,559.3L254.5,559.3L255.0,559.3L255.5,559.3L256.0,559.3L256.5,559.3L257.0,559.3L257.5,559.3L258.0,559.3L258.5,559.3L259.0,559.3L259.5,559.3L260.0,559.3L260.5,559.3L261.0,559.3L261.5,559.2L262.0,559.2L262.5,559.2L263.0,559.2L263.5,559.2L264.0,559.2L264.5,559.2L265.0,559.2L265.5,559.2L266.0,559.2L266.5,559.2L267.0,559.2L267.5,559.1L268.0,559.1L268.5,559.1L269.0,559.1L269.5,559.1L270.0,559.1L270.5,559.1L271.0,559.1L271.5,559.1L272.0,559.0L272.5,559.0L273.0,559.0L273.5,559.0L274.0,559.0L274.5,559.0L275.0,559.0L275.5,559.0L276.0,558.9L276.5,558.9L277.0,558.9L277.5,558.9L278.0,558.9L278.5,558.8L279.0,558.8L279.5,558.8L280.0,558.8L280.5,558.8L281.0,558.7L281.5,558.7L282.0,558.7L282.5,558.7L283.0,558.6L283.5,558.6L284.0,558.6L284.5,558.5L285.0,558.5L285.5,558.5L286.0,558.4L286.5,558.4L287.0,558.3L287.5,558.3L288.0,558.2L288.5,558.2L289.0,558.1L289.5,558.0L290.0,557.9L290.5,557.9L291.0,557.8L291.5,557.7L292.0,557.6L292.5,557.4L293.0,557.3L293.5,557.2L294.0,557.0L294.5,556.9L295.0,556.7L295.5,556.6L296.0,556.4L296.5,556.2L297.0,556.0L297.5,555.8L298.0,555.6L298.5,555.4L299.0,555.2L299.5,555.0L300.0,554.8L300.5,554.6L301.0,554.4L301.5,554.2L302.0,554.0L302.5,553.9L303.0,553.7L303.5,553.6L304.0,553.4L304.5,553.3L305.0,553.2L305.5,553.0L306.0,552.9L306.5,552.8L307.0,552.7L307.5,552.6L308.0,552.5L308.5,552.3L309.0,552.2L309.5,552.1L310.0,552.0L310.5,551.9L311.0,551.8L311.5,551.7L312.0,551.6L312.5,551.5L313.0,551.4L313.5,551.4L314.0,551.3L314.5,551.2L315.0,551.1L315.5,551.0L316.0,551.0L316.5,550.9L317.0,550.8L317.5,550.8L318.0,550.7L318.5,550.7L319.0,550.6L319.5,550.6L320.0,550.5L320.5,550.5L321.0,550.4L321.5,550.4L322.0,550.4L322.5,550.3L323.0,550.3L323.5,550.2L324.0,550.2L324.5,550.2L325.0,550.1L325.5,550.1L326.0,550.1L326.5,550.0L327.0,550.0L327.5,550.0L328.0,549.9L328.5,549.9L329.0,549.8L329.5,549.8L330.0,549.8L330.5,549.7L331.0,549.7L331.5,549.6L332.0,549.6L332.5,549.6L333.0,549.5L333.5,549.5L334.0,549.4L334.5,549.4L335.0,549.3L335.5,549.2L336.0,549.2L336.5,549.1L337.0,549.1L337.5,549.0L338.0,548.9L338.5,548.8L339.0,548.7L339.5,548.7L340.0,548.6L340.5,548.5L341.0,548.4L341.5,548.2L342.0,548.1L342.5,548.0L343.0,547.9L343.5,547.7L344.0,547.6L344.5,547.5L345.0,547.3L345.5,547.2L346.0,547.0L346.5,546.9L347.0,546.7L347.5,546.6L348.0,546.4L348.5,546.2L349.0,546.1L349.5,545.9L350.0,545.8L350.5,545.6L351.0,545.5L351.5,545.4L352.0,545.2L352.5,545.1L353.0,545.0L353.5,544.9L354.0,544.7L354.5,544.6L355.0,544.5L355.5,544.4L356.0,544.3L356.5,544.2L357.0,544.1L357.5,544.0L358.0,543.9L358.5,543.8L359.0,543.8L359.5,543.7L360.0,543.6L360.5,543.5L361.0,543.4L361.5,543.4L362.0,543.3L362.5,543.2L363.0,543.1L363.5,543.1L364.0,543.0L364.5,542.9L365.0,542.9L365.5,542.8L366.0,542.7L366.5,542.7L367.0,542.6L367.5,542.5L368.0,542.5L368.5,542.4L369.0,542.4L369.5,542.3L370.0,542.3L370.5,542.2L371.0,542.1L371.5,542.1L372.0,542.0L372.5,542.0L373.0,541.9L373.5,541.9L374.0,541.9L374.5,541.8L375.0,541.8L375.5,541.7L376.0,541.7L376.5,541.6L377.0,541.6L377.5,541.6L378.0,541.5L378.5,541.5L379.0,541.4L379.5,541.4L380.0,541.4L380.5,541.3L381.0,541.3L381.5,541.3L382.0,541.2L382.5,541.2L383.0,541.2L383.5,541.1L384.0,541.1L384.5,541.1L385.0,541.1L385.5,541.0L386.0,541.0L386.5,541.0L387.0,540.9L387.5,540.9L388.0,540.9L388.5,540.9L389.0,540.8L389.5,540.8L390.0,540.8L390.5,540.8L391.0,540.8L391.5,540.7L392.0,540.7L392.5,540.7L393.0,540.7L393.5,540.7L394.0,540.6L394.5,540.6L395.0,540.6L395.5,540.6L396.0,540.6L396.5,540.5L397.0,540.5L397.5,540.5L398.0,540.5L398.5,540.5L399.0,540.5L399.5,540.4L400.0,540.4L400.5,540.4L401.0,540.4L401.5,540.4L402.0,540.4L402.5,540.3L403.0,540.3L403.5,540.3L404.0,540.3L404.5,540.3L405.0,540.3L405.5,540.3L406.0,540.2L406.5,540.2L407.0,540.2L407.5,540.2L408.0,540.2L408.5,540.2L409.0,540.2L409.5,540.2L410.0,540.1L410.5,540.1L411.0,540.1L411.5,540.1L412.0,540.1L412.5,540.1L413.0,540.1L413.5,540.1L414.0,540.1L414.5,540.1L415.0,540.0L415.5,540.0L416.0,540.0L416.5,540.0L417.0,540.0L417.5,540.0L418.0,540.0L418.5,540.0L419.0,540.0L419.5,540.0L420.0,540.0L420.5,539.9L421.0,539.9L421.5,539.9L422.0,539.9L422.5,539.9L423.0,539.9L423.5,539.9L424.0,539.9L424.5,539.9L425.0,539.9L425.5,539.9L426.0,539.9L426.5,539.9L427.0,539.8L427.5,539.8L428.0,539.8L428.5,539.8L429.0,539.8L429.5,539.8L430.0,539.8L430.5,539.8L431.0,539.8L431.5,539.8L432.0,539.8L432.5,539.8L433.0,539.8L433.5,539.8L434.0,539.8L434.5,539.8L435.0,539.8L435.5,539.7L436.0,539.7L436.5,539.7L437.0,539.7L437.5,539.7L438.0,539.7L438.5,539.7L439.0,539.7L439.5,539.7L440.0,539.7L440.5,539.7L441.0,539.7L441.5,539.7L442.0,539.7L442.5,539.7L443.0,539.7L443.5,539.7L444.0,539.7L444.5,539.7L445.0,539.7L445.5,539.7L446.0,539.7L446.5,539.6L447.0,539.6L447.5,539.6L448.0,539.6L448.5,539.6L449.0,539.6L449.5,539.6L450.0,539.6L450.5,539.6L451.0,539.6L451.5,539.6L452.0,539.6L452.5,539.6L453.0,539.6L453.5,539.6L454.0,539.6L454.5,539.6L455.0,539.6L455.5,539.6L456.0,539.6L456.5,539.6L457.0,539.6L457.5,539.6L458.0,539.6L458.5,539.6L459.0,539.6L459.5,539.6L460.0,539.6L460.5,539.6L461.0,539.6L461.5,539.5L462.0,539.5L462.5,539.5L463.0,539.5L463.5,539.5L464.0,539.5L464.5,539.5L465.0,539.5L465.5,539.5L466.0,539.5L466.5,539.5L467.0,539.5L467.5,539.5L468.0,539.5L468.5,539.5L469.0,539.5L469.5,539.5L470.0,539.5L470.5,539.5L471.0,539.5L471.5,539.5L472.0,539.5L472.5,539.5L473.0,539.5L473.5,539.5L474.0,539.5L474.5,539.5L475.0,539.5L475.5,539.5L476.0,539.5L476.5,539.5L477.0,539.5L477.5,539.5L478.0,539.5L478.5,539.5L479.0,539.5L479.5,539.5L480.0,539.5L480.5,539.5L481.0,539.5L481.5,539.5L482.0,539.5L482.5,539.5L483.0,539.5L483.5,539.4L484.0,539.4L484.5,539.4L485.0,539.4L485.5,539.4L486.0,539.4L486.5,539.4L487.0,539.4L487.5,539.4L488.0,539.4L488.5,539.4L489.0,539.4L489.5,539.4L490.0,539.4L490.5,539.4L491.0,539.4L491.5,539.4L492.0,539.4L492.5,539.4L493.0,539.4L493.5,539.4L494.0,539.4L494.5,539.4L495.0,539.4L495.5,539.4L496.0,539.4L496.5,539.4L497.0,539.4L497.5,539.4L498.0,539.4L498.5,539.4" fill="none" stroke="#00cc00" stroke-width="1.3" stroke-linejoin="round" />
<path d="M233.5,559.7L234.0,559.7L234.5,559.7L235.0,559.7L235.5,559.7L236.0,559.7L236.5,559.7L237.0,559.7L237.5,559.7L238.0,559.7L238.5,559.7L239.0,559.7L239.5,559.7L240.0,559.7L240.5,559.7L241.0,559.6L241.5,559.6L242.0,559.6L242.5,559.6L243.0,559.6L243.5,559.6L244.0,559.6L244.5,559.6L245.0,559.6L245.5,559.6L246.0,559.6L246.5,559.6L247.0,559.6L247.5,559.6L248.0,559.6L248.5,559.6L249.0,559.6L249.5,559.6L250.0,559.6L250.5,559.6L251.0,559.6L251.5,559.6L252.0,559.6L252.5,559.6L253.0,559.5L253.5,559.5L254.0,559.5L254.5,559.5L255.0,559.5L255.5,559.5L256.0,559.5L256.5,559.5L257.0,559.5L257.5,559.5L258.0,559.5L258.5,559.5L259.0,559.5L259.5,559.5L260.0,559.5L260.5,559.5L261.0,559.5L261.5,559.4L262.0,559.4L262.5,559.4L263.0,559.4L263.5,559.4L264.0,559.4L264.5,559.4L265.0,559.4L265.5,559.4L266.0,559.4L266.5,559.4L267.0,559.4L267.5,559.3L268.0,559.3L268.5,559.3L269.0,559.3L269.5,559.3L270.0,559.3L270.5,559.3L271.0,559.3L271.5,559.3L272.0,559.2L272.5,559.2L273.0,559.2L273.5,559.2L274.0,559.2L274.5,559.2L275.0,559.2L275.5,559.2L276.0,559.1L276.5,559.1L277.0,559.1L277.5,559.1L278.0,559.1L278.5,559.0L279.0,559.0L279.5,559.0L280.0,559.0L280.5,559.0L281.0,558.9L281.5,558.9L282.0,558.9L282.5,558.9L283.0,558.8L283.5,558.8L284.0,558.8L284.5,558.7L285.0,558.7L285.5,558.7L286.0,558.6L286.5,558.6L287.0,558.5L287.5,558.5L288.0,558.4L288.5,558.4L289.0,558.3L289.5,558.2L290.0,558.1L290.5,558.1L291.0,558.0L291.5,557.9L292.0,557.8L292.5,557.6L293.0,557.5L293.5,557.4L294.0,557.2L294.5,557.1L295.0,556.9L295.5,556.8L296.0,556.6L296.5,556.4L297.0,556.2L297.5,556.0L298.0,555.8L298.5,555.6L299.0,555.4L299.5,555.2L300.0,555.0L300.5,554.8L301.0,554.6L301.5,554.4L302.0,554.2L302.5,554.1L303.0,553.9L303.5,553.8L304.0,553.6L304.5,553.5L305.0,553.4L305.5,553.2L306.0,553.1L306.5,553.0L307.0,552.9L307.5,552.8L308.0,552.7L308.5,552.5L309.0,552.4L309.5,552.3L310.0,552.2L310.5,552.1L311.0,552.0L311.5,551.9L312.0,551.8L312.5,551.7L313.0,551.6L313.5,551.6L314.0,551.5L314.5,551.4L315.0,551.3L315.5,551.2L316.0,551.2L316.5,551.1L317.0,551.0L317.5,551.0L318.0,550.9L318.5,550.9L319.0,550.8L319.5,550.8L320.0,550.7L320.5,550.7L321.0,550.6L321.5,550.6L322.0,550.6L322.5,550.5L323.0,550.5L323.5,550.4L324.0,550.4L324.5,550.4L325.0,550.3L325.5,550.3L326.0,550.3L326.5,550.2L327.0,550.2L327.5,550.1L328.0,550.1L328.5,550.1L329.0,550.0L329.5,550.0L330.0,549.9L330.5,549.8L331.0,549.7L331.5,549.7L332.0,549.5L332.5,549.4L333.0,549.2L333.5,549.0L334.0,548.8L334.5,548.5L335.0,548.2L335.5,547.8L336.0,547.3L336.5,546.7L337.0,546.1L337.5,545.4L338.0,544.5L338.5,543.7L339.0,542.7L339.5,541.7L340.0,540.6L340.5,539.4L341.0,538.3L341.5,537.2L342.0,536.1L342.5,535.0L343.0,534.1L343.5,533.2L344.0,532.5L344.5,532.0L345.0,531.6L345.5,531.4L346.0,531.4L346.5,531.5L347.0,531.8L347.5,532.3L348.0,532.9L348.5,533.6L349.0,534.4L349.5,535.3L350.0,536.1L350.5,537.0L351.0,537.9L351.5,538.7L352.0,539.5L352.5,540.3L353.0,540.9L353.5,541.5L354.0,542.0L354.5,542.4L355.0,542.8L355.5,543.1L356.0,543.3L356.5,543.5L357.0,543.6L357.5,543.7L358.0,543.7L358.5,543.7L359.0,543.7L359.5,543.7L360.0,543.7L360.5,543.6L361.0,543.6L361.5,543.5L362.0,543.4L362.5,543.4L363.0,543.3L363.5,543.3L364.0,543.2L364.5,543.1L365.0,543.1L365.5,543.0L366.0,542.9L366.5,542.9L367.0,542.8L367.5,542.7L368.0,542.7L368.5,542.6L369.0,542.6L369.5,542.5L370.0,542.5L370.5,542.4L371.0,542.3L371.5,542.3L372.0,542.2L372.5,542.2L373.0,542.1L373.5,542.1L374.0,542.1L374.5,542.0L375.0,542.0L375.5,541.9L376.0,541.9L376.5,541.8L377.0,541.8L377.5,541.8L378.0,541.7L378.5,541.7L379.0,541.6L379.5,541.6L380.0,541.6L380.5,541.5L381.0,541.5L381.5,541.5L382.0,541.4L382.5,541.4L383.0,541.4L383.5,541.3L384.0,541.3L384.5,541.3L385.0,541.3L385.5,541.2L386.0,541.2L386.5,541.2L387.0,541.1L387.5,541.1L388.0,541.1L388.5,541.1L389.0,541.0L389.5,541.0L390.0,541.0L390.5,541.0L391.0,541.0L391.5,540.9L392.0,540.9L392.5,540.9L393.0,540.9L393.5,540.9L394.0,540.8L394.5,540.8L395.0,540.8L395.5,540.8L396.0,540.8L396.5,540.7L397.0,540.7L397.5,540.7L398.0,540.7L398.5,540.7L399.0,540.7L399.5,540.6L400.0,540.6L400.5,540.6L401.0,540.6L401.5,540.6L402.0,540.6L402.5,540.5L403.0,540.5L403.5,540.5L404.0,540.5L404.5,540.5L405.0,540.5L405.5,540.5L406.0,540.4L406.5,540.4L407.0,540.4L407.5,540.4L408.0,540.4L408.5,540.4L409.0,540.4L409.5,540.4L410.0,540.3L410.5,540.3L411.0,540.3L411.5,540.3L412.0,540.3L412.5,540.3L413.0,540.3L413.5,540.3L414.0,540.3L414.5,540.3L415.0,540.2L415.5,540.2L416.0,540.2L416.5,540.2L417.0,540.2L417.5,540.2L418.0,540.2L418.5,540.2L419.0,540.2L419.5,540.2L420.0,540.2L420.5,540.1L421.0,540.1L421.5,540.1L422.0,540.1L422.5,540.1L423.0,540.1L423.5,540.1L424.0,540.1L424.5,540.1L425.0,540.1L425.5,540.1L426.0,540.1L426.5,540.1L427.0,540.0L427.5,540.0L428.0,540.0L428.5,540.0L429.0,540.0L429.5,540.0L430.0,540.0L430.5,540.0L431.0,540.0L431.5,540.0L432.0,540.0L432.5,540.0L433.0,540.0L433.5,540.0L434.0,540.0L434.5,540.0L435.0,540.0L435.5,539.9L436.0,539.9L436.5,539.9L437.0,539.9L437.5,539.9L438.0,539.9L438.5,539.9L439.0,539.9L439.5,539.9L440.0,539.9L440.5,539.9L441.0,539.9L441.5,539.9L442.0,539.9L442.5,539.9L443.0,539.9L443.5,539.9L444.0,539.9L444.5,539.9L445.0,539.9L445.5,539.9L446.0,539.9L446.5,539.8L447.0,539.8L447.5,539.8L448.0,539.8L448.5,539.8L449.0,539.8L449.5,539.8L450.0,539.8L450.5,539.8L451.0,539.8L451.5,539.8L452.0,539.8L452.5,539.8L453.0,539.8L453.5,539.8L454.0,539.8L454.5,539.8L455.0,539.8L455.5,539.8L456.0,539.8L456.5,539.8L457.0,539.8L457.5,539.8L458.0,539.8L458.5,539.8L459.0,539.8L459.5,539.8L460.0,539.8L460.5,539.8L461.0,539.8L461.5,539.7L462.0,539.7L462.5,539.7L463.0,539.7L463.5,539.7L464.0,539.7L464.5,539.7L465.0,539.7L465.5,539.7L466.0,539.7L466.5,539.7L467.0,539.7L467.5,539.7L468.0,539.7L468.5,539.7L469.0,539.7L469.5,539.7L470.0,539.7L470.5,539.7L471.0,539.7L471.5,539.7L472.0,539.7L472.5,539.7L473.0,539.7L473.5,539.7L474.0,539.7L474.5,539.7L475.0,539.7L475.5,539.7L476.0,539.7L476.5,539.7L477.0,539.7L477.5,539.7L478.0,539.7L478.5,539.7L479.0,539.7L479.5,539.7L480.0,539.7L480.5,539.7L481.0,539.7L481.5,539.7L482.0,539.7L482.5,539.7L483.0,539.7L483.5,539.6L484.0,539.6L484.5,539.6L485.0,539.6L485.5,539.6L486.0,539.6L486.5,539.6L487.0,539.6L487.5,539.6L488.0,539.6L488.5,539.6L489.0,539.6L489.5,539.6L490.0,539.6L490.5,539.6L491.0,539.6L491.5,539.6L492.0,539.6L492.5,539.6L493.0,539.6L493.5,539.6L494.0,539.6L494.5,539.6L495.0,539.6L495.5,539.6L496.0,539.6L496.5,539.6L497.0,539.6L497.5,539.6L498.0,539.6L498.5,539.6" fill="none" stroke="#808000" stroke-width="1.6" stroke-linejoin="round" />
<path d="M233.5,559.3L234.0,559.3L234.5,559.3L235.0,559.3L235.5,559.3L236.0,559.3L236.5,559.3L237.0,559.3L237.5,559.3L238.0,559.3L238.5,559.2L239.0,559.2L239.5,559.2L240.0,559.2L240.5,559.2L241.0,559.2L241.5,559.2L242.0,559.2L242.5,559.2L243.0,559.2L243.5,559.2L244.0,559.2L244.5,559.2L245.0,559.2L245.5,559.2L246.0,559.2L246.5,559.2L247.0,559.2L247.5,559.2L248.0,559.1L248.5,559.1L249.0,559.1L249.5,559.1L250.0,559.1L250.5,559.1L251.0,559.1L251.5,559.1L252.0,559.1L252.5,559.1L253.0,559.1L253.5,559.1L254.0,559.1L254.5,559.1L255.0,559.1L255.5,559.0L256.0,559.0L256.5,559.0L257.0,559.0L257.5,559.0L258.0,559.0L258.5,559.0L259.0,559.0L259.5,559.0L260.0,559.0L260.5,559.0L261.0,559.0L261.5,558.9L262.0,558.9L262.5,558.9L263.0,558.9L263.5,558.9L264.0,558.9L264.5,558.9L265.0,558.9L265.5,558.9L266.0,558.9L266.5,558.8L267.0,558.8L267.5,558.8L268.0,558.8L268.5,558.8L269.0,558.8L269.5,558.8L270.0,558.8L270.5,558.7L271.0,558.7L271.5,558.7L272.0,558.7L272.5,558.7L273.0,558.7L273.5,558.7L274.0,558.6L274.5,558.6L275.0,558.6L275.5,558.6L276.0,558.6L276.5,558.5L277.0,558.5L277.5,558.5L278.0,558.5L278.5,558.5L279.0,558.4L279.5,558.4L280.0,558.4L280.5,558.4L281.0,558.3L281.5,558.3L282.0,558.3L282.5,558.2L283.0,558.2L283.5,558.2L284.0,558.1L284.5,558.1L285.0,558.1L285.5,558.0L286.0,558.0L286.5,557.9L287.0,557.9L287.5,557.8L288.0,557.8L288.5,557.7L289.0,557.6L289.5,557.6L290.0,557.5L290.5,557.4L291.0,557.3L291.5,557.2L292.0,557.1L292.5,557.0L293.0,556.8L293.5,556.7L294.0,556.5L294.5,556.4L295.0,556.2L295.5,556.0L296.0,555.8L296.5,555.6L297.0,555.4L297.5,555.2L298.0,555.0L298.5,554.8L299.0,554.6L299.5,554.4L300.0,554.2L300.5,554.0L301.0,553.8L301.5,553.6L302.0,553.4L302.5,553.3L303.0,553.1L303.5,553.0L304.0,552.8L304.5,552.7L305.0,552.5L305.5,552.4L306.0,552.3L306.5,552.2L307.0,552.0L307.5,551.9L308.0,551.8L308.5,551.7L309.0,551.6L309.5,551.4L310.0,551.3L310.5,551.2L311.0,551.1L311.5,551.0L312.0,550.9L312.5,550.8L313.0,550.7L313.5,550.6L314.0,550.5L314.5,550.4L315.0,550.3L315.5,550.2L316.0,550.2L316.5,550.1L317.0,550.0L317.5,549.9L318.0,549.9L318.5,549.8L319.0,549.8L319.5,549.7L320.0,549.6L320.5,549.6L321.0,549.5L321.5,549.5L322.0,549.4L322.5,549.4L323.0,549.3L323.5,549.3L324.0,549.2L324.5,549.2L325.0,549.1L325.5,549.1L326.0,549.0L326.5,549.0L327.0,548.9L327.5,548.9L328.0,548.8L328.5,548.8L329.0,548.7L329.5,548.7L330.0,548.6L330.5,548.5L331.0,548.5L331.5,548.4L332.0,548.4L332.5,548.3L333.0,548.2L333.5,548.2L334.0,548.1L334.5,548.0L335.0,548.0L335.5,547.9L336.0,547.8L336.5,547.7L337.0,547.6L337.5,547.5L338.0,547.4L338.5,547.3L339.0,547.2L339.5,547.1L340.0,547.0L340.5,546.9L341.0,546.7L341.5,546.6L342.0,546.5L342.5,546.3L343.0,546.2L343.5,546.0L344.0,545.8L344.5,545.6L345.0,545.5L345.5,545.3L346.0,545.1L346.5,544.9L347.0,544.7L347.5,544.5L348.0,544.3L348.5,544.2L349.0,544.0L349.5,543.8L350.0,543.6L350.5,543.4L351.0,543.2L351.5,543.0L352.0,542.9L352.5,542.7L353.0,542.5L353.5,542.4L354.0,542.2L354.5,542.0L355.0,541.9L355.5,541.7L356.0,541.6L356.5,541.4L357.0,541.3L357.5,541.1L358.0,541.0L358.5,540.9L359.0,540.7L359.5,540.6L360.0,540.4L360.5,540.3L361.0,540.2L361.5,540.0L362.0,539.9L362.5,539.8L363.0,539.6L363.5,539.5L364.0,539.4L364.5,539.2L365.0,539.1L365.5,539.0L366.0,538.8L366.5,538.7L367.0,538.6L367.5,538.4L368.0,538.3L368.5,538.2L369.0,538.0L369.5,537.9L370.0,537.8L370.5,537.7L371.0,537.5L371.5,537.4L372.0,537.3L372.5,537.1L373.0,537.0L373.5,536.9L374.0,536.8L374.5,536.6L375.0,536.5L375.5,536.4L376.0,536.3L376.5,536.2L377.0,536.0L377.5,535.9L378.0,535.8L378.5,535.7L379.0,535.6L379.5,535.5L380.0,535.4L380.5,535.3L381.0,535.2L381.5,535.1L382.0,535.0L382.5,534.9L383.0,534.8L383.5,534.7L384.0,534.6L384.5,534.5L385.0,534.4L385.5,534.4L386.0,534.3L386.5,534.2L387.0,534.1L387.5,534.1L388.0,534.0L388.5,534.0L389.0,533.9L389.5,533.9L390.0,533.8L390.5,533.8L391.0,533.8L391.5,533.7L392.0,533.7L392.5,533.7L393.0,533.7L393.5,533.7L394.0,533.7L394.5,533.7L395.0,533.7L395.5,533.7L396.0,533.7L396.5,533.7L397.0,533.7L397.5,533.7L398.0,533.8L398.5,533.8L399.0,533.8L399.5,533.9L400.0,533.9L400.5,533.9L401.0,534.0L401.5,534.0L402.0,534.1L402.5,534.1L403.0,534.2L403.5,534.2L404.0,534.3L404.5,534.4L405.0,534.4L405.5,534.5L406.0,534.5L406.5,534.6L407.0,534.7L407.5,534.7L408.0,534.8L408.5,534.9L409.0,534.9L409.5,535.0L410.0,535.1L410.5,535.1L411.0,535.2L411.5,535.3L412.0,535.3L412.5,535.4L413.0,535.5L413.5,535.5L414.0,535.6L414.5,535.7L415.0,535.7L415.5,535.8L416.0,535.8L416.5,535.9L417.0,536.0L417.5,536.0L418.0,536.1L418.5,536.2L419.0,536.2L419.5,536.3L420.0,536.3L420.5,536.4L421.0,536.4L421.5,536.5L422.0,536.5L422.5,536.6L423.0,536.6L423.5,536.7L424.0,536.7L424.5,536.8L425.0,536.8L425.5,536.9L426.0,536.9L426.5,537.0L427.0,537.0L427.5,537.1L428.0,537.1L428.5,537.2L429.0,537.2L429.5,537.2L430.0,537.3L430.5,537.3L431.0,537.4L431.5,537.4L432.0,537.4L432.5,537.5L433.0,537.5L433.5,537.5L434.0,537.6L434.5,537.6L435.0,537.6L435.5,537.7L436.0,537.7L436.5,537.7L437.0,537.8L437.5,537.8L438.0,537.8L438.5,537.8L439.0,537.9L439.5,537.9L440.0,537.9L440.5,537.9L441.0,538.0L441.5,538.0L442.0,538.0L442.5,538.0L443.0,538.1L443.5,538.1L444.0,538.1L444.5,538.1L445.0,538.1L445.5,538.2L446.0,538.2L446.5,538.2L447.0,538.2L447.5,538.2L448.0,538.3L448.5,538.3L449.0,538.3L449.5,538.3L450.0,538.3L450.5,538.3L451.0,538.3L451.5,538.4L452.0,538.4L452.5,538.4L453.0,538.4L453.5,538.4L454.0,538.4L454.5,538.4L455.0,538.5L455.5,538.5L456.0,538.5L456.5,538.5L457.0,538.5L457.5,538.5L458.0,538.5L458.5,538.5L459.0,538.6L459.5,538.6L460.0,538.6L460.5,538.6L461.0,538.6L461.5,538.6L462.0,538.6L462.5,538.6L463.0,538.6L463.5,538.6L464.0,538.6L464.5,538.7L465.0,538.7L465.5,538.7L466.0,538.7L466.5,538.7L467.0,538.7L467.5,538.7L468.0,538.7L468.5,538.7L469.0,538.7L469.5,538.7L470.0,538.7L470.5,538.7L471.0,538.7L471.5,538.8L472.0,538.8L472.5,538.8L473.0,538.8L473.5,538.8L474.0,538.8L474.5,538.8L475.0,538.8L475.5,538.8L476.0,538.8L476.5,538.8L477.0,538.8L477.5,538.8L478.0,538.8L478.5,538.8L479.0,538.8L479.5,538.8L480.0,538.8L480.5,538.8L481.0,538.9L481.5,538.9L482.0,538.9L482.5,538.9L483.0,538.9L483.5,538.9L484.0,538.9L484.5,538.9L485.0,538.9L485.5,538.9L486.0,538.9L486.5,538.9L487.0,538.9L487.5,538.9L488.0,538.9L488.5,538.9L489.0,538.9L489.5,538.9L490.0,538.9L490.5,538.9L491.0,538.9L491.5,538.9L492.0,538.9L492.5,538.9L493.0,538.9L493.5,538.9L494.0,538.9L494.5,538.9L495.0,538.9L495.5,539.0L496.0,539.0L496.5,539.0L497.0,539.0L497.5,539.0L498.0,539.0L498.5,539.0" fill="none" stroke="#8000ff" stroke-width="1.4" stroke-linejoin="round" />
<path d="M233.5,559.4L234.0,559.4L234.5,559.4L235.0,559.4L235.5,559.4L236.0,559.4L236.5,559.4L237.0,559.4L237.5,559.3L238.0,559.3L238.5,559.3L239.0,559.3L239.5,559.3L240.0,559.3L240.5,559.3L241.0,559.3L241.5,559.3L242.0,559.3L242.5,559.3L243.0,559.3L243.5,559.3L244.0,559.3L244.5,559.3L245.0,559.3L245.5,559.3L246.0,559.3L246.5,559.3L247.0,559.3L247.5,559.3L248.0,559.2L248.5,559.2L249.0,559.2L249.5,559.2L250.0,559.2L250.5,559.2L251.0,559.2L251.5,559.2L252.0,559.2L252.5,559.2L253.0,559.2L253.5,559.2L254.0,559.2L254.5,559.2L255.0,559.2L255.5,559.2L256.0,559.1L256.5,559.1L257.0,559.1L257.5,559.1L258.0,559.1L258.5,559.1L259.0,559.1L259.5,559.1L260.0,559.1L260.5,559.1L261.0,559.1L261.5,559.1L262.0,559.0L262.5,559.0L263.0,559.0L263.5,559.0L264.0,559.0L264.5,559.0L265.0,559.0L265.5,559.0L266.0,559.0L266.5,559.0L267.0,558.9L267.5,558.9L268.0,558.9L268.5,558.9L269.0,558.9L269.5,558.9L270.0,558.9L270.5,558.9L271.0,558.8L271.5,558.8L272.0,558.8L272.5,558.8L273.0,558.8L273.5,558.8L274.0,558.8L274.5,558.7L275.0,558.7L275.5,558.7L276.0,558.7L276.5,558.7L277.0,558.6L277.5,558.6L278.0,558.6L278.5,558.6L279.0,558.6L279.5,558.5L280.0,558.5L280.5,558.5L281.0,558.5L281.5,558.4L282.0,558.4L282.5,558.4L283.0,558.3L283.5,558.3L284.0,558.3L284.5,558.2L285.0,558.2L285.5,558.1L286.0,558.1L286.5,558.1L287.0,558.0L287.5,557.9L288.0,557.9L288.5,557.8L289.0,557.8L289.5,557.7L290.0,557.6L290.5,557.5L291.0,557.4L291.5,557.3L292.0,557.2L292.5,557.1L293.0,556.9L293.5,556.8L294.0,556.7L294.5,556.5L295.0,556.3L295.5,556.2L296.0,556.0L296.5,555.8L297.0,555.6L297.5,555.4L298.0,555.1L298.5,554.9L299.0,554.7L299.5,554.5L300.0,554.3L300.5,554.1L301.0,553.9L301.5,553.7L302.0,553.6L302.5,553.4L303.0,553.2L303.5,553.1L304.0,552.9L304.5,552.8L305.0,552.6L305.5,552.5L306.0,552.4L306.5,552.2L307.0,552.1L307.5,552.0L308.0,551.9L308.5,551.8L309.0,551.6L309.5,551.5L310.0,551.4L310.5,551.3L311.0,551.2L311.5,551.1L312.0,551.0L312.5,550.8L313.0,550.7L313.5,550.6L314.0,550.6L314.5,550.5L315.0,550.4L315.5,550.3L316.0,550.2L316.5,550.1L317.0,550.0L317.5,550.0L318.0,549.9L318.5,549.8L319.0,549.8L319.5,549.7L320.0,549.6L320.5,549.6L321.0,549.5L321.5,549.4L322.0,549.4L322.5,549.3L323.0,549.2L323.5,549.2L324.0,549.1L324.5,549.1L325.0,549.0L325.5,548.9L326.0,548.9L326.5,548.8L327.0,548.7L327.5,548.7L328.0,548.6L328.5,548.5L329.0,548.5L329.5,548.4L330.0,548.3L330.5,548.2L331.0,548.1L331.5,548.0L332.0,547.9L332.5,547.8L333.0,547.7L333.5,547.6L334.0,547.5L334.5,547.3L335.0,547.2L335.5,547.1L336.0,546.9L336.5,546.7L337.0,546.6L337.5,546.4L338.0,546.2L338.5,546.0L339.0,545.8L339.5,545.5L340.0,545.3L340.5,545.0L341.0,544.7L341.5,544.4L342.0,544.1L342.5,543.7L343.0,543.4L343.5,543.0L344.0,542.6L344.5,542.1L345.0,541.7L345.5,541.2L346.0,540.7L346.5,540.2L347.0,539.7L347.5,539.1L348.0,538.6L348.5,538.0L349.0,537.4L349.5,536.7L350.0,536.1L350.5,535.5L351.0,534.8L351.5,534.1L352.0,533.4L352.5,532.7L353.0,532.0L353.5,531.2L354.0,530.5L354.5,529.8L355.0,529.0L355.5,528.2L356.0,527.5L356.5,526.7L357.0,526.0L357.5,525.2L358.0,524.5L358.5,523.7L359.0,523.0L359.5,522.3L360.0,521.6L360.5,521.0L361.0,520.3L361.5,519.8L362.0,519.2L362.5,518.7L363.0,518.2L363.5,517.8L364.0,517.5L364.5,517.2L365.0,517.0L365.5,516.8L366.0,516.7L366.5,516.7L367.0,516.7L367.5,516.7L368.0,516.8L368.5,517.0L369.0,517.1L369.5,517.4L370.0,517.6L370.5,517.9L371.0,518.2L371.5,518.6L372.0,518.9L372.5,519.3L373.0,519.7L373.5,520.2L374.0,520.6L374.5,521.1L375.0,521.6L375.5,522.0L376.0,522.5L376.5,523.0L377.0,523.5L377.5,524.0L378.0,524.5L378.5,525.0L379.0,525.5L379.5,525.9L380.0,526.4L380.5,526.9L381.0,527.3L381.5,527.8L382.0,528.2L382.5,528.7L383.0,529.1L383.5,529.5L384.0,529.9L384.5,530.3L385.0,530.7L385.5,531.0L386.0,531.4L386.5,531.7L387.0,532.1L387.5,532.4L388.0,532.7L388.5,533.0L389.0,533.3L389.5,533.6L390.0,533.8L390.5,534.1L391.0,534.3L391.5,534.5L392.0,534.8L392.5,535.0L393.0,535.2L393.5,535.4L394.0,535.5L394.5,535.7L395.0,535.9L395.5,536.0L396.0,536.2L396.5,536.3L397.0,536.5L397.5,536.6L398.0,536.7L398.5,536.8L399.0,536.9L399.5,537.0L400.0,537.1L400.5,537.2L401.0,537.3L401.5,537.4L402.0,537.5L402.5,537.5L403.0,537.6L403.5,537.7L404.0,537.7L404.5,537.8L405.0,537.9L405.5,537.9L406.0,538.0L406.5,538.0L407.0,538.0L407.5,538.1L408.0,538.1L408.5,538.2L409.0,538.2L409.5,538.2L410.0,538.3L410.5,538.3L411.0,538.3L411.5,538.4L412.0,538.4L412.5,538.4L413.0,538.4L413.5,538.5L414.0,538.5L414.5,538.5L415.0,538.5L415.5,538.5L416.0,538.6L416.5,538.6L417.0,538.6L417.5,538.6L418.0,538.6L418.5,538.6L419.0,538.7L419.5,538.7L420.0,538.7L420.5,538.7L421.0,538.7L421.5,538.7L422.0,538.7L422.5,538.8L423.0,538.8L423.5,538.8L424.0,538.8L424.5,538.8L425.0,538.8L425.5,538.8L426.0,538.8L426.5,538.8L427.0,538.8L427.5,538.9L428.0,538.9L428.5,538.9L429.0,538.9L429.5,538.9L430.0,538.9L430.5,538.9L431.0,538.9L431.5,538.9L432.0,538.9L432.5,538.9L433.0,538.9L433.5,538.9L434.0,538.9L434.5,539.0L435.0,539.0L435.5,539.0L436.0,539.0L436.5,539.0L437.0,539.0L437.5,539.0L438.0,539.0L438.5,539.0L439.0,539.0L439.5,539.0L440.0,539.0L440.5,539.0L441.0,539.0L441.5,539.0L442.0,539.0L442.5,539.0L443.0,539.0L443.5,539.0L444.0,539.0L444.5,539.0L445.0,539.0L445.5,539.0L446.0,539.1L446.5,539.1L447.0,539.1L447.5,539.1L448.0,539.1L448.5,539.1L449.0,539.1L449.5,539.1L450.0,539.1L450.5,539.1L451.0,539.1L451.5,539.1L452.0,539.1L452.5,539.1L453.0,539.1L453.5,539.1L454.0,539.1L454.5,539.1L455.0,539.1L455.5,539.1L456.0,539.1L456.5,539.1L457.0,539.1L457.5,539.1L458.0,539.1L458.5,539.1L459.0,539.1L459.5,539.1L460.0,539.1L460.5,539.1L461.0,539.1L461.5,539.1L462.0,539.1L462.5,539.1L463.0,539.1L463.5,539.1L464.0,539.1L464.5,539.1L465.0,539.1L465.5,539.1L466.0,539.1L466.5,539.1L467.0,539.1L467.5,539.1L468.0,539.1L468.5,539.1L469.0,539.1L469.5,539.1L470.0,539.1L470.5,539.1L471.0,539.1L471.5,539.1L472.0,539.1L472.5,539.2L473.0,539.2L473.5,539.2L474.0,539.2L474.5,539.2L475.0,539.2L475.5,539.2L476.0,539.2L476.5,539.2L477.0,539.2L477.5,539.2L478.0,539.2L478.5,539.2L479.0,539.2L479.5,539.2L480.0,539.2L480.5,539.2L481.0,539.2L481.5,539.2L482.0,539.2L482.5,539.2L483.0,539.2L483.5,539.2L484.0,539.2L484.5,539.2L485.0,539.2L485.5,539.2L486.0,539.2L486.5,539.2L487.0,539.2L487.5,539.2L488.0,539.2L488.5,539.2L489.0,539.2L489.5,539.2L490.0,539.2L490.5,539.2L491.0,539.2L491.5,539.2L492.0,539.2L492.5,539.2L493.0,539.2L493.5,539.2L494.0,539.2L494.5,539.2L495.0,539.2L495.5,539.2L496.0,539.2L496.5,539.2L497.0,539.2L497.5,539.2L498.0,539.2L498.5,539.2" fill="none" stroke="#00ffff" stroke-width="1.4" stroke-linejoin="round" />
<path d="M233.5,559.2L234.0,559.2L234.5,559.2L235.0,559.2L235.5,559.2L236.0,559.2L236.5,559.2L237.0,559.2L237.5,559.2L238.0,559.1L238.5,559.1L239.0,559.1L239.5,559.1L240.0,559.1L240.5,559.1L241.0,559.1L241.5,559.1L242.0,559.1L242.5,559.1L243.0,559.1L243.5,559.1L244.0,559.0L244.5,559.0L245.0,559.0L245.5,559.0L246.0,559.0L246.5,559.0L247.0,559.0L247.5,559.0L248.0,559.0L248.5,559.0L249.0,558.9L249.5,558.9L250.0,558.9L250.5,558.9L251.0,558.9L251.5,558.9L252.0,558.9L252.5,558.9L253.0,558.8L253.5,558.8L254.0,558.8L254.5,558.8L255.0,558.8L255.5,558.8L256.0,558.8L256.5,558.7L257.0,558.7L257.5,558.7L258.0,558.7L258.5,558.7L259.0,558.6L259.5,558.6L260.0,558.6L260.5,558.6L261.0,558.6L261.5,558.6L262.0,558.5L262.5,558.5L263.0,558.5L263.5,558.5L264.0,558.4L264.5,558.4L265.0,558.4L265.5,558.4L266.0,558.3L266.5,558.3L267.0,558.3L267.5,558.3L268.0,558.2L268.5,558.2L269.0,558.2L269.5,558.1L270.0,558.1L270.5,558.1L271.0,558.0L271.5,558.0L272.0,557.9L272.5,557.9L273.0,557.9L273.5,557.8L274.0,557.8L274.5,557.7L275.0,557.7L275.5,557.6L276.0,557.6L276.5,557.5L277.0,557.5L277.5,557.4L278.0,557.3L278.5,557.3L279.0,557.2L279.5,557.1L280.0,557.1L280.5,557.0L281.0,556.9L281.5,556.8L282.0,556.7L282.5,556.6L283.0,556.5L283.5,556.4L284.0,556.3L284.5,556.2L285.0,556.1L285.5,556.0L286.0,555.8L286.5,555.7L287.0,555.5L287.5,555.4L288.0,555.2L288.5,555.0L289.0,554.8L289.5,554.6L290.0,554.3L290.5,554.1L291.0,553.8L291.5,553.5L292.0,553.1L292.5,552.8L293.0,552.4L293.5,551.9L294.0,551.4L294.5,550.9L295.0,550.3L295.5,549.7L296.0,549.0L296.5,548.2L297.0,547.3L297.5,546.4L298.0,545.3L298.5,544.2L299.0,543.0L299.5,541.7L300.0,540.3L300.5,538.7L301.0,537.1L301.5,535.3L302.0,533.4L302.5,531.4L303.0,529.2L303.5,527.0L304.0,524.6L304.5,522.1L305.0,519.6L305.5,516.9L306.0,514.3L306.5,511.6L307.0,509.0L307.5,506.5L308.0,504.2L308.5,502.1L309.0,500.2L309.5,498.7L310.0,497.6L310.5,497.0L311.0,496.9L311.5,497.2L312.0,498.0L312.5,499.2L313.0,500.8L313.5,502.7L314.0,504.8L314.5,507.1L315.0,509.5L315.5,511.9L316.0,514.4L316.5,516.8L317.0,519.2L317.5,521.5L318.0,523.7L318.5,525.8L319.0,527.7L319.5,529.6L320.0,531.3L320.5,532.9L321.0,534.3L321.5,535.6L322.0,536.9L322.5,538.0L323.0,539.0L323.5,539.8L324.0,540.6L324.5,541.4L325.0,542.0L325.5,542.6L326.0,543.1L326.5,543.5L327.0,543.9L327.5,544.3L328.0,544.6L328.5,544.9L329.0,545.1L329.5,545.3L330.0,545.5L330.5,545.7L331.0,545.9L331.5,546.0L332.0,546.1L332.5,546.2L333.0,546.3L333.5,546.4L334.0,546.5L334.5,546.5L335.0,546.6L335.5,546.6L336.0,546.7L336.5,546.7L337.0,546.7L337.5,546.7L338.0,546.7L338.5,546.7L339.0,546.7L339.5,546.7L340.0,546.7L340.5,546.6L341.0,546.6L341.5,546.5L342.0,546.5L342.5,546.4L343.0,546.3L343.5,546.2L344.0,546.1L344.5,546.0L345.0,545.9L345.5,545.8L346.0,545.7L346.5,545.6L347.0,545.4L347.5,545.3L348.0,545.2L348.5,545.1L349.0,544.9L349.5,544.8L350.0,544.7L350.5,544.6L351.0,544.5L351.5,544.4L352.0,544.2L352.5,544.1L353.0,544.0L353.5,543.9L354.0,543.8L354.5,543.7L355.0,543.7L355.5,543.6L356.0,543.5L356.5,543.4L357.0,543.3L357.5,543.2L358.0,543.2L358.5,543.1L359.0,543.0L359.5,543.0L360.0,542.9L360.5,542.8L361.0,542.8L361.5,542.7L362.0,542.6L362.5,542.6L363.0,542.5L363.5,542.5L364.0,542.4L364.5,542.3L365.0,542.3L365.5,542.2L366.0,542.2L366.5,542.1L367.0,542.1L367.5,542.0L368.0,542.0L368.5,541.9L369.0,541.9L369.5,541.8L370.0,541.8L370.5,541.7L371.0,541.7L371.5,541.6L372.0,541.6L372.5,541.6L373.0,541.5L373.5,541.5L374.0,541.4L374.5,541.4L375.0,541.4L375.5,541.3L376.0,541.3L376.5,541.2L377.0,541.2L377.5,541.2L378.0,541.1L378.5,541.1L379.0,541.1L379.5,541.0L380.0,541.0L380.5,541.0L381.0,541.0L381.5,540.9L382.0,540.9L382.5,540.9L383.0,540.8L383.5,540.8L384.0,540.8L384.5,540.8L385.0,540.7L385.5,540.7L386.0,540.7L386.5,540.7L387.0,540.7L387.5,540.6L388.0,540.6L388.5,540.6L389.0,540.6L389.5,540.5L390.0,540.5L390.5,540.5L391.0,540.5L391.5,540.5L392.0,540.5L392.5,540.4L393.0,540.4L393.5,540.4L394.0,540.4L394.5,540.4L395.0,540.4L395.5,540.3L396.0,540.3L396.5,540.3L397.0,540.3L397.5,540.3L398.0,540.3L398.5,540.2L399.0,540.2L399.5,540.2L400.0,540.2L400.5,540.2L401.0,540.2L401.5,540.2L402.0,540.2L402.5,540.1L403.0,540.1L403.5,540.1L404.0,540.1L404.5,540.1L405.0,540.1L405.5,540.1L406.0,540.1L406.5,540.0L407.0,540.0L407.5,540.0L408.0,540.0L408.5,540.0L409.0,540.0L409.5,540.0L410.0,540.0L410.5,540.0L411.0,540.0L411.5,539.9L412.0,539.9L412.5,539.9L413.0,539.9L413.5,539.9L414.0,539.9L414.5,539.9L415.0,539.9L415.5,539.9L416.0,539.9L416.5,539.9L417.0,539.9L417.5,539.8L418.0,539.8L418.5,539.8L419.0,539.8L419.5,539.8L420.0,539.8L420.5,539.8L421.0,539.8L421.5,539.8L422.0,539.8L422.5,539.8L423.0,539.8L423.5,539.8L424.0,539.8L424.5,539.7L425.0,539.7L425.5,539.7L426.0,539.7L426.5,539.7L427.0,539.7L427.5,539.7L428.0,539.7L428.5,539.7L429.0,539.7L429.5,539.7L430.0,539.7L430.5,539.7L431.0,539.7L431.5,539.7L432.0,539.7L432.5,539.7L433.0,539.7L433.5,539.7L434.0,539.7L434.5,539.6L435.0,539.6L435.5,539.6L436.0,539.6L436.5,539.6L437.0,539.6L437.5,539.6L438.0,539.6L438.5,539.6L439.0,539.6L439.5,539.6L440.0,539.6L440.5,539.6L441.0,539.6L441.5,539.6L442.0,539.6L442.5,539.6L443.0,539.6L443.5,539.6L444.0,539.6L444.5,539.6L445.0,539.6L445.5,539.6L446.0,539.6L446.5,539.6L447.0,539.6L447.5,539.5L448.0,539.5L448.5,539.5L449.0,539.5L449.5,539.5L450.0,539.5L450.5,539.5L451.0,539.5L451.5,539.5L452.0,539.5L452.5,539.5L453.0,539.5L453.5,539.5L454.0,539.5L454.5,539.5L455.0,539.5L455.5,539.5L456.0,539.5L456.5,539.5L457.0,539.5L457.5,539.5L458.0,539.5L458.5,539.5L459.0,539.5L459.5,539.5L460.0,539.5L460.5,539.5L461.0,539.5L461.5,539.5L462.0,539.5L462.5,539.5L463.0,539.5L463.5,539.5L464.0,539.5L464.5,539.5L465.0,539.5L465.5,539.5L466.0,539.5L466.5,539.5L467.0,539.5L467.5,539.4L468.0,539.4L468.5,539.4L469.0,539.4L469.5,539.4L470.0,539.4L470.5,539.4L471.0,539.4L471.5,539.4L472.0,539.4L472.5,539.4L473.0,539.4L473.5,539.4L474.0,539.4L474.5,539.4L475.0,539.4L475.5,539.4L476.0,539.4L476.5,539.4L477.0,539.4L477.5,539.4L478.0,539.4L478.5,539.4L479.0,539.4L479.5,539.4L480.0,539.4L480.5,539.4L481.0,539.4L481.5,539.4L482.0,539.4L482.5,539.4L483.0,539.4L483.5,539.4L484.0,539.4L484.5,539.4L485.0,539.4L485.5,539.4L486.0,539.4L486.5,539.4L487.0,539.4L487.5,539.4L488.0,539.4L488.5,539.4L489.0,539.4L489.5,539.4L490.0,539.4L490.5,539.4L491.0,539.4L491.5,539.4L492.0,539.4L492.5,539.4L493.0,539.4L493.5,539.4L494.0,539.4L494.5,539.4L495.0,539.4L495.5,539.4L496.0,539.4L496.5,539.4L497.0,539.4L497.5,539.4L498.0,539.4L498.5,539.4" fill="none" stroke="#ff0000" stroke-width="1.4" stroke-linejoin="round" />
<path d="M233.5,558.8L234.0,558.8L234.5,558.8L235.0,558.8L235.5,558.8L236.0,558.8L236.5,558.8L237.0,558.8L237.5,558.8L238.0,558.8L238.5,558.7L239.0,558.7L239.5,558.7L240.0,558.7L240.5,558.7L241.0,558.7L241.5,558.7L242.0,558.7L242.5,558.7L243.0,558.6L243.5,558.6L244.0,558.6L244.5,558.6L245.0,558.6L245.5,558.6L246.0,558.6L246.5,558.6L247.0,558.6L247.5,558.5L248.0,558.5L248.5,558.5L249.0,558.5L249.5,558.5L250.0,558.5L250.5,558.5L251.0,558.4L251.5,558.4L252.0,558.4L252.5,558.4L253.0,558.4L253.5,558.4L254.0,558.4L254.5,558.3L255.0,558.3L255.5,558.3L256.0,558.3L256.5,558.3L257.0,558.3L257.5,558.2L258.0,558.2L258.5,558.2L259.0,558.2L259.5,558.2L260.0,558.1L260.5,558.1L261.0,558.1L261.5,558.1L262.0,558.1L262.5,558.0L263.0,558.0L263.5,558.0L264.0,558.0L264.5,558.0L265.0,557.9L265.5,557.9L266.0,557.9L266.5,557.9L267.0,557.8L267.5,557.8L268.0,557.8L268.5,557.8L269.0,557.7L269.5,557.7L270.0,557.7L270.5,557.6L271.0,557.6L271.5,557.6L272.0,557.6L272.5,557.5L273.0,557.5L273.5,557.5L274.0,557.4L274.5,557.4L275.0,557.3L275.5,557.3L276.0,557.3L276.5,557.2L277.0,557.2L277.5,557.1L278.0,557.1L278.5,557.1L279.0,557.0L279.5,557.0L280.0,556.9L280.5,556.9L281.0,556.8L281.5,556.8L282.0,556.7L282.5,556.7L283.0,556.6L283.5,556.5L284.0,556.5L284.5,556.4L285.0,556.3L285.5,556.3L286.0,556.2L286.5,556.1L287.0,556.0L287.5,555.9L288.0,555.8L288.5,555.7L289.0,555.6L289.5,555.5L290.0,555.4L290.5,555.3L291.0,555.1L291.5,555.0L292.0,554.8L292.5,554.7L293.0,554.5L293.5,554.3L294.0,554.1L294.5,553.9L295.0,553.7L295.5,553.5L296.0,553.2L296.5,553.0L297.0,552.7L297.5,552.4L298.0,552.2L298.5,551.9L299.0,551.6L299.5,551.3L300.0,551.1L300.5,550.8L301.0,550.5L301.5,550.3L302.0,550.0L302.5,549.8L303.0,549.5L303.5,549.3L304.0,549.1L304.5,548.8L305.0,548.6L305.5,548.4L306.0,548.1L306.5,547.9L307.0,547.7L307.5,547.4L308.0,547.2L308.5,547.0L309.0,546.7L309.5,546.5L310.0,546.2L310.5,546.0L311.0,545.7L311.5,545.5L312.0,545.2L312.5,544.9L313.0,544.7L313.5,544.4L314.0,544.1L314.5,543.8L315.0,543.6L315.5,543.3L316.0,543.0L316.5,542.7L317.0,542.4L317.5,542.0L318.0,541.7L318.5,541.4L319.0,541.0L319.5,540.7L320.0,540.3L320.5,539.9L321.0,539.5L321.5,539.1L322.0,538.6L322.5,538.2L323.0,537.7L323.5,537.2L324.0,536.6L324.5,536.1L325.0,535.5L325.5,534.9L326.0,534.2L326.5,533.5L327.0,532.8L327.5,532.0L328.0,531.1L328.5,530.2L329.0,529.3L329.5,528.3L330.0,527.2L330.5,526.1L331.0,524.9L331.5,523.6L332.0,522.2L332.5,520.7L333.0,519.1L333.5,517.4L334.0,515.6L334.5,513.7L335.0,511.6L335.5,509.4L336.0,507.1L336.5,504.6L337.0,501.9L337.5,499.1L338.0,496.1L338.5,493.0L339.0,489.6L339.5,486.2L340.0,482.5L340.5,478.7L341.0,474.8L341.5,470.7L342.0,466.6L342.5,462.5L343.0,458.3L343.5,454.3L344.0,450.4L344.5,446.7L345.0,443.3L345.5,440.3L346.0,437.8L346.5,435.8L347.0,434.4L347.5,433.6L348.0,433.5L348.5,433.9L349.0,434.8L349.5,436.2L350.0,438.1L350.5,440.3L351.0,442.9L351.5,445.8L352.0,448.9L352.5,452.1L353.0,455.5L353.5,458.9L354.0,462.4L354.5,465.8L355.0,469.2L355.5,472.6L356.0,475.8L356.5,479.0L357.0,482.0L357.5,484.9L358.0,487.7L358.5,490.4L359.0,492.9L359.5,495.3L360.0,497.6L360.5,499.8L361.0,501.8L361.5,503.7L362.0,505.6L362.5,507.3L363.0,508.9L363.5,510.4L364.0,511.8L364.5,513.2L365.0,514.5L365.5,515.6L366.0,516.8L366.5,517.8L367.0,518.8L367.5,519.7L368.0,520.6L368.5,521.4L369.0,522.2L369.5,522.9L370.0,523.6L370.5,524.3L371.0,524.9L371.5,525.5L372.0,526.0L372.5,526.5L373.0,527.0L373.5,527.5L374.0,527.9L374.5,528.3L375.0,528.7L375.5,529.1L376.0,529.5L376.5,529.8L377.0,530.1L377.5,530.4L378.0,530.7L378.5,531.0L379.0,531.3L379.5,531.5L380.0,531.7L380.5,532.0L381.0,532.2L381.5,532.4L382.0,532.6L382.5,532.8L383.0,533.0L383.5,533.2L384.0,533.4L384.5,533.5L385.0,533.7L385.5,533.8L386.0,534.0L386.5,534.1L387.0,534.3L387.5,534.4L388.0,534.5L388.5,534.6L389.0,534.8L389.5,534.9L390.0,535.0L390.5,535.1L391.0,535.2L391.5,535.3L392.0,535.4L392.5,535.5L393.0,535.6L393.5,535.6L394.0,535.7L394.5,535.8L395.0,535.9L395.5,536.0L396.0,536.0L396.5,536.1L397.0,536.2L397.5,536.2L398.0,536.3L398.5,536.4L399.0,536.4L399.5,536.5L400.0,536.5L400.5,536.6L401.0,536.6L401.5,536.7L402.0,536.7L402.5,536.8L403.0,536.8L403.5,536.9L404.0,536.9L404.5,537.0L405.0,537.0L405.5,537.1L406.0,537.1L406.5,537.1L407.0,537.2L407.5,537.2L408.0,537.2L408.5,537.3L409.0,537.3L409.5,537.3L410.0,537.4L410.5,537.4L411.0,537.4L411.5,537.5L412.0,537.5L412.5,537.5L413.0,537.6L413.5,537.6L414.0,537.6L414.5,537.6L415.0,537.7L415.5,537.7L416.0,537.7L416.5,537.7L417.0,537.8L417.5,537.8L418.0,537.8L418.5,537.8L419.0,537.8L419.5,537.9L420.0,537.9L420.5,537.9L421.0,537.9L421.5,537.9L422.0,538.0L422.5,538.0L423.0,538.0L423.5,538.0L424.0,538.0L424.5,538.0L425.0,538.1L425.5,538.1L426.0,538.1L426.5,538.1L427.0,538.1L427.5,538.1L428.0,538.1L428.5,538.2L429.0,538.2L429.5,538.2L430.0,538.2L430.5,538.2L431.0,538.2L431.5,538.2L432.0,538.3L432.5,538.3L433.0,538.3L433.5,538.3L434.0,538.3L434.5,538.3L435.0,538.3L435.5,538.3L436.0,538.3L436.5,538.4L437.0,538.4L437.5,538.4L438.0,538.4L438.5,538.4L439.0,538.4L439.5,538.4L440.0,538.4L440.5,538.4L441.0,538.4L441.5,538.4L442.0,538.5L442.5,538.5L443.0,538.5L443.5,538.5L444.0,538.5L444.5,538.5L445.0,538.5L445.5,538.5L446.0,538.5L446.5,538.5L447.0,538.5L447.5,538.5L448.0,538.6L448.5,538.6L449.0,538.6L449.5,538.6L450.0,538.6L450.5,538.6L451.0,538.6L451.5,538.6L452.0,538.6L452.5,538.6L453.0,538.6L453.5,538.6L454.0,538.6L454.5,538.6L455.0,538.6L455.5,538.6L456.0,538.6L456.5,538.7L457.0,538.7L457.5,538.7L458.0,538.7L458.5,538.7L459.0,538.7L459.5,538.7L460.0,538.7L460.5,538.7L461.0,538.7L461.5,538.7L462.0,538.7L462.5,538.7L463.0,538.7L463.5,538.7L464.0,538.7L464.5,538.7L465.0,538.7L465.5,538.7L466.0,538.7L466.5,538.7L467.0,538.8L467.5,538.8L468.0,538.8L468.5,538.8L469.0,538.8L469.5,538.8L470.0,538.8L470.5,538.8L471.0,538.8L471.5,538.8L472.0,538.8L472.5,538.8L473.0,538.8L473.5,538.8L474.0,538.8L474.5,538.8L475.0,538.8L475.5,538.8L476.0,538.8L476.5,538.8L477.0,538.8L477.5,538.8L478.0,538.8L478.5,538.8L479.0,538.8L479.5,538.8L480.0,538.8L480.5,538.8L481.0,538.8L481.5,538.8L482.0,538.8L482.5,538.8L483.0,538.9L483.5,538.9L484.0,538.9L484.5,538.9L485.0,538.9L485.5,538.9L486.0,538.9L486.5,538.9L487.0,538.9L487.5,538.9L488.0,538.9L488.5,538.9L489.0,538.9L489.5,538.9L490.0,538.9L490.5,538.9L491.0,538.9L491.5,538.9L492.0,538.9L492.5,538.9L493.0,538.9L493.5,538.9L494.0,538.9L494.5,538.9L495.0,538.9L495.5,538.9L496.0,538.9L496.5,538.9L497.0,538.9L497.5,538.9L498.0,538.9L498.5,538.9" fill="none" stroke="#ff00ff" stroke-width="1.4" stroke-linejoin="round" />
<path d="M233.5,558.2L234.0,558.2L234.5,558.1L235.0,558.1L235.5,558.1L236.0,558.1L236.5,558.0L237.0,558.0L237.5,558.0L238.0,558.0L238.5,557.9L239.0,557.9L239.5,557.9L240.0,557.8L240.5,557.8L241.0,557.8L241.5,557.7L242.0,557.7L242.5,557.7L243.0,557.6L243.5,557.6L244.0,557.6L244.5,557.5L245.0,557.5L245.5,557.4L246.0,557.4L246.5,557.4L247.0,557.3L247.5,557.3L248.0,557.2L248.5,557.2L249.0,557.1L249.5,557.1L250.0,557.0L250.5,557.0L251.0,556.9L251.5,556.9L252.0,556.8L252.5,556.7L253.0,556.7L253.5,556.6L254.0,556.6L254.5,556.5L255.0,556.4L255.5,556.3L256.0,556.3L256.5,556.2L257.0,556.1L257.5,556.0L258.0,555.9L258.5,555.9L259.0,555.8L259.5,555.7L260.0,555.6L260.5,555.5L261.0,555.4L261.5,555.2L262.0,555.1L262.5,555.0L263.0,554.9L263.5,554.8L264.0,554.6L264.5,554.5L265.0,554.3L265.5,554.2L266.0,554.0L266.5,553.9L267.0,553.7L267.5,553.5L268.0,553.3L268.5,553.1L269.0,552.9L269.5,552.7L270.0,552.4L270.5,552.2L271.0,551.9L271.5,551.7L272.0,551.4L272.5,551.1L273.0,550.8L273.5,550.5L274.0,550.1L274.5,549.7L275.0,549.4L275.5,548.9L276.0,548.5L276.5,548.0L277.0,547.5L277.5,547.0L278.0,546.4L278.5,545.8L279.0,545.2L279.5,544.5L280.0,543.7L280.5,542.9L281.0,542.0L281.5,541.0L282.0,540.0L282.5,538.8L283.0,537.5L283.5,536.1L284.0,534.6L284.5,532.9L285.0,531.0L285.5,528.9L286.0,526.6L286.5,524.0L287.0,521.1L287.5,517.9L288.0,514.4L288.5,510.5L289.0,506.2L289.5,501.4L290.0,496.2L290.5,490.5L291.0,484.3L291.5,477.6L292.0,470.4L292.5,462.7L293.0,454.5L293.5,446.0L294.0,437.2L294.5,428.3L295.0,419.5L295.5,411.0L296.0,403.3L296.5,396.5L297.0,391.2L297.5,387.5L298.0,385.7L298.5,385.9L299.0,388.0L299.5,392.0L300.0,397.6L300.5,404.4L301.0,412.1L301.5,420.4L302.0,428.9L302.5,437.5L303.0,445.9L303.5,454.0L304.0,461.7L304.5,469.0L305.0,475.8L305.5,482.1L306.0,487.9L306.5,493.2L307.0,498.0L307.5,502.4L308.0,506.4L308.5,509.9L309.0,513.2L309.5,516.1L310.0,518.7L310.5,521.0L311.0,523.1L311.5,525.0L312.0,526.7L312.5,528.2L313.0,529.5L313.5,530.8L314.0,531.9L314.5,532.9L315.0,533.8L315.5,534.6L316.0,535.4L316.5,536.1L317.0,536.8L317.5,537.4L318.0,537.9L318.5,538.5L319.0,538.9L319.5,539.4L320.0,539.8L320.5,540.2L321.0,540.6L321.5,540.9L322.0,541.3L322.5,541.6L323.0,541.9L323.5,542.1L324.0,542.4L324.5,542.6L325.0,542.9L325.5,543.1L326.0,543.3L326.5,543.5L327.0,543.6L327.5,543.8L328.0,544.0L328.5,544.1L329.0,544.3L329.5,544.4L330.0,544.5L330.5,544.6L331.0,544.7L331.5,544.8L332.0,544.9L332.5,545.0L333.0,545.1L333.5,545.2L334.0,545.2L334.5,545.3L335.0,545.3L335.5,545.4L336.0,545.4L336.5,545.5L337.0,545.5L337.5,545.5L338.0,545.5L338.5,545.5L339.0,545.5L339.5,545.5L340.0,545.5L340.5,545.4L341.0,545.4L341.5,545.4L342.0,545.3L342.5,545.3L343.0,545.2L343.5,545.1L344.0,545.0L344.5,544.9L345.0,544.8L345.5,544.7L346.0,544.6L346.5,544.5L347.0,544.4L347.5,544.3L348.0,544.2L348.5,544.1L349.0,544.0L349.5,543.9L350.0,543.8L350.5,543.7L351.0,543.5L351.5,543.4L352.0,543.3L352.5,543.3L353.0,543.2L353.5,543.1L354.0,543.0L354.5,542.9L355.0,542.8L355.5,542.7L356.0,542.7L356.5,542.6L357.0,542.5L357.5,542.5L358.0,542.4L358.5,542.3L359.0,542.3L359.5,542.2L360.0,542.2L360.5,542.1L361.0,542.0L361.5,542.0L362.0,541.9L362.5,541.9L363.0,541.8L363.5,541.8L364.0,541.7L364.5,541.7L365.0,541.6L365.5,541.6L366.0,541.5L366.5,541.5L367.0,541.4L367.5,541.4L368.0,541.4L368.5,541.3L369.0,541.3L369.5,541.2L370.0,541.2L370.5,541.2L371.0,541.1L371.5,541.1L372.0,541.0L372.5,541.0L373.0,541.0L373.5,540.9L374.0,540.9L374.5,540.9L375.0,540.8L375.5,540.8L376.0,540.8L376.5,540.7L377.0,540.7L377.5,540.7L378.0,540.7L378.5,540.6L379.0,540.6L379.5,540.6L380.0,540.5L380.5,540.5L381.0,540.5L381.5,540.5L382.0,540.5L382.5,540.4L383.0,540.4L383.5,540.4L384.0,540.4L384.5,540.3L385.0,540.3L385.5,540.3L386.0,540.3L386.5,540.3L387.0,540.3L387.5,540.2L388.0,540.2L388.5,540.2L389.0,540.2L389.5,540.2L390.0,540.1L390.5,540.1L391.0,540.1L391.5,540.1L392.0,540.1L392.5,540.1L393.0,540.1L393.5,540.0L394.0,540.0L394.5,540.0L395.0,540.0L395.5,540.0L396.0,540.0L396.5,540.0L397.0,540.0L397.5,539.9L398.0,539.9L398.5,539.9L399.0,539.9L399.5,539.9L400.0,539.9L400.5,539.9L401.0,539.9L401.5,539.9L402.0,539.8L402.5,539.8L403.0,539.8L403.5,539.8L404.0,539.8L404.5,539.8L405.0,539.8L405.5,539.8L406.0,539.8L406.5,539.8L407.0,539.8L407.5,539.7L408.0,539.7L408.5,539.7L409.0,539.7L409.5,539.7L410.0,539.7L410.5,539.7L411.0,539.7L411.5,539.7L412.0,539.7L412.5,539.7L413.0,539.7L413.5,539.7L414.0,539.7L414.5,539.6L415.0,539.6L415.5,539.6L416.0,539.6L416.5,539.6L417.0,539.6L417.5,539.6L418.0,539.6L418.5,539.6L419.0,539.6L419.5,539.6L420.0,539.6L420.5,539.6L421.0,539.6L421.5,539.6L422.0,539.6L422.5,539.6L423.0,539.6L423.5,539.5L424.0,539.5L424.5,539.5L425.0,539.5L425.5,539.5L426.0,539.5L426.5,539.5L427.0,539.5L427.5,539.5L428.0,539.5L428.5,539.5L429.0,539.5L429.5,539.5L430.0,539.5L430.5,539.5L431.0,539.5L431.5,539.5L432.0,539.5L432.5,539.5L433.0,539.5L433.5,539.5L434.0,539.5L434.5,539.5L435.0,539.5L435.5,539.5L436.0,539.5L436.5,539.4L437.0,539.4L437.5,539.4L438.0,539.4L438.5,539.4L439.0,539.4L439.5,539.4L440.0,539.4L440.5,539.4L441.0,539.4L441.5,539.4L442.0,539.4L442.5,539.4L443.0,539.4L443.5,539.4L444.0,539.4L444.5,539.4L445.0,539.4L445.5,539.4L446.0,539.4L446.5,539.4L447.0,539.4L447.5,539.4L448.0,539.4L448.5,539.4L449.0,539.4L449.5,539.4L450.0,539.4L450.5,539.4L451.0,539.4L451.5,539.4L452.0,539.4L452.5,539.4L453.0,539.4L453.5,539.4L454.0,539.4L454.5,539.4L455.0,539.4L455.5,539.4L456.0,539.4L456.5,539.4L457.0,539.4L457.5,539.4L458.0,539.4L458.5,539.4L459.0,539.4L459.5,539.3L460.0,539.3L460.5,539.3L461.0,539.3L461.5,539.3L462.0,539.3L462.5,539.3L463.0,539.3L463.5,539.3L464.0,539.3L464.5,539.3L465.0,539.3L465.5,539.3L466.0,539.3L466.5,539.3L467.0,539.3L467.5,539.3L468.0,539.3L468.5,539.3L469.0,539.3L469.5,539.3L470.0,539.3L470.5,539.3L471.0,539.3L471.5,539.3L472.0,539.3L472.5,539.3L473.0,539.3L473.5,539.3L474.0,539.3L474.5,539.3L475.0,539.3L475.5,539.3L476.0,539.3L476.5,539.3L477.0,539.3L477.5,539.3L478.0,539.3L478.5,539.3L479.0,539.3L479.5,539.3L480.0,539.3L480.5,539.3L481.0,539.3L481.5,539.3L482.0,539.3L482.5,539.3L483.0,539.3L483.5,539.3L484.0,539.3L484.5,539.3L485.0,539.3L485.5,539.3L486.0,539.3L486.5,539.3L487.0,539.3L487.5,539.3L488.0,539.3L488.5,539.3L489.0,539.3L489.5,539.3L490.0,539.3L490.5,539.3L491.0,539.3L491.5,539.3L492.0,539.3L492.5,539.3L493.0,539.3L493.5,539.3L494.0,539.3L494.5,539.3L495.0,539.3L495.5,539.3L496.0,539.3L496.5,539.3L497.0,539.3L497.5,539.3L498.0,539.3L498.5,539.3" fill="none" stroke="#0000ff" stroke-width="1.4" stroke-linejoin="round" />
<path d="M233.5,556.9L234.0,556.9L234.5,556.8L235.0,556.8L235.5,556.8L236.0,556.7L236.5,556.7L237.0,556.7L237.5,556.6L238.0,556.6L238.5,556.5L239.0,556.5L239.5,556.4L240.0,556.4L240.5,556.4L241.0,556.3L241.5,556.3L242.0,556.2L242.5,556.2L243.0,556.1L243.5,556.1L244.0,556.0L244.5,556.0L245.0,555.9L245.5,555.8L246.0,555.8L246.5,555.7L247.0,555.7L247.5,555.6L248.0,555.5L248.5,555.5L249.0,555.4L249.5,555.3L250.0,555.3L250.5,555.2L251.0,555.1L251.5,555.0L252.0,555.0L252.5,554.9L253.0,554.8L253.5,554.7L254.0,554.6L254.5,554.5L255.0,554.4L255.5,554.3L256.0,554.2L256.5,554.1L257.0,554.0L257.5,553.9L258.0,553.8L258.5,553.7L259.0,553.6L259.5,553.4L260.0,553.3L260.5,553.2L261.0,553.1L261.5,552.9L262.0,552.8L262.5,552.6L263.0,552.5L263.5,552.3L264.0,552.1L264.5,551.9L265.0,551.8L265.5,551.6L266.0,551.4L266.5,551.2L267.0,551.0L267.5,550.7L268.0,550.5L268.5,550.3L269.0,550.0L269.5,549.7L270.0,549.5L270.5,549.2L271.0,548.9L271.5,548.6L272.0,548.2L272.5,547.9L273.0,547.5L273.5,547.1L274.0,546.7L274.5,546.3L275.0,545.8L275.5,545.4L276.0,544.8L276.5,544.3L277.0,543.7L277.5,543.1L278.0,542.5L278.5,541.8L279.0,541.1L279.5,540.3L280.0,539.4L280.5,538.5L281.0,537.6L281.5,536.5L282.0,535.3L282.5,534.1L283.0,532.7L283.5,531.2L284.0,529.5L284.5,527.7L285.0,525.7L285.5,523.4L286.0,521.0L286.5,518.2L287.0,515.2L287.5,511.9L288.0,508.2L288.5,504.1L289.0,499.6L289.5,494.6L290.0,489.1L290.5,483.1L291.0,476.6L291.5,469.5L292.0,461.8L292.5,453.6L293.0,444.8L293.5,435.5L294.0,425.9L294.5,416.1L295.0,406.3L295.5,396.8L296.0,388.0L296.5,380.1L297.0,373.7L297.5,368.9L298.0,366.1L298.5,365.3L299.0,366.5L299.5,369.6L300.0,374.2L300.5,380.1L301.0,386.7L301.5,393.8L302.0,401.0L302.5,408.0L303.0,414.8L303.5,421.0L304.0,426.6L304.5,431.7L305.0,436.1L305.5,439.9L306.0,443.1L306.5,445.8L307.0,448.1L307.5,450.0L308.0,451.6L308.5,453.0L309.0,454.3L309.5,455.7L310.0,457.2L310.5,458.8L311.0,460.7L311.5,462.8L312.0,465.2L312.5,467.8L313.0,470.7L313.5,473.6L314.0,476.7L314.5,479.9L315.0,483.1L315.5,486.2L316.0,489.2L316.5,492.2L317.0,495.0L317.5,497.7L318.0,500.2L318.5,502.5L319.0,504.7L319.5,506.7L320.0,508.5L320.5,510.2L321.0,511.6L321.5,513.0L322.0,514.1L322.5,515.1L323.0,515.9L323.5,516.6L324.0,517.2L324.5,517.6L325.0,517.9L325.5,518.1L326.0,518.2L326.5,518.2L327.0,518.0L327.5,517.8L328.0,517.4L328.5,517.0L329.0,516.4L329.5,515.8L330.0,515.0L330.5,514.2L331.0,513.2L331.5,512.1L332.0,510.8L332.5,509.5L333.0,508.0L333.5,506.3L334.0,504.4L334.5,502.4L335.0,500.1L335.5,497.7L336.0,495.0L336.5,492.0L337.0,488.9L337.5,485.4L338.0,481.6L338.5,477.6L339.0,473.3L339.5,468.8L340.0,464.0L340.5,459.0L341.0,453.8L341.5,448.5L342.0,443.0L342.5,437.6L343.0,432.3L343.5,427.1L344.0,422.2L344.5,417.6L345.0,413.6L345.5,410.0L346.0,407.2L346.5,405.1L347.0,403.7L347.5,403.2L348.0,403.5L348.5,404.5L349.0,406.1L349.5,408.2L350.0,410.8L350.5,413.8L351.0,417.2L351.5,420.7L352.0,424.4L352.5,428.2L353.0,432.0L353.5,435.7L354.0,439.3L354.5,442.8L355.0,446.2L355.5,449.3L356.0,452.3L356.5,455.2L357.0,457.8L357.5,460.3L358.0,462.6L358.5,464.7L359.0,466.7L359.5,468.5L360.0,470.2L360.5,471.8L361.0,473.3L361.5,474.8L362.0,476.1L362.5,477.4L363.0,478.6L363.5,479.7L364.0,480.9L364.5,481.9L365.0,483.0L365.5,484.1L366.0,485.1L366.5,486.2L367.0,487.2L367.5,488.2L368.0,489.1L368.5,490.1L369.0,491.1L369.5,492.0L370.0,493.0L370.5,493.9L371.0,494.8L371.5,495.8L372.0,496.7L372.5,497.6L373.0,498.5L373.5,499.4L374.0,500.2L374.5,501.1L375.0,501.9L375.5,502.8L376.0,503.6L376.5,504.4L377.0,505.2L377.5,506.0L378.0,506.7L378.5,507.5L379.0,508.2L379.5,508.9L380.0,509.6L380.5,510.3L381.0,511.0L381.5,511.6L382.0,512.2L382.5,512.8L383.0,513.4L383.5,514.0L384.0,514.6L384.5,515.1L385.0,515.6L385.5,516.1L386.0,516.6L386.5,517.1L387.0,517.6L387.5,518.0L388.0,518.5L388.5,518.9L389.0,519.3L389.5,519.7L390.0,520.1L390.5,520.5L391.0,520.8L391.5,521.2L392.0,521.5L392.5,521.9L393.0,522.2L393.5,522.5L394.0,522.8L394.5,523.1L395.0,523.4L395.5,523.7L396.0,524.0L396.5,524.3L397.0,524.5L397.5,524.8L398.0,525.0L398.5,525.3L399.0,525.5L399.5,525.8L400.0,526.0L400.5,526.2L401.0,526.4L401.5,526.7L402.0,526.9L402.5,527.1L403.0,527.3L403.5,527.5L404.0,527.7L404.5,527.9L405.0,528.1L405.5,528.3L406.0,528.4L406.5,528.6L407.0,528.8L407.5,529.0L408.0,529.1L408.5,529.3L409.0,529.5L409.5,529.6L410.0,529.8L410.5,530.0L411.0,530.1L411.5,530.3L412.0,530.4L412.5,530.6L413.0,530.7L413.5,530.8L414.0,531.0L414.5,531.1L415.0,531.3L415.5,531.4L416.0,531.5L416.5,531.6L417.0,531.8L417.5,531.9L418.0,532.0L418.5,532.1L419.0,532.2L419.5,532.4L420.0,532.5L420.5,532.6L421.0,532.7L421.5,532.8L422.0,532.9L422.5,533.0L423.0,533.1L423.5,533.2L424.0,533.3L424.5,533.4L425.0,533.5L425.5,533.6L426.0,533.7L426.5,533.8L427.0,533.8L427.5,533.9L428.0,534.0L428.5,534.1L429.0,534.2L429.5,534.2L430.0,534.3L430.5,534.4L431.0,534.5L431.5,534.5L432.0,534.6L432.5,534.7L433.0,534.7L433.5,534.8L434.0,534.9L434.5,534.9L435.0,535.0L435.5,535.1L436.0,535.1L436.5,535.2L437.0,535.2L437.5,535.3L438.0,535.3L438.5,535.4L439.0,535.5L439.5,535.5L440.0,535.6L440.5,535.6L441.0,535.7L441.5,535.7L442.0,535.8L442.5,535.8L443.0,535.8L443.5,535.9L444.0,535.9L444.5,536.0L445.0,536.0L445.5,536.1L446.0,536.1L446.5,536.1L447.0,536.2L447.5,536.2L448.0,536.3L448.5,536.3L449.0,536.3L449.5,536.4L450.0,536.4L450.5,536.4L451.0,536.5L451.5,536.5L452.0,536.5L452.5,536.6L453.0,536.6L453.5,536.6L454.0,536.7L454.5,536.7L455.0,536.7L455.5,536.7L456.0,536.8L456.5,536.8L457.0,536.8L457.5,536.9L458.0,536.9L458.5,536.9L459.0,536.9L459.5,537.0L460.0,537.0L460.5,537.0L461.0,537.0L461.5,537.0L462.0,537.1L462.5,537.1L463.0,537.1L463.5,537.1L464.0,537.2L464.5,537.2L465.0,537.2L465.5,537.2L466.0,537.2L466.5,537.3L467.0,537.3L467.5,537.3L468.0,537.3L468.5,537.3L469.0,537.4L469.5,537.4L470.0,537.4L470.5,537.4L471.0,537.4L471.5,537.4L472.0,537.5L472.5,537.5L473.0,537.5L473.5,537.5L474.0,537.5L474.5,537.5L475.0,537.5L475.5,537.6L476.0,537.6L476.5,537.6L477.0,537.6L477.5,537.6L478.0,537.6L478.5,537.6L479.0,537.7L479.5,537.7L480.0,537.7L480.5,537.7L481.0,537.7L481.5,537.7L482.0,537.7L482.5,537.8L483.0,537.8L483.5,537.8L484.0,537.8L484.5,537.8L485.0,537.8L485.5,537.8L486.0,537.8L486.5,537.8L487.0,537.9L487.5,537.9L488.0,537.9L488.5,537.9L489.0,537.9L489.5,537.9L490.0,537.9L490.5,537.9L491.0,537.9L491.5,537.9L492.0,538.0L492.5,538.0L493.0,538.0L493.5,538.0L494.0,538.0L494.5,538.0L495.0,538.0L495.5,538.0L496.0,538.0L496.5,538.0L497.0,538.0L497.5,538.1L498.0,538.1L498.5,538.1" fill="none" stroke="#111" stroke-width="1.5" stroke-linejoin="round" />
<rect x="370.40" y="337.20" width="132.80" height="63.10" fill="#fff" stroke="#333" stroke-width="1.0"/>
<text x="374.80" y="355.00" font-size="15" font-weight="bold">a.</text>
<text x="387.30" y="355.00" font-size="15" font-weight="bold">Pt</text>
<text x="400.00" y="348.00" font-size="8" font-weight="bold">0</text>
<text x="411.00" y="355.00" font-size="15" textLength="44.00" lengthAdjust="spacing" font-weight="bold">(71.2eV/</text>
<text x="461.00" y="355.00" font-size="15" textLength="39.30" lengthAdjust="spacing" font-weight="bold">74.6eV)</text>
<text x="374.80" y="375.80" font-size="15" font-weight="bold">b.</text>
<text x="387.30" y="375.80" font-size="15" font-weight="bold">Pt</text>
<text x="400.00" y="368.80" font-size="8" font-weight="bold">2+</text>
<text x="410.00" y="375.80" font-size="15" textLength="44.00" lengthAdjust="spacing" font-weight="bold">(72.1eV/</text>
<text x="461.00" y="375.80" font-size="15" textLength="39.30" lengthAdjust="spacing" font-weight="bold">75.9eV)</text>
<text x="374.80" y="396.10" font-size="15" font-weight="bold">c.</text>
<text x="387.30" y="396.10" font-size="15" font-weight="bold">Pt</text>
<text x="400.00" y="389.10" font-size="8" font-weight="bold">4+</text>
<text x="410.00" y="396.10" font-size="15" textLength="44.00" lengthAdjust="spacing" font-weight="bold">(74.4eV/</text>
<text x="459.50" y="396.10" font-size="15" textLength="40.00" lengthAdjust="spacing" font-weight="bold">77.5eV)</text>
<text x="321.90" y="434.30" font-size="15" font-weight="bold" stroke="#000" stroke-width="0.35">a</text>
<path d="M318.30,437.00L308.57,450.90" stroke="#222" stroke-width="0.8"/>
<path d="M305.70,455.00L306.93,449.76L310.21,452.05Z" fill="#111"/>
<path d="M330.00,433.40L341.08,445.86" stroke="#222" stroke-width="0.8"/>
<path d="M344.40,449.60L339.58,447.19L342.57,444.53Z" fill="#111"/>
<text x="325.80" y="476.70" font-size="15" font-weight="bold" stroke="#000" stroke-width="0.35">b</text>
<path d="M323.80,479.70L316.37,490.84" stroke="#222" stroke-width="0.8"/>
<path d="M313.60,495.00L314.71,489.73L318.04,491.95Z" fill="#111"/>
<path d="M331.90,478.70L354.70,514.29" stroke="#222" stroke-width="0.8"/>
<path d="M357.40,518.50L353.02,515.37L356.39,513.21Z" fill="#111"/>
<text x="374.70" y="561.30" font-size="15" font-weight="bold" stroke="#000" stroke-width="0.35">c</text>
<path d="M371.70,558.20L345.07,537.84" stroke="#222" stroke-width="0.8"/>
<path d="M341.10,534.80L346.29,536.25L343.86,539.43Z" fill="#111"/>
<path d="M383.90,554.10L390.15,538.44" stroke="#222" stroke-width="0.8"/>
<path d="M392.00,533.80L392.00,539.19L388.29,537.70Z" fill="#111"/>
<rect x="588.80" y="340.50" width="293.80" height="244.60" fill="none" stroke="#111" stroke-width="1.3"/>
<path d="M603.80,585.10V589.60M650.27,585.10V589.60M696.74,585.10V589.60M743.21,585.10V589.60M789.68,585.10V589.60M836.15,585.10V589.60M882.62,585.10V589.60M627.03,585.10V587.60M673.50,585.10V587.60M719.97,585.10V587.60M766.44,585.10V587.60M812.91,585.10V587.60M859.38,585.10V587.60" stroke="#111" stroke-width="1.2" fill="none"/>
<text x="603.80" y="607.00" font-size="19" font-weight="bold" text-anchor="middle" textLength="24.90" lengthAdjust="spacing" >225</text>
<text x="650.27" y="607.00" font-size="19" font-weight="bold" text-anchor="middle" textLength="24.90" lengthAdjust="spacing" >228</text>
<text x="696.74" y="607.00" font-size="19" font-weight="bold" text-anchor="middle" textLength="24.90" lengthAdjust="spacing" >231</text>
<text x="743.21" y="607.00" font-size="19" font-weight="bold" text-anchor="middle" textLength="24.90" lengthAdjust="spacing" >234</text>
<text x="789.68" y="607.00" font-size="19" font-weight="bold" text-anchor="middle" textLength="24.90" lengthAdjust="spacing" >237</text>
<text x="836.15" y="607.00" font-size="19" font-weight="bold" text-anchor="middle" textLength="24.90" lengthAdjust="spacing" >240</text>
<text x="882.62" y="607.00" font-size="19" font-weight="bold" text-anchor="middle" textLength="24.90" lengthAdjust="spacing" >243</text>
<text x="677.40" y="632.20" font-size="19.5" font-weight="bold" textLength="53.61" lengthAdjust="spacing">Binding</text>
<text x="734.64" y="632.20" font-size="19.5" font-weight="bold" textLength="46.12" lengthAdjust="spacing">energy</text>
<text x="783.71" y="632.20" font-size="19.5" font-weight="bold" textLength="33.09" lengthAdjust="spacing">(eV)</text>
<text x="569.00" y="465.35" font-size="21.8" text-anchor="middle" textLength="111.50" lengthAdjust="spacing" transform="rotate(-90 569.00 465.35)" stroke="#000" stroke-width="0.3">Intensity (a.u.)</text>
<text x="594.70" y="362.60" font-size="19.5" font-weight="bold" textLength="21.30" lengthAdjust="spacing">(d)</text>
<text x="617.50" y="362.60" font-size="19.5" font-weight="bold" textLength="31.90" lengthAdjust="spacing">XPS</text>
<text x="653.30" y="362.60" font-size="19.5" font-weight="bold" textLength="41.80" lengthAdjust="spacing">Mo<tspan font-style="italic">3d</tspan></text>
<path d="M599.5,555.3L600.0,555.7L600.5,553.3L601.0,553.8L601.5,553.7L602.0,556.7L602.5,554.6L603.0,556.2L603.5,556.0L604.0,553.8L604.5,556.0L605.0,556.6L605.5,556.4L606.0,555.9L606.5,555.3L607.0,551.1L607.5,550.5L608.0,553.7L608.5,554.0L609.0,554.2L609.5,555.5L610.0,556.4L610.5,557.3L611.0,555.1L611.5,554.7L612.0,554.6L612.5,554.3L613.0,555.1L613.5,556.4L614.0,556.1L614.5,554.7L615.0,555.0L615.5,555.0L616.0,555.5L616.5,554.0L617.0,552.6L617.5,554.0L618.0,554.6L618.5,556.1L619.0,555.0L619.5,555.3L620.0,555.2L620.5,554.1L621.0,556.0L621.5,556.4L622.0,555.9L622.5,556.5L623.0,555.8L623.5,552.4L624.0,551.9L624.5,555.5L625.0,555.4L625.5,554.5L626.0,554.5L626.5,555.1L627.0,557.8L627.5,555.2L628.0,553.4L628.5,549.9L629.0,553.4L629.5,550.8L630.0,552.5L630.5,555.2L631.0,553.5L631.5,553.9L632.0,553.2L632.5,553.4L633.0,553.5L633.5,550.6L634.0,554.6L634.5,552.4L635.0,552.8L635.5,550.4L636.0,552.1L636.5,554.1L637.0,553.4L637.5,551.3L638.0,548.9L638.5,551.0L639.0,553.6L639.5,553.1L640.0,552.9L640.5,552.5L641.0,553.4L641.5,555.9L642.0,555.4L642.5,554.5L643.0,555.2L643.5,554.3L644.0,552.2L644.5,554.6L645.0,553.6L645.5,551.5L646.0,553.4L646.5,554.3L647.0,555.1L647.5,556.1L648.0,553.4L648.5,550.8L649.0,551.1L649.5,551.8L650.0,550.6L650.5,549.6L651.0,550.8L651.5,553.2L652.0,554.0L652.5,552.9L653.0,550.9L653.5,552.8L654.0,554.2L654.5,552.2L655.0,550.6L655.5,552.8L656.0,553.4L656.5,554.4L657.0,553.7L657.5,554.9L658.0,553.6L658.5,554.2L659.0,554.4L659.5,554.9L660.0,551.6L660.5,550.7L661.0,551.4L661.5,550.3L662.0,553.8L662.5,553.1L663.0,551.1L663.5,549.8L664.0,550.2L664.5,551.1L665.0,553.6L665.5,552.1L666.0,552.8L666.5,553.1L667.0,550.9L667.5,550.7L668.0,552.2L668.5,552.5L669.0,549.3L669.5,552.8L670.0,551.1L670.5,552.0L671.0,552.6L671.5,550.2L672.0,550.7L672.5,552.6L673.0,549.9L673.5,547.9L674.0,545.6L674.5,547.0L675.0,549.4L675.5,550.6L676.0,547.7L676.5,548.7L677.0,552.7L677.5,551.9L678.0,550.7L678.5,551.2L679.0,551.2L679.5,551.9L680.0,552.1L680.5,550.7L681.0,549.8L681.5,550.6L682.0,551.2L682.5,550.3L683.0,551.4L683.5,550.5L684.0,551.9L684.5,548.9L685.0,547.2L685.5,548.4L686.0,549.0L686.5,549.8L687.0,552.5L687.5,549.1L688.0,546.9L688.5,545.8L689.0,546.9L689.5,548.4L690.0,549.0L690.5,547.9L691.0,548.2L691.5,547.7L692.0,545.7L692.5,546.0L693.0,545.8L693.5,546.0L694.0,547.7L694.5,545.5L695.0,545.4L695.5,546.9L696.0,547.3L696.5,546.0L697.0,545.2L697.5,544.4L698.0,543.8L698.5,543.8L699.0,542.2L699.5,540.2L700.0,540.3L700.5,541.1L701.0,540.9L701.5,540.7L702.0,541.5L702.5,541.4L703.0,540.1L703.5,538.0L704.0,536.8L704.5,536.3L705.0,535.4L705.5,535.3L706.0,535.8L706.5,534.7L707.0,532.2L707.5,530.5L708.0,529.5L708.5,528.5L709.0,527.7L709.5,526.2L710.0,523.6L710.5,520.7L711.0,518.1L711.5,515.6L712.0,514.2L712.5,512.5L713.0,509.4L713.5,506.4L714.0,503.4L714.5,498.9L715.0,493.2L715.5,488.2L716.0,484.0L716.5,479.8L717.0,473.8L717.5,466.6L718.0,460.1L718.5,454.5L719.0,448.2L719.5,440.3L720.0,431.8L720.5,422.9L721.0,414.5L721.5,406.8L722.0,398.4L722.5,390.8L723.0,384.7L723.5,378.2L724.0,372.0L724.5,367.9L725.0,364.9L725.5,362.3L726.0,360.7L726.5,360.7L727.0,362.2L727.5,366.5L728.0,372.9L728.5,379.5L729.0,386.2L729.5,393.3L730.0,400.7L730.5,408.8L731.0,417.0L731.5,424.5L732.0,432.2L732.5,441.1L733.0,449.4L733.5,456.4L734.0,462.6L734.5,468.0L735.0,473.6L735.5,479.1L736.0,483.5L736.5,487.1L737.0,491.7L737.5,496.8L738.0,501.2L738.5,503.5L739.0,505.1L739.5,507.5L740.0,510.3L740.5,512.8L741.0,514.7L741.5,516.0L742.0,517.6L742.5,520.1L743.0,522.2L743.5,523.1L744.0,523.7L744.5,525.3L745.0,527.2L745.5,527.9L746.0,527.9L746.5,528.3L747.0,529.1L747.5,530.0L748.0,530.7L748.5,531.4L749.0,531.9L749.5,532.5L750.0,533.1L750.5,533.1L751.0,532.5L751.5,532.6L752.0,532.9L752.5,532.1L753.0,531.2L753.5,531.0L754.0,531.2L754.5,531.8L755.0,532.6L755.5,533.0L756.0,532.7L756.5,532.5L757.0,532.2L757.5,530.8L758.0,529.1L758.5,527.9L759.0,527.3L759.5,527.3L760.0,528.0L760.5,527.8L761.0,525.6L761.5,522.7L762.0,520.6L762.5,519.4L763.0,517.9L763.5,515.4L764.0,513.3L764.5,511.6L765.0,509.6L765.5,506.7L766.0,502.4L766.5,497.5L767.0,492.9L767.5,488.5L768.0,484.5L768.5,480.6L769.0,476.6L769.5,471.8L770.0,466.2L770.5,459.7L771.0,453.4L771.5,448.1L772.0,443.4L772.5,438.8L773.0,434.6L773.5,431.5L774.0,428.8L774.5,427.4L775.0,427.3L775.5,428.4L776.0,430.1L776.5,432.6L777.0,437.1L777.5,442.1L778.0,446.2L778.5,450.9L779.0,456.6L779.5,461.7L780.0,466.6L780.5,471.9L781.0,477.4L781.5,482.7L782.0,487.4L782.5,491.1L783.0,494.0L783.5,497.5L784.0,502.3L784.5,507.1L785.0,511.1L785.5,514.6L786.0,517.6L786.5,519.3L787.0,519.7L787.5,520.7L788.0,523.2L788.5,525.8L789.0,527.6L789.5,529.3L790.0,530.5L790.5,530.2L791.0,530.4L791.5,531.4L792.0,533.6L792.5,534.5L793.0,534.5L793.5,536.7L794.0,538.0L794.5,539.6L795.0,540.5L795.5,537.6L796.0,535.6L796.5,537.3L797.0,537.1L797.5,534.9L798.0,534.7L798.5,536.4L799.0,534.6L799.5,535.8L800.0,539.1L800.5,541.4L801.0,543.3L801.5,542.0L802.0,539.4L802.5,536.7L803.0,536.6L803.5,541.3L804.0,540.9L804.5,541.4L805.0,538.9L805.5,539.8L806.0,543.0L806.5,540.8L807.0,542.2L807.5,543.6L808.0,545.5L808.5,545.0L809.0,542.5L809.5,542.0L810.0,540.3L810.5,539.1L811.0,539.3L811.5,543.7L812.0,546.2L812.5,543.4L813.0,543.4L813.5,541.1L814.0,541.4L814.5,541.5L815.0,538.6L815.5,534.8L816.0,535.7L816.5,541.4L817.0,544.0L817.5,544.0L818.0,546.1L818.5,544.8L819.0,544.0L819.5,543.4L820.0,545.6L820.5,549.1L821.0,551.0L821.5,549.0L822.0,546.1L822.5,543.3L823.0,539.8L823.5,542.1L824.0,545.1L824.5,543.0L825.0,544.0L825.5,545.2L826.0,544.7L826.5,544.1L827.0,544.3L827.5,542.7L828.0,545.2L828.5,542.9L829.0,538.4L829.5,539.8L830.0,539.5L830.5,542.0L831.0,544.1L831.5,545.5L832.0,546.2L832.5,547.1L833.0,546.0L833.5,546.4L834.0,543.4L834.5,541.5L835.0,542.5L835.5,543.3L836.0,543.4L836.5,545.0L837.0,546.3L837.5,551.4L838.0,551.1L838.5,551.5L839.0,547.8L839.5,541.7L840.0,543.4L840.5,549.1L841.0,552.4L841.5,553.5L842.0,547.8L842.5,541.9L843.0,545.1L843.5,547.4L844.0,546.4L844.5,549.0L845.0,548.1L845.5,546.4L846.0,545.6L846.5,544.3L847.0,543.8L847.5,543.4L848.0,545.5L848.5,542.9L849.0,541.7L849.5,547.0L850.0,548.3L850.5,545.1L851.0,544.5L851.5,542.0L852.0,543.3L852.5,541.2L853.0,542.1L853.5,542.3L854.0,541.3L854.5,544.9L855.0,547.4L855.5,546.4L856.0,545.2L856.5,547.3L857.0,545.8L857.5,546.0L858.0,545.5L858.5,551.0L859.0,551.6L859.5,551.9L860.0,549.9L860.5,547.4L861.0,547.0L861.5,546.2L862.0,545.9L862.5,546.6L863.0,546.7L863.5,542.8L864.0,542.5L864.5,544.3L865.0,545.5L865.5,544.8L866.0,541.1L866.5,543.2L867.0,546.3L867.5,549.4L868.0,551.1L868.5,550.5L869.0,548.2L869.5,545.2L870.0,543.7L870.5,545.9L871.0,548.8L871.5,545.9L872.0,543.9L872.5,545.8L873.0,547.7L873.5,546.2L874.0,546.4" fill="none" stroke="#8a8a8a" stroke-width="0.8" stroke-linejoin="round" />
<path d="M599.5,557.5L600.0,557.5L600.5,557.5L601.0,557.5L601.5,557.5L602.0,557.5L602.5,557.5L603.0,557.5L603.5,557.5L604.0,557.5L604.5,557.5L605.0,557.5L605.5,557.5L606.0,557.5L606.5,557.5L607.0,557.5L607.5,557.5L608.0,557.5L608.5,557.5L609.0,557.5L609.5,557.5L610.0,557.5L610.5,557.5L611.0,557.5L611.5,557.5L612.0,557.5L612.5,557.5L613.0,557.5L613.5,557.5L614.0,557.5L614.5,557.5L615.0,557.5L615.5,557.5L616.0,557.5L616.5,557.5L617.0,557.5L617.5,557.5L618.0,557.5L618.5,557.5L619.0,557.5L619.5,557.5L620.0,557.5L620.5,557.5L621.0,557.5L621.5,557.5L622.0,557.5L622.5,557.5L623.0,557.5L623.5,557.5L624.0,557.5L624.5,557.5L625.0,557.5L625.5,557.5L626.0,557.5L626.5,557.5L627.0,557.5L627.5,557.5L628.0,557.5L628.5,557.5L629.0,557.4L629.5,557.4L630.0,557.4L630.5,557.4L631.0,557.4L631.5,557.4L632.0,557.4L632.5,557.4L633.0,557.4L633.5,557.4L634.0,557.4L634.5,557.4L635.0,557.4L635.5,557.4L636.0,557.4L636.5,557.4L637.0,557.4L637.5,557.4L638.0,557.4L638.5,557.4L639.0,557.4L639.5,557.4L640.0,557.4L640.5,557.4L641.0,557.4L641.5,557.4L642.0,557.4L642.5,557.4L643.0,557.4L643.5,557.4L644.0,557.4L644.5,557.4L645.0,557.4L645.5,557.4L646.0,557.4L646.5,557.4L647.0,557.4L647.5,557.4L648.0,557.4L648.5,557.4L649.0,557.4L649.5,557.4L650.0,557.4L650.5,557.4L651.0,557.4L651.5,557.4L652.0,557.4L652.5,557.4L653.0,557.4L653.5,557.4L654.0,557.4L654.5,557.4L655.0,557.4L655.5,557.4L656.0,557.4L656.5,557.4L657.0,557.3L657.5,557.3L658.0,557.3L658.5,557.3L659.0,557.3L659.5,557.3L660.0,557.3L660.5,557.3L661.0,557.3L661.5,557.3L662.0,557.3L662.5,557.3L663.0,557.3L663.5,557.3L664.0,557.3L664.5,557.3L665.0,557.3L665.5,557.3L666.0,557.3L666.5,557.3L667.0,557.3L667.5,557.3L668.0,557.3L668.5,557.3L669.0,557.3L669.5,557.3L670.0,557.2L670.5,557.2L671.0,557.2L671.5,557.2L672.0,557.2L672.5,557.2L673.0,557.2L673.5,557.2L674.0,557.2L674.5,557.2L675.0,557.2L675.5,557.2L676.0,557.2L676.5,557.2L677.0,557.2L677.5,557.2L678.0,557.2L678.5,557.2L679.0,557.1L679.5,557.1L680.0,557.1L680.5,557.1L681.0,557.1L681.5,557.1L682.0,557.1L682.5,557.1L683.0,557.1L683.5,557.1L684.0,557.1L684.5,557.1L685.0,557.1L685.5,557.1L686.0,557.0L686.5,557.0L687.0,557.0L687.5,557.0L688.0,557.0L688.5,557.0L689.0,557.0L689.5,557.0L690.0,557.0L690.5,557.0L691.0,557.0L691.5,556.9L692.0,556.9L692.5,556.9L693.0,556.9L693.5,556.9L694.0,556.9L694.5,556.9L695.0,556.9L695.5,556.9L696.0,556.8L696.5,556.8L697.0,556.8L697.5,556.8L698.0,556.8L698.5,556.8L699.0,556.8L699.5,556.8L700.0,556.7L700.5,556.7L701.0,556.7L701.5,556.7L702.0,556.7L702.5,556.7L703.0,556.7L703.5,556.7L704.0,556.6L704.5,556.6L705.0,556.6L705.5,556.6L706.0,556.6L706.5,556.6L707.0,556.5L707.5,556.5L708.0,556.5L708.5,556.5L709.0,556.5L709.5,556.5L710.0,556.5L710.5,556.4L711.0,556.4L711.5,556.4L712.0,556.4L712.5,556.4L713.0,556.3L713.5,556.3L714.0,556.3L714.5,556.3L715.0,556.3L715.5,556.3L716.0,556.2L716.5,556.2L717.0,556.2L717.5,556.2L718.0,556.2L718.5,556.1L719.0,556.1L719.5,556.1L720.0,556.1L720.5,556.1L721.0,556.0L721.5,556.0L722.0,556.0L722.5,556.0L723.0,555.9L723.5,555.9L724.0,555.9L724.5,555.9L725.0,555.9L725.5,555.8L726.0,555.8L726.5,555.8L727.0,555.8L727.5,555.7L728.0,555.7L728.5,555.7L729.0,555.7L729.5,555.6L730.0,555.6L730.5,555.6L731.0,555.6L731.5,555.5L732.0,555.5L732.5,555.5L733.0,555.5L733.5,555.4L734.0,555.4L734.5,555.4L735.0,555.4L735.5,555.3L736.0,555.3L736.5,555.3L737.0,555.3L737.5,555.2L738.0,555.2L738.5,555.2L739.0,555.2L739.5,555.1L740.0,555.1L740.5,555.1L741.0,555.1L741.5,555.0L742.0,555.0L742.5,555.0L743.0,555.0L743.5,554.9L744.0,554.9L744.5,554.9L745.0,554.9L745.5,554.8L746.0,554.8L746.5,554.8L747.0,554.7L747.5,554.7L748.0,554.7L748.5,554.7L749.0,554.6L749.5,554.6L750.0,554.6L750.5,554.6L751.0,554.5L751.5,554.5L752.0,554.5L752.5,554.5L753.0,554.4L753.5,554.4L754.0,554.4L754.5,554.4L755.0,554.3L755.5,554.3L756.0,554.3L756.5,554.3L757.0,554.2L757.5,554.2L758.0,554.2L758.5,554.2L759.0,554.1L759.5,554.1L760.0,554.1L760.5,554.1L761.0,554.0L761.5,554.0L762.0,554.0L762.5,554.0L763.0,553.9L763.5,553.9L764.0,553.9L764.5,553.9L765.0,553.8L765.5,553.8L766.0,553.8L766.5,553.8L767.0,553.8L767.5,553.7L768.0,553.7L768.5,553.7L769.0,553.7L769.5,553.6L770.0,553.6L770.5,553.6L771.0,553.6L771.5,553.6L772.0,553.5L772.5,553.5L773.0,553.5L773.5,553.5L774.0,553.5L774.5,553.4L775.0,553.4L775.5,553.4L776.0,553.4L776.5,553.4L777.0,553.4L777.5,553.3L778.0,553.3L778.5,553.3L779.0,553.3L779.5,553.3L780.0,553.2L780.5,553.2L781.0,553.2L781.5,553.2L782.0,553.2L782.5,553.2L783.0,553.2L783.5,553.1L784.0,553.1L784.5,553.1L785.0,553.1L785.5,553.1L786.0,553.1L786.5,553.0L787.0,553.0L787.5,553.0L788.0,553.0L788.5,553.0L789.0,553.0L789.5,553.0L790.0,553.0L790.5,552.9L791.0,552.9L791.5,552.9L792.0,552.9L792.5,552.9L793.0,552.9L793.5,552.9L794.0,552.9L794.5,552.8L795.0,552.8L795.5,552.8L796.0,552.8L796.5,552.8L797.0,552.8L797.5,552.8L798.0,552.8L798.5,552.8L799.0,552.7L799.5,552.7L800.0,552.7L800.5,552.7L801.0,552.7L801.5,552.7L802.0,552.7L802.5,552.7L803.0,552.7L803.5,552.7L804.0,552.7L804.5,552.6L805.0,552.6L805.5,552.6L806.0,552.6L806.5,552.6L807.0,552.6L807.5,552.6L808.0,552.6L808.5,552.6L809.0,552.6L809.5,552.6L810.0,552.6L810.5,552.6L811.0,552.6L811.5,552.5L812.0,552.5L812.5,552.5L813.0,552.5L813.5,552.5L814.0,552.5L814.5,552.5L815.0,552.5L815.5,552.5L816.0,552.5L816.5,552.5L817.0,552.5L817.5,552.5L818.0,552.5L818.5,552.5L819.0,552.5L819.5,552.5L820.0,552.5L820.5,552.4L821.0,552.4L821.5,552.4L822.0,552.4L822.5,552.4L823.0,552.4L823.5,552.4L824.0,552.4L824.5,552.4L825.0,552.4L825.5,552.4L826.0,552.4L826.5,552.4L827.0,552.4L827.5,552.4L828.0,552.4L828.5,552.4L829.0,552.4L829.5,552.4L830.0,552.4L830.5,552.4L831.0,552.4L831.5,552.4L832.0,552.4L832.5,552.4L833.0,552.4L833.5,552.3L834.0,552.3L834.5,552.3L835.0,552.3L835.5,552.3L836.0,552.3L836.5,552.3L837.0,552.3L837.5,552.3L838.0,552.3L838.5,552.3L839.0,552.3L839.5,552.3L840.0,552.3L840.5,552.3L841.0,552.3L841.5,552.3L842.0,552.3L842.5,552.3L843.0,552.3L843.5,552.3L844.0,552.3L844.5,552.3L845.0,552.3L845.5,552.3L846.0,552.3L846.5,552.3L847.0,552.3L847.5,552.3L848.0,552.3L848.5,552.3L849.0,552.3L849.5,552.3L850.0,552.3L850.5,552.3L851.0,552.3L851.5,552.3L852.0,552.3L852.5,552.3L853.0,552.3L853.5,552.3L854.0,552.3L854.5,552.3L855.0,552.3L855.5,552.3L856.0,552.3L856.5,552.3L857.0,552.3L857.5,552.3L858.0,552.3L858.5,552.3L859.0,552.3L859.5,552.3L860.0,552.3L860.5,552.3L861.0,552.3L861.5,552.2L862.0,552.2L862.5,552.2L863.0,552.2L863.5,552.2L864.0,552.2L864.5,552.2L865.0,552.2L865.5,552.2L866.0,552.2L866.5,552.2L867.0,552.2L867.5,552.2L868.0,552.2L868.5,552.2L869.0,552.2L869.5,552.2L870.0,552.2L870.5,552.2L871.0,552.2L871.5,552.2L872.0,552.2L872.5,552.2L873.0,552.2L873.5,552.2L874.0,552.2" fill="none" stroke="#00dd00" stroke-width="1.3" stroke-linejoin="round" />
<path d="M599.5,556.7L600.0,556.7L600.5,556.7L601.0,556.7L601.5,556.7L602.0,556.7L602.5,556.7L603.0,556.7L603.5,556.7L604.0,556.7L604.5,556.7L605.0,556.7L605.5,556.7L606.0,556.7L606.5,556.6L607.0,556.6L607.5,556.6L608.0,556.6L608.5,556.6L609.0,556.6L609.5,556.6L610.0,556.6L610.5,556.6L611.0,556.6L611.5,556.6L612.0,556.6L612.5,556.6L613.0,556.5L613.5,556.5L614.0,556.5L614.5,556.5L615.0,556.5L615.5,556.5L616.0,556.5L616.5,556.5L617.0,556.5L617.5,556.5L618.0,556.5L618.5,556.4L619.0,556.4L619.5,556.4L620.0,556.4L620.5,556.4L621.0,556.4L621.5,556.4L622.0,556.4L622.5,556.4L623.0,556.4L623.5,556.3L624.0,556.3L624.5,556.3L625.0,556.3L625.5,556.3L626.0,556.3L626.5,556.3L627.0,556.3L627.5,556.3L628.0,556.2L628.5,556.2L629.0,556.2L629.5,556.2L630.0,556.2L630.5,556.2L631.0,556.2L631.5,556.2L632.0,556.1L632.5,556.1L633.0,556.1L633.5,556.1L634.0,556.1L634.5,556.1L635.0,556.0L635.5,556.0L636.0,556.0L636.5,556.0L637.0,556.0L637.5,556.0L638.0,556.0L638.5,555.9L639.0,555.9L639.5,555.9L640.0,555.9L640.5,555.9L641.0,555.8L641.5,555.8L642.0,555.8L642.5,555.8L643.0,555.8L643.5,555.7L644.0,555.7L644.5,555.7L645.0,555.7L645.5,555.7L646.0,555.6L646.5,555.6L647.0,555.6L647.5,555.6L648.0,555.6L648.5,555.5L649.0,555.5L649.5,555.5L650.0,555.5L650.5,555.4L651.0,555.4L651.5,555.4L652.0,555.3L652.5,555.3L653.0,555.3L653.5,555.3L654.0,555.2L654.5,555.2L655.0,555.2L655.5,555.1L656.0,555.1L656.5,555.1L657.0,555.0L657.5,555.0L658.0,555.0L658.5,554.9L659.0,554.9L659.5,554.9L660.0,554.8L660.5,554.8L661.0,554.7L661.5,554.7L662.0,554.7L662.5,554.6L663.0,554.6L663.5,554.5L664.0,554.5L664.5,554.4L665.0,554.4L665.5,554.3L666.0,554.3L666.5,554.2L667.0,554.2L667.5,554.1L668.0,554.1L668.5,554.0L669.0,554.0L669.5,553.9L670.0,553.9L670.5,553.8L671.0,553.7L671.5,553.7L672.0,553.6L672.5,553.5L673.0,553.5L673.5,553.4L674.0,553.3L674.5,553.3L675.0,553.2L675.5,553.1L676.0,553.0L676.5,552.9L677.0,552.8L677.5,552.8L678.0,552.7L678.5,552.6L679.0,552.5L679.5,552.4L680.0,552.3L680.5,552.2L681.0,552.1L681.5,552.0L682.0,551.8L682.5,551.7L683.0,551.6L683.5,551.5L684.0,551.3L684.5,551.2L685.0,551.1L685.5,550.9L686.0,550.8L686.5,550.6L687.0,550.5L687.5,550.3L688.0,550.1L688.5,550.0L689.0,549.8L689.5,549.6L690.0,549.4L690.5,549.2L691.0,549.0L691.5,548.7L692.0,548.5L692.5,548.3L693.0,548.0L693.5,547.8L694.0,547.5L694.5,547.2L695.0,546.9L695.5,546.6L696.0,546.3L696.5,546.0L697.0,545.6L697.5,545.3L698.0,544.9L698.5,544.5L699.0,544.1L699.5,543.6L700.0,543.1L700.5,542.7L701.0,542.1L701.5,541.6L702.0,541.0L702.5,540.4L703.0,539.8L703.5,539.1L704.0,538.3L704.5,537.5L705.0,536.7L705.5,535.8L706.0,534.8L706.5,533.8L707.0,532.7L707.5,531.4L708.0,530.1L708.5,528.7L709.0,527.1L709.5,525.5L710.0,523.6L710.5,521.6L711.0,519.4L711.5,517.1L712.0,514.5L712.5,511.7L713.0,508.6L713.5,505.2L714.0,501.6L714.5,497.7L715.0,493.5L715.5,488.9L716.0,483.9L716.5,478.6L717.0,473.0L717.5,466.9L718.0,460.5L718.5,453.7L719.0,446.6L719.5,439.1L720.0,431.4L720.5,423.4L721.0,415.4L721.5,407.3L722.0,399.3L722.5,391.6L723.0,384.4L723.5,377.8L724.0,372.1L724.5,367.5L725.0,364.1L725.5,362.1L726.0,361.6L726.5,362.6L727.0,365.0L727.5,368.8L728.0,373.7L728.5,379.7L729.0,386.4L729.5,393.7L730.0,401.4L730.5,409.3L731.0,417.2L731.5,425.1L732.0,432.8L732.5,440.3L733.0,447.5L733.5,454.4L734.0,460.9L734.5,467.0L735.0,472.7L735.5,478.1L736.0,483.1L736.5,487.7L737.0,492.0L737.5,496.0L738.0,499.6L738.5,502.9L739.0,506.0L739.5,508.8L740.0,511.3L740.5,513.7L741.0,515.8L741.5,517.7L742.0,519.4L742.5,521.0L743.0,522.4L743.5,523.7L744.0,524.9L744.5,525.9L745.0,526.8L745.5,527.7L746.0,528.5L746.5,529.1L747.0,529.7L747.5,530.3L748.0,530.8L748.5,531.2L749.0,531.5L749.5,531.8L750.0,532.1L750.5,532.3L751.0,532.5L751.5,532.6L752.0,532.6L752.5,532.6L753.0,532.6L753.5,532.5L754.0,532.4L754.5,532.2L755.0,532.0L755.5,531.7L756.0,531.4L756.5,531.0L757.0,530.5L757.5,530.0L758.0,529.4L758.5,528.6L759.0,527.9L759.5,527.0L760.0,526.0L760.5,524.8L761.0,523.6L761.5,522.2L762.0,520.6L762.5,518.9L763.0,517.0L763.5,515.0L764.0,512.7L764.5,510.2L765.0,507.4L765.5,504.4L766.0,501.2L766.5,497.6L767.0,493.8L767.5,489.8L768.0,485.4L768.5,480.8L769.0,475.9L769.5,470.8L770.0,465.6L770.5,460.2L771.0,454.9L771.5,449.6L772.0,444.5L772.5,439.9L773.0,435.7L773.5,432.3L774.0,429.8L774.5,428.2L775.0,427.7L775.5,428.3L776.0,430.0L776.5,432.6L777.0,436.2L777.5,440.4L778.0,445.2L778.5,450.4L779.0,455.8L779.5,461.2L780.0,466.7L780.5,472.1L781.0,477.3L781.5,482.3L782.0,487.0L782.5,491.5L783.0,495.7L783.5,499.7L784.0,503.3L784.5,506.7L785.0,509.9L785.5,512.8L786.0,515.4L786.5,517.9L787.0,520.1L787.5,522.2L788.0,524.1L788.5,525.8L789.0,527.4L789.5,528.8L790.0,530.2L790.5,531.4L791.0,532.5L791.5,533.5L792.0,534.5L792.5,535.3L793.0,536.1L793.5,536.9L794.0,537.6L794.5,538.2L795.0,538.8L795.5,539.3L796.0,539.9L796.5,540.3L797.0,540.8L797.5,541.2L798.0,541.6L798.5,542.0L799.0,542.4L799.5,542.7L800.0,543.0L800.5,543.3L801.0,543.6L801.5,543.9L802.0,544.1L802.5,544.4L803.0,544.6L803.5,544.8L804.0,545.1L804.5,545.3L805.0,545.5L805.5,545.6L806.0,545.8L806.5,546.0L807.0,546.2L807.5,546.3L808.0,546.5L808.5,546.6L809.0,546.7L809.5,546.9L810.0,547.0L810.5,547.1L811.0,547.2L811.5,547.4L812.0,547.5L812.5,547.6L813.0,547.7L813.5,547.8L814.0,547.9L814.5,548.0L815.0,548.1L815.5,548.1L816.0,548.2L816.5,548.3L817.0,548.4L817.5,548.5L818.0,548.5L818.5,548.6L819.0,548.7L819.5,548.7L820.0,548.8L820.5,548.9L821.0,548.9L821.5,549.0L822.0,549.0L822.5,549.1L823.0,549.1L823.5,549.2L824.0,549.2L824.5,549.3L825.0,549.3L825.5,549.4L826.0,549.4L826.5,549.5L827.0,549.5L827.5,549.6L828.0,549.6L828.5,549.6L829.0,549.7L829.5,549.7L830.0,549.8L830.5,549.8L831.0,549.8L831.5,549.9L832.0,549.9L832.5,549.9L833.0,550.0L833.5,550.0L834.0,550.0L834.5,550.0L835.0,550.1L835.5,550.1L836.0,550.1L836.5,550.2L837.0,550.2L837.5,550.2L838.0,550.2L838.5,550.3L839.0,550.3L839.5,550.3L840.0,550.3L840.5,550.4L841.0,550.4L841.5,550.4L842.0,550.4L842.5,550.4L843.0,550.5L843.5,550.5L844.0,550.5L844.5,550.5L845.0,550.5L845.5,550.6L846.0,550.6L846.5,550.6L847.0,550.6L847.5,550.6L848.0,550.7L848.5,550.7L849.0,550.7L849.5,550.7L850.0,550.7L850.5,550.7L851.0,550.8L851.5,550.8L852.0,550.8L852.5,550.8L853.0,550.8L853.5,550.8L854.0,550.8L854.5,550.9L855.0,550.9L855.5,550.9L856.0,550.9L856.5,550.9L857.0,550.9L857.5,550.9L858.0,550.9L858.5,551.0L859.0,551.0L859.5,551.0L860.0,551.0L860.5,551.0L861.0,551.0L861.5,551.0L862.0,551.0L862.5,551.0L863.0,551.1L863.5,551.1L864.0,551.1L864.5,551.1L865.0,551.1L865.5,551.1L866.0,551.1L866.5,551.1L867.0,551.1L867.5,551.1L868.0,551.2L868.5,551.2L869.0,551.2L869.5,551.2L870.0,551.2L870.5,551.2L871.0,551.2L871.5,551.2L872.0,551.2L872.5,551.2L873.0,551.2L873.5,551.2L874.0,551.3" fill="none" stroke="#111" stroke-width="1.2" stroke-linejoin="round" />
<path d="M599.5,556.9L600.0,556.9L600.5,556.9L601.0,556.9L601.5,556.9L602.0,556.9L602.5,556.9L603.0,556.9L603.5,556.9L604.0,556.9L604.5,556.9L605.0,556.9L605.5,556.8L606.0,556.8L606.5,556.8L607.0,556.8L607.5,556.8L608.0,556.8L608.5,556.8L609.0,556.8L609.5,556.8L610.0,556.8L610.5,556.8L611.0,556.8L611.5,556.8L612.0,556.8L612.5,556.8L613.0,556.8L613.5,556.7L614.0,556.7L614.5,556.7L615.0,556.7L615.5,556.7L616.0,556.7L616.5,556.7L617.0,556.7L617.5,556.7L618.0,556.7L618.5,556.7L619.0,556.7L619.5,556.7L620.0,556.6L620.5,556.6L621.0,556.6L621.5,556.6L622.0,556.6L622.5,556.6L623.0,556.6L623.5,556.6L624.0,556.6L624.5,556.6L625.0,556.6L625.5,556.5L626.0,556.5L626.5,556.5L627.0,556.5L627.5,556.5L628.0,556.5L628.5,556.5L629.0,556.5L629.5,556.5L630.0,556.5L630.5,556.4L631.0,556.4L631.5,556.4L632.0,556.4L632.5,556.4L633.0,556.4L633.5,556.4L634.0,556.4L634.5,556.3L635.0,556.3L635.5,556.3L636.0,556.3L636.5,556.3L637.0,556.3L637.5,556.3L638.0,556.2L638.5,556.2L639.0,556.2L639.5,556.2L640.0,556.2L640.5,556.2L641.0,556.1L641.5,556.1L642.0,556.1L642.5,556.1L643.0,556.1L643.5,556.1L644.0,556.0L644.5,556.0L645.0,556.0L645.5,556.0L646.0,556.0L646.5,555.9L647.0,555.9L647.5,555.9L648.0,555.9L648.5,555.9L649.0,555.8L649.5,555.8L650.0,555.8L650.5,555.8L651.0,555.8L651.5,555.7L652.0,555.7L652.5,555.7L653.0,555.7L653.5,555.6L654.0,555.6L654.5,555.6L655.0,555.5L655.5,555.5L656.0,555.5L656.5,555.5L657.0,555.4L657.5,555.4L658.0,555.4L658.5,555.3L659.0,555.3L659.5,555.3L660.0,555.2L660.5,555.2L661.0,555.2L661.5,555.1L662.0,555.1L662.5,555.1L663.0,555.0L663.5,555.0L664.0,554.9L664.5,554.9L665.0,554.8L665.5,554.8L666.0,554.8L666.5,554.7L667.0,554.7L667.5,554.6L668.0,554.6L668.5,554.5L669.0,554.5L669.5,554.4L670.0,554.4L670.5,554.3L671.0,554.2L671.5,554.2L672.0,554.1L672.5,554.1L673.0,554.0L673.5,553.9L674.0,553.9L674.5,553.8L675.0,553.7L675.5,553.6L676.0,553.6L676.5,553.5L677.0,553.4L677.5,553.3L678.0,553.2L678.5,553.2L679.0,553.1L679.5,553.0L680.0,552.9L680.5,552.8L681.0,552.7L681.5,552.6L682.0,552.5L682.5,552.4L683.0,552.2L683.5,552.1L684.0,552.0L684.5,551.9L685.0,551.7L685.5,551.6L686.0,551.5L686.5,551.3L687.0,551.2L687.5,551.0L688.0,550.8L688.5,550.7L689.0,550.5L689.5,550.3L690.0,550.1L690.5,549.9L691.0,549.7L691.5,549.5L692.0,549.3L692.5,549.1L693.0,548.8L693.5,548.6L694.0,548.3L694.5,548.1L695.0,547.8L695.5,547.5L696.0,547.2L696.5,546.9L697.0,546.5L697.5,546.2L698.0,545.8L698.5,545.4L699.0,545.0L699.5,544.6L700.0,544.1L700.5,543.6L701.0,543.1L701.5,542.6L702.0,542.0L702.5,541.4L703.0,540.8L703.5,540.1L704.0,539.4L704.5,538.6L705.0,537.8L705.5,536.9L706.0,536.0L706.5,534.9L707.0,533.8L707.5,532.6L708.0,531.3L708.5,529.9L709.0,528.4L709.5,526.7L710.0,524.9L710.5,522.9L711.0,520.7L711.5,518.4L712.0,515.8L712.5,513.0L713.0,510.0L713.5,506.7L714.0,503.1L714.5,499.2L715.0,494.9L715.5,490.4L716.0,485.5L716.5,480.2L717.0,474.6L717.5,468.5L718.0,462.1L718.5,455.4L719.0,448.3L719.5,440.8L720.0,433.1L720.5,425.2L721.0,417.2L721.5,409.1L722.0,401.2L722.5,393.6L723.0,386.4L723.5,379.8L724.0,374.2L724.5,369.6L725.0,366.3L725.5,364.3L726.0,363.8L726.5,364.9L727.0,367.3L727.5,371.1L728.0,376.1L728.5,382.1L729.0,388.9L729.5,396.2L730.0,404.0L730.5,411.9L731.0,419.9L731.5,427.9L732.0,435.7L732.5,443.2L733.0,450.5L733.5,457.4L734.0,464.0L734.5,470.2L735.0,476.0L735.5,481.5L736.0,486.6L736.5,491.3L737.0,495.7L737.5,499.7L738.0,503.4L738.5,506.9L739.0,510.0L739.5,512.9L740.0,515.6L740.5,518.0L741.0,520.3L741.5,522.3L742.0,524.2L742.5,525.9L743.0,527.5L743.5,528.9L744.0,530.2L744.5,531.4L745.0,532.6L745.5,533.6L746.0,534.6L746.5,535.4L747.0,536.3L747.5,537.0L748.0,537.7L748.5,538.4L749.0,539.0L749.5,539.6L750.0,540.1L750.5,540.7L751.0,541.1L751.5,541.6L752.0,542.0L752.5,542.4L753.0,542.8L753.5,543.2L754.0,543.5L754.5,543.8L755.0,544.2L755.5,544.4L756.0,544.7L756.5,545.0L757.0,545.2L757.5,545.5L758.0,545.7L758.5,545.9L759.0,546.1L759.5,546.3L760.0,546.5L760.5,546.7L761.0,546.9L761.5,547.1L762.0,547.2L762.5,547.4L763.0,547.5L763.5,547.7L764.0,547.8L764.5,547.9L765.0,548.0L765.5,548.2L766.0,548.3L766.5,548.4L767.0,548.5L767.5,548.6L768.0,548.7L768.5,548.8L769.0,548.9L769.5,548.9L770.0,549.0L770.5,549.1L771.0,549.2L771.5,549.3L772.0,549.3L772.5,549.4L773.0,549.5L773.5,549.5L774.0,549.6L774.5,549.6L775.0,549.7L775.5,549.7L776.0,549.8L776.5,549.9L777.0,549.9L777.5,549.9L778.0,550.0L778.5,550.0L779.0,550.1L779.5,550.1L780.0,550.2L780.5,550.2L781.0,550.2L781.5,550.3L782.0,550.3L782.5,550.3L783.0,550.4L783.5,550.4L784.0,550.4L784.5,550.5L785.0,550.5L785.5,550.5L786.0,550.5L786.5,550.6L787.0,550.6L787.5,550.6L788.0,550.6L788.5,550.7L789.0,550.7L789.5,550.7L790.0,550.7L790.5,550.8L791.0,550.8L791.5,550.8L792.0,550.8L792.5,550.8L793.0,550.9L793.5,550.9L794.0,550.9L794.5,550.9L795.0,550.9L795.5,550.9L796.0,551.0L796.5,551.0L797.0,551.0L797.5,551.0L798.0,551.0L798.5,551.0L799.0,551.0L799.5,551.1L800.0,551.1L800.5,551.1L801.0,551.1L801.5,551.1L802.0,551.1L802.5,551.1L803.0,551.1L803.5,551.1L804.0,551.2L804.5,551.2L805.0,551.2L805.5,551.2L806.0,551.2L806.5,551.2L807.0,551.2L807.5,551.2L808.0,551.2L808.5,551.2L809.0,551.3L809.5,551.3L810.0,551.3L810.5,551.3L811.0,551.3L811.5,551.3L812.0,551.3L812.5,551.3L813.0,551.3L813.5,551.3L814.0,551.3L814.5,551.3L815.0,551.4L815.5,551.4L816.0,551.4L816.5,551.4L817.0,551.4L817.5,551.4L818.0,551.4L818.5,551.4L819.0,551.4L819.5,551.4L820.0,551.4L820.5,551.4L821.0,551.4L821.5,551.4L822.0,551.4L822.5,551.4L823.0,551.5L823.5,551.5L824.0,551.5L824.5,551.5L825.0,551.5L825.5,551.5L826.0,551.5L826.5,551.5L827.0,551.5L827.5,551.5L828.0,551.5L828.5,551.5L829.0,551.5L829.5,551.5L830.0,551.5L830.5,551.5L831.0,551.5L831.5,551.5L832.0,551.5L832.5,551.5L833.0,551.6L833.5,551.6L834.0,551.6L834.5,551.6L835.0,551.6L835.5,551.6L836.0,551.6L836.5,551.6L837.0,551.6L837.5,551.6L838.0,551.6L838.5,551.6L839.0,551.6L839.5,551.6L840.0,551.6L840.5,551.6L841.0,551.6L841.5,551.6L842.0,551.6L842.5,551.6L843.0,551.6L843.5,551.6L844.0,551.6L844.5,551.6L845.0,551.6L845.5,551.7L846.0,551.7L846.5,551.7L847.0,551.7L847.5,551.7L848.0,551.7L848.5,551.7L849.0,551.7L849.5,551.7L850.0,551.7L850.5,551.7L851.0,551.7L851.5,551.7L852.0,551.7L852.5,551.7L853.0,551.7L853.5,551.7L854.0,551.7L854.5,551.7L855.0,551.7L855.5,551.7L856.0,551.7L856.5,551.7L857.0,551.7L857.5,551.7L858.0,551.7L858.5,551.7L859.0,551.7L859.5,551.7L860.0,551.7L860.5,551.7L861.0,551.7L861.5,551.7L862.0,551.8L862.5,551.8L863.0,551.8L863.5,551.8L864.0,551.8L864.5,551.8L865.0,551.8L865.5,551.8L866.0,551.8L866.5,551.8L867.0,551.8L867.5,551.8L868.0,551.8L868.5,551.8L869.0,551.8L869.5,551.8L870.0,551.8L870.5,551.8L871.0,551.8L871.5,551.8L872.0,551.8L872.5,551.8L873.0,551.8L873.5,551.8L874.0,551.8" fill="none" stroke="#ff0000" stroke-width="1.6" stroke-linejoin="round" />
<path d="M599.5,557.3L600.0,557.3L600.5,557.3L601.0,557.3L601.5,557.3L602.0,557.3L602.5,557.3L603.0,557.3L603.5,557.3L604.0,557.3L604.5,557.3L605.0,557.3L605.5,557.3L606.0,557.3L606.5,557.3L607.0,557.3L607.5,557.3L608.0,557.3L608.5,557.3L609.0,557.3L609.5,557.3L610.0,557.3L610.5,557.3L611.0,557.3L611.5,557.3L612.0,557.3L612.5,557.3L613.0,557.3L613.5,557.3L614.0,557.3L614.5,557.3L615.0,557.3L615.5,557.3L616.0,557.3L616.5,557.3L617.0,557.3L617.5,557.2L618.0,557.2L618.5,557.2L619.0,557.2L619.5,557.2L620.0,557.2L620.5,557.2L621.0,557.2L621.5,557.2L622.0,557.2L622.5,557.2L623.0,557.2L623.5,557.2L624.0,557.2L624.5,557.2L625.0,557.2L625.5,557.2L626.0,557.2L626.5,557.2L627.0,557.2L627.5,557.2L628.0,557.2L628.5,557.2L629.0,557.2L629.5,557.2L630.0,557.2L630.5,557.2L631.0,557.2L631.5,557.2L632.0,557.2L632.5,557.2L633.0,557.2L633.5,557.2L634.0,557.2L634.5,557.2L635.0,557.2L635.5,557.2L636.0,557.2L636.5,557.1L637.0,557.1L637.5,557.1L638.0,557.1L638.5,557.1L639.0,557.1L639.5,557.1L640.0,557.1L640.5,557.1L641.0,557.1L641.5,557.1L642.0,557.1L642.5,557.1L643.0,557.1L643.5,557.1L644.0,557.1L644.5,557.1L645.0,557.1L645.5,557.1L646.0,557.1L646.5,557.1L647.0,557.1L647.5,557.1L648.0,557.1L648.5,557.1L649.0,557.0L649.5,557.0L650.0,557.0L650.5,557.0L651.0,557.0L651.5,557.0L652.0,557.0L652.5,557.0L653.0,557.0L653.5,557.0L654.0,557.0L654.5,557.0L655.0,557.0L655.5,557.0L656.0,557.0L656.5,557.0L657.0,557.0L657.5,557.0L658.0,556.9L658.5,556.9L659.0,556.9L659.5,556.9L660.0,556.9L660.5,556.9L661.0,556.9L661.5,556.9L662.0,556.9L662.5,556.9L663.0,556.9L663.5,556.9L664.0,556.9L664.5,556.9L665.0,556.8L665.5,556.8L666.0,556.8L666.5,556.8L667.0,556.8L667.5,556.8L668.0,556.8L668.5,556.8L669.0,556.8L669.5,556.8L670.0,556.8L670.5,556.7L671.0,556.7L671.5,556.7L672.0,556.7L672.5,556.7L673.0,556.7L673.5,556.7L674.0,556.7L674.5,556.7L675.0,556.7L675.5,556.6L676.0,556.6L676.5,556.6L677.0,556.6L677.5,556.6L678.0,556.6L678.5,556.6L679.0,556.6L679.5,556.5L680.0,556.5L680.5,556.5L681.0,556.5L681.5,556.5L682.0,556.5L682.5,556.5L683.0,556.5L683.5,556.4L684.0,556.4L684.5,556.4L685.0,556.4L685.5,556.4L686.0,556.4L686.5,556.3L687.0,556.3L687.5,556.3L688.0,556.3L688.5,556.3L689.0,556.3L689.5,556.2L690.0,556.2L690.5,556.2L691.0,556.2L691.5,556.2L692.0,556.1L692.5,556.1L693.0,556.1L693.5,556.1L694.0,556.1L694.5,556.0L695.0,556.0L695.5,556.0L696.0,556.0L696.5,556.0L697.0,555.9L697.5,555.9L698.0,555.9L698.5,555.9L699.0,555.8L699.5,555.8L700.0,555.8L700.5,555.8L701.0,555.7L701.5,555.7L702.0,555.7L702.5,555.7L703.0,555.6L703.5,555.6L704.0,555.6L704.5,555.5L705.0,555.5L705.5,555.5L706.0,555.4L706.5,555.4L707.0,555.4L707.5,555.4L708.0,555.3L708.5,555.3L709.0,555.2L709.5,555.2L710.0,555.2L710.5,555.1L711.0,555.1L711.5,555.1L712.0,555.0L712.5,555.0L713.0,554.9L713.5,554.9L714.0,554.9L714.5,554.8L715.0,554.8L715.5,554.7L716.0,554.7L716.5,554.6L717.0,554.6L717.5,554.6L718.0,554.5L718.5,554.5L719.0,554.4L719.5,554.4L720.0,554.3L720.5,554.3L721.0,554.2L721.5,554.1L722.0,554.1L722.5,554.0L723.0,554.0L723.5,553.9L724.0,553.8L724.5,553.8L725.0,553.7L725.5,553.7L726.0,553.6L726.5,553.5L727.0,553.5L727.5,553.4L728.0,553.3L728.5,553.2L729.0,553.2L729.5,553.1L730.0,553.0L730.5,552.9L731.0,552.8L731.5,552.7L732.0,552.7L732.5,552.6L733.0,552.5L733.5,552.4L734.0,552.3L734.5,552.2L735.0,552.1L735.5,552.0L736.0,551.9L736.5,551.7L737.0,551.6L737.5,551.5L738.0,551.4L738.5,551.3L739.0,551.1L739.5,551.0L740.0,550.8L740.5,550.7L741.0,550.6L741.5,550.4L742.0,550.2L742.5,550.1L743.0,549.9L743.5,549.7L744.0,549.5L744.5,549.3L745.0,549.1L745.5,548.9L746.0,548.7L746.5,548.5L747.0,548.2L747.5,548.0L748.0,547.7L748.5,547.4L749.0,547.2L749.5,546.9L750.0,546.5L750.5,546.2L751.0,545.9L751.5,545.5L752.0,545.1L752.5,544.7L753.0,544.2L753.5,543.8L754.0,543.3L754.5,542.8L755.0,542.2L755.5,541.6L756.0,540.9L756.5,540.2L757.0,539.5L757.5,538.7L758.0,537.8L758.5,536.9L759.0,535.8L759.5,534.7L760.0,533.5L760.5,532.2L761.0,530.7L761.5,529.1L762.0,527.4L762.5,525.5L763.0,523.5L763.5,521.2L764.0,518.8L764.5,516.1L765.0,513.2L765.5,510.1L766.0,506.7L766.5,503.0L767.0,499.1L767.5,494.9L768.0,490.5L768.5,485.7L769.0,480.7L769.5,475.5L770.0,470.2L770.5,464.7L771.0,459.3L771.5,453.9L772.0,448.8L772.5,444.0L773.0,439.8L773.5,436.3L774.0,433.6L774.5,432.0L775.0,431.4L775.5,432.0L776.0,433.6L776.5,436.2L777.0,439.6L777.5,443.8L778.0,448.5L778.5,453.6L779.0,459.0L779.5,464.4L780.0,469.8L780.5,475.1L781.0,480.3L781.5,485.2L782.0,489.9L782.5,494.4L783.0,498.5L783.5,502.4L784.0,506.0L784.5,509.4L785.0,512.5L785.5,515.3L786.0,517.9L786.5,520.4L787.0,522.6L787.5,524.6L788.0,526.4L788.5,528.1L789.0,529.7L789.5,531.1L790.0,532.4L790.5,533.6L791.0,534.6L791.5,535.6L792.0,536.5L792.5,537.4L793.0,538.1L793.5,538.9L794.0,539.5L794.5,540.1L795.0,540.7L795.5,541.2L796.0,541.7L796.5,542.2L797.0,542.6L797.5,543.0L798.0,543.4L798.5,543.7L799.0,544.1L799.5,544.4L800.0,544.7L800.5,545.0L801.0,545.2L801.5,545.5L802.0,545.7L802.5,545.9L803.0,546.2L803.5,546.4L804.0,546.6L804.5,546.7L805.0,546.9L805.5,547.1L806.0,547.2L806.5,547.4L807.0,547.5L807.5,547.7L808.0,547.8L808.5,547.9L809.0,548.1L809.5,548.2L810.0,548.3L810.5,548.4L811.0,548.5L811.5,548.6L812.0,548.7L812.5,548.8L813.0,548.9L813.5,549.0L814.0,549.1L814.5,549.1L815.0,549.2L815.5,549.3L816.0,549.3L816.5,549.4L817.0,549.5L817.5,549.5L818.0,549.6L818.5,549.7L819.0,549.7L819.5,549.8L820.0,549.8L820.5,549.9L821.0,549.9L821.5,550.0L822.0,550.0L822.5,550.1L823.0,550.1L823.5,550.2L824.0,550.2L824.5,550.2L825.0,550.3L825.5,550.3L826.0,550.3L826.5,550.4L827.0,550.4L827.5,550.4L828.0,550.5L828.5,550.5L829.0,550.5L829.5,550.6L830.0,550.6L830.5,550.6L831.0,550.7L831.5,550.7L832.0,550.7L832.5,550.7L833.0,550.8L833.5,550.8L834.0,550.8L834.5,550.8L835.0,550.8L835.5,550.9L836.0,550.9L836.5,550.9L837.0,550.9L837.5,551.0L838.0,551.0L838.5,551.0L839.0,551.0L839.5,551.0L840.0,551.0L840.5,551.1L841.0,551.1L841.5,551.1L842.0,551.1L842.5,551.1L843.0,551.1L843.5,551.2L844.0,551.2L844.5,551.2L845.0,551.2L845.5,551.2L846.0,551.2L846.5,551.2L847.0,551.2L847.5,551.3L848.0,551.3L848.5,551.3L849.0,551.3L849.5,551.3L850.0,551.3L850.5,551.3L851.0,551.3L851.5,551.4L852.0,551.4L852.5,551.4L853.0,551.4L853.5,551.4L854.0,551.4L854.5,551.4L855.0,551.4L855.5,551.4L856.0,551.4L856.5,551.4L857.0,551.5L857.5,551.5L858.0,551.5L858.5,551.5L859.0,551.5L859.5,551.5L860.0,551.5L860.5,551.5L861.0,551.5L861.5,551.5L862.0,551.5L862.5,551.5L863.0,551.5L863.5,551.6L864.0,551.6L864.5,551.6L865.0,551.6L865.5,551.6L866.0,551.6L866.5,551.6L867.0,551.6L867.5,551.6L868.0,551.6L868.5,551.6L869.0,551.6L869.5,551.6L870.0,551.6L870.5,551.6L871.0,551.6L871.5,551.7L872.0,551.7L872.5,551.7L873.0,551.7L873.5,551.7L874.0,551.7" fill="none" stroke="#0000ff" stroke-width="1.6" stroke-linejoin="round" />
<path d="M599.5,556.7L600.0,556.7L600.5,556.7L601.0,556.7L601.5,556.7L602.0,556.7L602.5,556.7L603.0,556.7L603.5,556.7L604.0,556.7L604.5,556.7L605.0,556.7L605.5,556.7L606.0,556.7L606.5,556.6L607.0,556.6L607.5,556.6L608.0,556.6L608.5,556.6L609.0,556.6L609.5,556.6L610.0,556.6L610.5,556.6L611.0,556.6L611.5,556.6L612.0,556.6L612.5,556.6L613.0,556.5L613.5,556.5L614.0,556.5L614.5,556.5L615.0,556.5L615.5,556.5L616.0,556.5L616.5,556.5L617.0,556.5L617.5,556.5L618.0,556.5L618.5,556.4L619.0,556.4L619.5,556.4L620.0,556.4L620.5,556.4L621.0,556.4L621.5,556.4L622.0,556.4L622.5,556.4L623.0,556.4L623.5,556.3L624.0,556.3L624.5,556.3L625.0,556.3L625.5,556.3L626.0,556.3L626.5,556.3L627.0,556.3L627.5,556.3L628.0,556.2L628.5,556.2L629.0,556.2L629.5,556.2L630.0,556.2L630.5,556.2L631.0,556.2L631.5,556.2L632.0,556.1L632.5,556.1L633.0,556.1L633.5,556.1L634.0,556.1L634.5,556.1L635.0,556.0L635.5,556.0L636.0,556.0L636.5,556.0L637.0,556.0L637.5,556.0L638.0,556.0L638.5,555.9L639.0,555.9L639.5,555.9L640.0,555.9L640.5,555.9L641.0,555.8L641.5,555.8L642.0,555.8L642.5,555.8L643.0,555.8L643.5,555.7L644.0,555.7L644.5,555.7L645.0,555.7L645.5,555.7L646.0,555.6L646.5,555.6L647.0,555.6L647.5,555.6L648.0,555.6L648.5,555.5L649.0,555.5L649.5,555.5L650.0,555.5L650.5,555.4L651.0,555.4L651.5,555.4L652.0,555.3L652.5,555.3L653.0,555.3L653.5,555.3L654.0,555.2L654.5,555.2L655.0,555.2L655.5,555.1L656.0,555.1L656.5,555.1L657.0,555.0L657.5,555.0L658.0,555.0L658.5,554.9L659.0,554.9L659.5,554.9L660.0,554.8L660.5,554.8L661.0,554.7L661.5,554.7L662.0,554.7L662.5,554.6L663.0,554.6L663.5,554.5L664.0,554.5L664.5,554.4L665.0,554.4L665.5,554.3L666.0,554.3L666.5,554.2L667.0,554.2L667.5,554.1L668.0,554.1L668.5,554.0L669.0,554.0L669.5,553.9L670.0,553.9L670.5,553.8L671.0,553.7L671.5,553.7L672.0,553.6L672.5,553.5L673.0,553.5L673.5,553.4L674.0,553.3L674.5,553.3L675.0,553.2L675.5,553.1L676.0,553.0L676.5,552.9L677.0,552.8L677.5,552.8L678.0,552.7L678.5,552.6L679.0,552.5L679.5,552.4L680.0,552.3L680.5,552.2L681.0,552.1L681.5,552.0L682.0,551.8L682.5,551.7L683.0,551.6L683.5,551.5L684.0,551.3L684.5,551.2L685.0,551.1L685.5,550.9L686.0,550.8L686.5,550.6L687.0,550.5L687.5,550.3L688.0,550.1L688.5,550.0L689.0,549.8L689.5,549.6L690.0,549.4L690.5,549.2L691.0,549.0L691.5,548.7L692.0,548.5L692.5,548.3L693.0,548.0L693.5,547.8L694.0,547.5L694.5,547.2L695.0,546.9L695.5,546.6L696.0,546.3L696.5,546.0L697.0,545.6L697.5,545.3L698.0,544.9L698.5,544.5L699.0,544.1L699.5,543.6L700.0,543.1L700.5,542.7L701.0,542.1L701.5,541.6L702.0,541.0L702.5,540.4L703.0,539.8L703.5,539.1L704.0,538.3L704.5,537.5L705.0,536.7L705.5,535.8L706.0,534.8L706.5,533.8L707.0,532.7L707.5,531.4L708.0,530.1L708.5,528.7L709.0,527.1L709.5,525.5L710.0,523.6L710.5,521.6L711.0,519.4L711.5,517.1L712.0,514.5L712.5,511.7L713.0,508.6L713.5,505.2L714.0,501.6L714.5,497.7L715.0,493.5L715.5,488.9L716.0,483.9L716.5,478.6L717.0,473.0L717.5,466.9L718.0,460.5L718.5,453.7L719.0,446.6L719.5,439.1L720.0,431.4L720.5,423.4L721.0,415.4L721.5,407.3L722.0,399.3L722.5,391.6L723.0,384.4L723.5,377.8L724.0,372.1L724.5,367.5L725.0,364.1L725.5,362.1L726.0,361.6L726.5,362.6L727.0,365.0L727.5,368.8L728.0,373.7L728.5,379.7L729.0,386.4L729.5,393.7L730.0,401.4L730.5,409.3L731.0,417.2L731.5,425.1L732.0,432.8L732.5,440.3L733.0,447.5L733.5,454.4L734.0,460.9L734.5,467.0L735.0,472.7L735.5,478.1L736.0,483.1L736.5,487.7L737.0,492.0L737.5,496.0L738.0,499.6L738.5,502.9L739.0,506.0L739.5,508.8L740.0,511.3L740.5,513.7L741.0,515.8L741.5,517.7L742.0,519.4L742.5,521.0L743.0,522.4L743.5,523.7L744.0,524.9L744.5,525.9L745.0,526.8L745.5,527.7L746.0,528.5L746.5,529.1L747.0,529.7L747.5,530.3L748.0,530.8L748.5,531.2L749.0,531.5L749.5,531.8L750.0,532.1L750.5,532.3L751.0,532.5L751.5,532.6L752.0,532.6L752.5,532.6L753.0,532.6L753.5,532.5L754.0,532.4L754.5,532.2L755.0,532.0L755.5,531.7L756.0,531.4L756.5,531.0L757.0,530.5L757.5,530.0L758.0,529.4L758.5,528.6L759.0,527.9L759.5,527.0L760.0,526.0L760.5,524.8L761.0,523.6L761.5,522.2L762.0,520.6L762.5,518.9L763.0,517.0L763.5,515.0L764.0,512.7L764.5,510.2L765.0,507.4L765.5,504.4L766.0,501.2L766.5,497.6L767.0,493.8L767.5,489.8L768.0,485.4L768.5,480.8L769.0,475.9L769.5,470.8L770.0,465.6L770.5,460.2L771.0,454.9L771.5,449.6L772.0,444.5L772.5,439.9L773.0,435.7L773.5,432.3L774.0,429.8L774.5,428.2L775.0,427.7L775.5,428.3L776.0,430.0L776.5,432.6L777.0,436.2L777.5,440.4L778.0,445.2L778.5,450.4L779.0,455.8L779.5,461.2L780.0,466.7L780.5,472.1L781.0,477.3L781.5,482.3L782.0,487.0L782.5,491.5L783.0,495.7L783.5,499.7L784.0,503.3L784.5,506.7L785.0,509.9L785.5,512.8L786.0,515.4L786.5,517.9L787.0,520.1L787.5,522.2L788.0,524.1L788.5,525.8L789.0,527.4L789.5,528.8L790.0,530.2L790.5,531.4L791.0,532.5L791.5,533.5L792.0,534.5L792.5,535.3L793.0,536.1L793.5,536.9L794.0,537.6L794.5,538.2L795.0,538.8L795.5,539.3L796.0,539.9L796.5,540.3L797.0,540.8L797.5,541.2L798.0,541.6L798.5,542.0L799.0,542.4L799.5,542.7L800.0,543.0L800.5,543.3L801.0,543.6L801.5,543.9L802.0,544.1L802.5,544.4L803.0,544.6L803.5,544.8L804.0,545.1L804.5,545.3L805.0,545.5L805.5,545.6L806.0,545.8L806.5,546.0L807.0,546.2L807.5,546.3L808.0,546.5L808.5,546.6L809.0,546.7L809.5,546.9L810.0,547.0L810.5,547.1L811.0,547.2L811.5,547.4L812.0,547.5L812.5,547.6L813.0,547.7L813.5,547.8L814.0,547.9L814.5,548.0L815.0,548.1L815.5,548.1L816.0,548.2L816.5,548.3L817.0,548.4L817.5,548.5L818.0,548.5L818.5,548.6L819.0,548.7L819.5,548.7L820.0,548.8L820.5,548.9L821.0,548.9L821.5,549.0L822.0,549.0L822.5,549.1L823.0,549.1L823.5,549.2L824.0,549.2L824.5,549.3L825.0,549.3L825.5,549.4L826.0,549.4L826.5,549.5L827.0,549.5L827.5,549.6L828.0,549.6L828.5,549.6L829.0,549.7L829.5,549.7L830.0,549.8L830.5,549.8L831.0,549.8L831.5,549.9L832.0,549.9L832.5,549.9L833.0,550.0L833.5,550.0L834.0,550.0L834.5,550.0L835.0,550.1L835.5,550.1L836.0,550.1L836.5,550.2L837.0,550.2L837.5,550.2L838.0,550.2L838.5,550.3L839.0,550.3L839.5,550.3L840.0,550.3L840.5,550.4L841.0,550.4L841.5,550.4L842.0,550.4L842.5,550.4L843.0,550.5L843.5,550.5L844.0,550.5L844.5,550.5L845.0,550.5L845.5,550.6L846.0,550.6L846.5,550.6L847.0,550.6L847.5,550.6L848.0,550.7L848.5,550.7L849.0,550.7L849.5,550.7L850.0,550.7L850.5,550.7L851.0,550.8L851.5,550.8L852.0,550.8L852.5,550.8L853.0,550.8L853.5,550.8L854.0,550.8L854.5,550.9L855.0,550.9L855.5,550.9L856.0,550.9L856.5,550.9L857.0,550.9L857.5,550.9L858.0,550.9L858.5,551.0L859.0,551.0L859.5,551.0L860.0,551.0L860.5,551.0L861.0,551.0L861.5,551.0L862.0,551.0L862.5,551.0L863.0,551.1L863.5,551.1L864.0,551.1L864.5,551.1L865.0,551.1L865.5,551.1L866.0,551.1L866.5,551.1L867.0,551.1L867.5,551.1L868.0,551.2L868.5,551.2L869.0,551.2L869.5,551.2L870.0,551.2L870.5,551.2L871.0,551.2L871.5,551.2L872.0,551.2L872.5,551.2L873.0,551.2L873.5,551.2L874.0,551.3" fill="none" stroke="#111" stroke-width="1.0" stroke-linejoin="round" stroke-dasharray="2,3"/>
<rect x="751.20" y="345.70" width="118.20" height="46.90" fill="#fff" stroke="#444" stroke-width="1.0"/>
<text x="756.60" y="361.90" font-size="15.3" stroke="#000" stroke-width="0.25">a.</text>
<text x="768.90" y="361.90" font-size="15.3" textLength="18.60" lengthAdjust="spacingAndGlyphs" stroke="#000" stroke-width="0.25">Mo</text>
<text x="787.70" y="361.90" font-size="15.3" textLength="12.40" lengthAdjust="spacingAndGlyphs" stroke="#000" stroke-width="0.25" font-style="italic">3d</text>
<text x="799.90" y="366.40" font-size="8.5" textLength="10.20" lengthAdjust="spacing" stroke="#000" stroke-width="0.25">3/2</text>
<text x="812.70" y="361.90" font-size="15.3" textLength="54.00" lengthAdjust="spacing" stroke="#000" stroke-width="0.25">(232.8eV)</text>
<text x="756.60" y="384.40" font-size="15.3" stroke="#000" stroke-width="0.25">b.</text>
<text x="769.60" y="384.40" font-size="15.3" textLength="18.60" lengthAdjust="spacingAndGlyphs" stroke="#000" stroke-width="0.25">Mo</text>
<text x="788.40" y="384.40" font-size="15.3" textLength="12.40" lengthAdjust="spacingAndGlyphs" stroke="#000" stroke-width="0.25" font-style="italic">3d</text>
<text x="800.60" y="388.90" font-size="8.5" textLength="10.20" lengthAdjust="spacing" stroke="#000" stroke-width="0.25">5/2</text>
<text x="814.00" y="384.40" font-size="15.3" textLength="52.70" lengthAdjust="spacing" stroke="#000" stroke-width="0.25">(236.0eV)</text>
<text x="696.00" y="388.50" font-size="15" font-weight="bold" stroke="#000" stroke-width="0.35">a</text>
<path d="M704.90,387.90L714.59,395.11" stroke="#222" stroke-width="0.8"/>
<path d="M718.60,398.10L713.40,396.72L715.78,393.51Z" fill="#111"/>
<text x="797.50" y="441.30" font-size="15" font-weight="bold" stroke="#000" stroke-width="0.35">b</text>
<path d="M796.90,440.30L785.09,449.86" stroke="#222" stroke-width="0.8"/>
<path d="M781.20,453.00L783.83,448.30L786.35,451.41Z" fill="#111"/>
</g></svg></body></html>
